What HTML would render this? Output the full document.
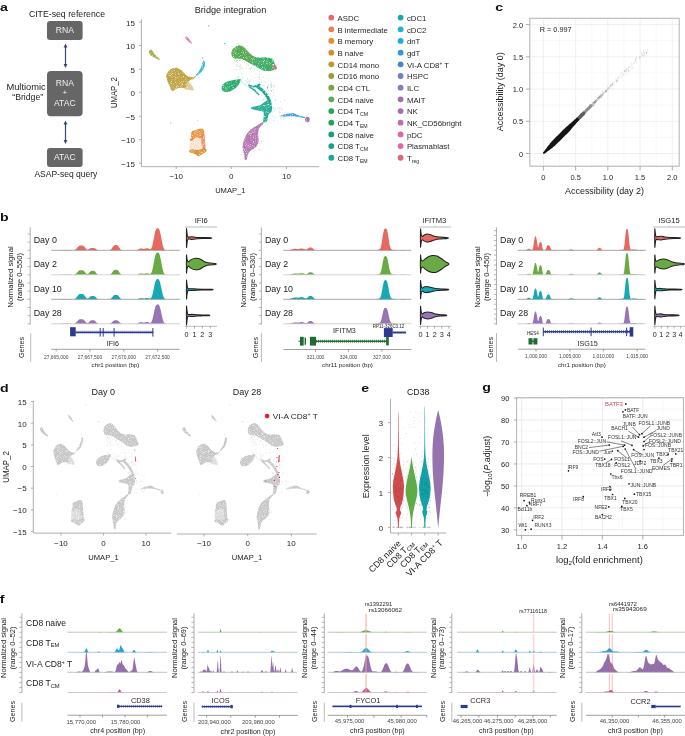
<!DOCTYPE html>
<html><head><meta charset="utf-8"><style>
html,body{margin:0;padding:0;background:#fff;}
body{width:685px;height:736px;overflow:hidden;font-family:"Liberation Sans",sans-serif;}
svg{display:block;will-change:transform;}
</style></head><body>
<svg width="685" height="736" viewBox="0 0 685 736" font-family="Liberation Sans, sans-serif" fill="#222222"><text transform="translate(0 10.6) scale(1.22 1)" font-size="11.6" font-weight="bold" fill="#111">a</text>
<text transform="translate(0 220.9) scale(1.22 1)" font-size="11.6" font-weight="bold" fill="#111">b</text>
<text transform="translate(495.2 10.6) scale(1.22 1)" font-size="11.6" font-weight="bold" fill="#111">c</text>
<text transform="translate(0 392.2) scale(1.22 1)" font-size="11.6" font-weight="bold" fill="#111">d</text>
<text transform="translate(361.2 392.0) scale(1.22 1)" font-size="11.6" font-weight="bold" fill="#111">e</text>
<text transform="translate(482.2 391.2) scale(1.22 1)" font-size="11.6" font-weight="bold" fill="#111">g</text>
<text transform="translate(-0.3 602.6) scale(1.22 1)" font-size="11.6" font-weight="bold" fill="#111">f</text>
<text x="28.9" y="17.3" font-size="8.7" textLength="76.1" lengthAdjust="spacingAndGlyphs">CITE-seq reference</text>
<rect x="47" y="21" width="35.6" height="19" fill="#666666" rx="3" />
<text x="64.8" y="33.1" font-size="8.6" text-anchor="middle" fill="#f0f0f0">RNA</text>
<rect x="47" y="70.9" width="35.6" height="45.3" fill="#666666" rx="4" />
<text x="64.8" y="85.5" font-size="8.6" text-anchor="middle" fill="#f0f0f0">RNA</text>
<text x="64.8" y="95.4" font-size="8" text-anchor="middle" fill="#f0f0f0">+</text>
<text x="64.8" y="106.1" font-size="8.6" text-anchor="middle" fill="#f0f0f0">ATAC</text>
<rect x="47" y="148" width="35.6" height="19" fill="#666666" rx="3" />
<text x="64.8" y="159.8" font-size="8.6" text-anchor="middle" fill="#f0f0f0">ATAC</text>
<text x="34.4" y="176.6" font-size="8.7" textLength="63" lengthAdjust="spacingAndGlyphs">ASAP-seq query</text>
<text x="45.7" y="89.8" font-size="8.7" text-anchor="end" textLength="39.3" lengthAdjust="spacingAndGlyphs">Multiomic</text>
<text x="43.2" y="99.7" font-size="8.7" text-anchor="end">“Bridge”</text>
<line x1="65.5" y1="45.6" x2="65.5" y2="66" stroke="#34496b" stroke-width="1.2" />
<path d="M65.5,43.6 L63.6,47.6 L67.4,47.6 Z" fill="#34496b" />
<path d="M65.5,68 L63.6,64 L67.4,64 Z" fill="#34496b" />
<line x1="65.5" y1="122.4" x2="65.5" y2="141.9" stroke="#34496b" stroke-width="1.2" />
<path d="M65.5,120.4 L63.6,124.4 L67.4,124.4 Z" fill="#34496b" />
<path d="M65.5,143.9 L63.6,139.9 L67.4,139.9 Z" fill="#34496b" />
<text x="230.5" y="12.6" font-size="8.9" text-anchor="middle" textLength="71.5" lengthAdjust="spacingAndGlyphs">Bridge integration</text>
<line x1="141.4" y1="19.3" x2="141.4" y2="166.7" stroke="#9a9a9a" stroke-width="0.8" />
<line x1="141.4" y1="166.7" x2="319.2" y2="166.7" stroke="#9a9a9a" stroke-width="0.8" />
<line x1="139" y1="22.2" x2="141.4" y2="22.2" stroke="#9a9a9a" stroke-width="0.8" />
<text x="134.9" y="25.5" font-size="8" text-anchor="end" fill="#262626">15</text>
<line x1="139" y1="45.5" x2="141.4" y2="45.5" stroke="#9a9a9a" stroke-width="0.8" />
<text x="134.9" y="48.8" font-size="8" text-anchor="end" fill="#262626">10</text>
<line x1="139" y1="69.2" x2="141.4" y2="69.2" stroke="#9a9a9a" stroke-width="0.8" />
<text x="134.9" y="72.5" font-size="8" text-anchor="end" fill="#262626">5</text>
<line x1="139" y1="92.3" x2="141.4" y2="92.3" stroke="#9a9a9a" stroke-width="0.8" />
<text x="134.9" y="95.6" font-size="8" text-anchor="end" fill="#262626">0</text>
<line x1="139" y1="116.3" x2="141.4" y2="116.3" stroke="#9a9a9a" stroke-width="0.8" />
<text x="134.9" y="119.6" font-size="8" text-anchor="end" fill="#262626">−5</text>
<line x1="139" y1="139.6" x2="141.4" y2="139.6" stroke="#9a9a9a" stroke-width="0.8" />
<text x="134.9" y="142.9" font-size="8" text-anchor="end" fill="#262626">−10</text>
<line x1="139" y1="163.2" x2="141.4" y2="163.2" stroke="#9a9a9a" stroke-width="0.8" />
<text x="134.9" y="166.5" font-size="8" text-anchor="end" fill="#262626">−15</text>
<line x1="176.2" y1="166.7" x2="176.2" y2="169.1" stroke="#9a9a9a" stroke-width="0.8" />
<text x="176.2" y="178.6" font-size="8" text-anchor="middle" fill="#262626">−10</text>
<line x1="231.3" y1="166.7" x2="231.3" y2="169.1" stroke="#9a9a9a" stroke-width="0.8" />
<text x="231.3" y="178.6" font-size="8" text-anchor="middle" fill="#262626">0</text>
<line x1="286.4" y1="166.7" x2="286.4" y2="169.1" stroke="#9a9a9a" stroke-width="0.8" />
<text x="286.4" y="178.6" font-size="8" text-anchor="middle" fill="#262626">10</text>
<text x="230.3" y="192.5" font-size="8" text-anchor="middle" textLength="30.3" lengthAdjust="spacingAndGlyphs">UMAP_1</text>
<text x="116.6" y="92.6" font-size="8.4" text-anchor="middle" transform="rotate(-90 116.6 92.6)" textLength="31" lengthAdjust="spacingAndGlyphs">UMAP_2</text>
<defs><filter id="sp" x="0" y="0" width="1" height="1"><feTurbulence type="fractalNoise" baseFrequency="1.1" numOctaves="1" seed="4" result="n"/><feColorMatrix in="n" type="matrix" values="0 0 0 0 0  0 0 0 0 0  0 0 0 0 0  0 0 0 -3.0 2.55" result="m"/><feComposite in="SourceGraphic" in2="m" operator="in"/></filter></defs>
<g filter="url(#sp)"><path d="M246.7 64.3h0M259.9 63.1h0M248.2 64.6h0M239.2 63.7h0M251.6 67.3h0M236.6 60.9h0M236.5 67.5h0M253.4 57.5h0M261.5 69.5h0M252.3 65.0h0M238.4 57.2h0M248.8 57.8h0M239.3 60.1h0M234.8 63.0h0M246.3 68.0h0M248.5 65.3h0M248.0 65.6h0M246.8 60.6h0M261.9 69.9h0M257.5 66.2h0M242.8 60.0h0M242.1 57.9h0M255.5 62.2h0M257.7 62.0h0M260.8 68.0h0M234.0 59.7h0M259.5 63.1h0M261.5 62.2h0M236.0 65.2h0M255.8 60.5h0M236.4 61.3h0M261.0 66.9h0M237.3 60.2h0M236.8 57.8h0M256.3 59.3h0M249.7 62.8h0M239.3 66.5h0M237.7 65.4h0M237.3 62.5h0M240.0 60.5h0M261.2 67.4h0M242.5 68.5h0M239.9 62.1h0M257.9 65.3h0M236.8 69.9h0M240.0 60.4h0M255.6 61.3h0M242.3 58.0h0M236.5 64.6h0M240.8 64.8h0M244.4 62.9h0M260.9 63.3h0M250.1 68.3h0M239.1 59.0h0M259.4 67.6h0M241.0 59.5h0M254.7 69.2h0M239.5 69.4h0M258.7 64.8h0M245.8 58.3h0M235.1 69.5h0M240.7 66.2h0M241.2 67.7h0M250.7 60.8h0M238.9 66.4h0M235.9 60.0h0M249.7 68.1h0M251.2 60.6h0M259.7 59.7h0M234.5 60.5h0" stroke="#6cbf7a" stroke-width="0.90" stroke-linecap="round" fill="none" opacity="0.55"/><path d="M250.3 69.0h0M241.6 73.9h0M254.3 70.1h0M247.6 82.3h0M267.4 78.5h0M258.1 77.4h0M240.5 68.6h0M236.6 82.6h0M258.4 83.4h0M236.7 78.2h0M251.4 79.7h0M246.2 84.0h0M238.4 76.7h0M259.6 82.4h0M259.6 79.3h0M261.4 82.6h0M247.3 79.0h0M264.8 81.9h0M249.3 80.6h0M263.6 77.2h0M256.0 74.1h0M254.6 77.7h0M238.6 78.2h0M267.8 82.1h0M259.3 74.2h0M259.5 77.3h0M250.1 81.4h0M238.7 80.0h0M237.0 77.6h0M251.4 71.7h0" stroke="#6cbf7a" stroke-width="0.90" stroke-linecap="round" fill="none" opacity="0.55"/><path d="M247.0 82.0h0M246.1 85.4h0M242.6 78.1h0M243.0 83.4h0M242.0 79.4h0M249.1 83.3h0M244.4 85.1h0M243.3 83.3h0M242.0 81.4h0M248.1 85.3h0M248.8 81.1h0M245.8 80.5h0M241.4 82.0h0M248.4 84.8h0M247.1 85.6h0" stroke="#5cb8a8" stroke-width="0.90" stroke-linecap="round" fill="none" opacity="0.55"/><path d="M265.9 89.8h0M268.3 93.4h0M265.0 98.1h0M270.8 100.8h0M266.4 112.5h0M275.7 99.4h0M263.0 85.1h0M274.2 85.4h0M271.9 103.4h0M266.3 110.9h0M262.3 88.6h0M268.4 84.8h0M273.6 92.1h0M264.0 85.6h0M270.8 99.2h0M270.8 106.3h0M273.3 116.6h0M271.6 90.8h0M268.7 90.1h0M262.2 100.1h0M272.0 90.1h0M265.8 95.8h0M271.8 101.7h0M270.6 109.7h0M267.5 110.9h0M274.7 87.0h0M275.1 108.6h0M263.8 99.4h0M270.8 114.9h0M267.3 103.3h0M274.3 111.1h0M275.2 99.8h0M271.1 91.0h0M272.1 111.8h0M271.0 108.4h0M265.0 114.6h0M275.7 117.2h0M269.5 110.9h0M266.5 114.9h0M274.0 95.8h0M263.2 99.0h0M269.7 110.1h0M268.8 85.0h0M273.3 86.2h0M273.2 89.9h0M266.7 110.8h0M264.0 89.1h0M269.2 108.6h0M273.8 107.4h0M275.2 100.7h0" stroke="#5cb8a8" stroke-width="0.90" stroke-linecap="round" fill="none" opacity="0.55"/><path d="M261.2 131.9h0M249.5 141.6h0M250.6 146.0h0M256.2 141.5h0M259.5 142.3h0M251.0 138.4h0M259.5 149.8h0M249.3 148.7h0M261.5 141.5h0M255.2 134.4h0M254.6 141.1h0M255.7 130.6h0M261.5 141.4h0M252.4 147.6h0M255.0 140.8h0M257.1 131.4h0M254.6 139.1h0M261.3 150.3h0M250.3 140.4h0M248.0 139.5h0M259.1 149.8h0M253.6 137.0h0M249.1 143.6h0M260.8 132.8h0M258.5 130.5h0M249.1 135.0h0M257.0 137.1h0M251.7 143.6h0M247.7 146.1h0M248.0 141.2h0M250.0 134.4h0M254.5 139.6h0M252.0 139.1h0M254.5 133.5h0M249.3 143.9h0M256.2 141.7h0M259.6 143.5h0M259.7 135.1h0M257.9 147.8h0M260.4 136.9h0" stroke="#c08fc0" stroke-width="0.90" stroke-linecap="round" fill="none" opacity="0.55"/><path d="M184.4 89.1h0M183.1 90.0h0M192.4 79.6h0M183.4 86.7h0M183.6 79.2h0M191.7 83.1h0M191.1 79.5h0M185.6 86.2h0M180.2 80.4h0M189.6 88.9h0M193.6 79.4h0M187.1 87.1h0M187.0 86.2h0M182.6 78.8h0M181.5 78.4h0M187.7 84.2h0M188.0 79.8h0M182.6 80.4h0M191.8 89.9h0M193.0 79.1h0M180.9 89.4h0M186.5 87.2h0M184.6 83.6h0M187.2 83.2h0M188.4 78.2h0M189.8 88.1h0M182.5 83.4h0M190.4 82.9h0M182.7 80.0h0M187.2 78.2h0" stroke="#c8b060" stroke-width="0.90" stroke-linecap="round" fill="none" opacity="0.55"/><path d="M283.4 117.6h0M280.6 118.9h0M279.4 108.9h0M279.0 111.1h0M284.7 117.7h0M273.9 120.0h0M281.2 117.1h0M282.2 108.9h0M283.4 119.4h0M280.4 116.9h0M281.5 108.9h0M280.8 101.6h0M275.1 110.3h0M270.2 107.8h0M279.6 113.7h0M273.5 120.8h0M280.0 107.4h0M279.9 112.5h0M278.0 108.6h0M285.0 114.1h0M280.5 116.8h0M284.7 100.5h0M279.2 116.3h0M273.8 108.8h0M270.8 104.3h0" stroke="#70a8d8" stroke-width="0.90" stroke-linecap="round" fill="none" opacity="0.55"/><path d="M194.1 140.0h0M192.8 148.1h0M196.1 144.1h0M200.6 144.7h0M200.9 145.4h0M198.9 139.8h0M196.6 146.6h0M190.5 148.3h0M191.8 143.7h0M191.9 144.0h0M196.7 139.6h0M200.4 143.2h0M195.8 145.0h0M194.0 141.9h0M197.2 144.6h0M193.1 146.2h0M193.3 139.1h0M192.7 139.4h0M191.7 146.5h0M194.3 148.0h0M198.2 139.5h0M200.9 148.4h0M190.8 148.1h0M194.7 143.8h0M200.7 141.4h0M195.8 148.4h0M198.0 143.7h0M200.8 147.2h0M196.6 140.2h0M196.9 143.6h0M192.2 139.5h0M195.8 140.2h0M194.9 145.7h0M195.0 141.6h0M196.4 143.2h0M198.6 144.3h0M201.0 148.5h0M198.1 141.4h0M191.3 147.9h0M198.6 145.2h0M194.0 141.7h0M197.5 144.6h0M196.5 145.3h0M198.3 140.9h0M192.7 148.8h0" stroke="#e8904a" stroke-width="0.90" stroke-linecap="round" fill="none" opacity="0.55"/><path d="M149.3,50.8 C149.73,50.3 150.95,49.57 151.6,49.8 C152.25,50.03 152.47,51.23 153.2,52.2 C153.93,53.17 154.95,54.43 156,55.6 C157.05,56.77 159.1,58.5 159.5,59.2 C159.9,59.9 159.25,60.07 158.4,59.8 C157.55,59.53 155.7,58.37 154.4,57.6 C153.1,56.83 151.5,56 150.6,55.2 C149.7,54.4 149.22,53.53 149,52.8 C148.78,52.07 148.87,51.3 149.3,50.8 Z" fill="#9c9e37" opacity="0.9"/><path d="M185.3,37.2 C185.53,36.9 186.12,36.2 186.8,36.6 C187.48,37 188.53,38.5 189.4,39.6 C190.27,40.7 191.73,42.53 192,43.2 C192.27,43.87 191.77,44.03 191,43.6 C190.23,43.17 188.33,41.47 187.4,40.6 C186.47,39.73 185.75,38.97 185.4,38.4 C185.05,37.83 185.07,37.5 185.3,37.2 Z" fill="#db68a8" opacity="0.9"/><path d="M203.4,60.4 C203.82,60.23 204.7,61.03 204.9,62 C205.1,62.97 204.98,64.77 204.6,66.2 C204.22,67.63 203.43,69.37 202.6,70.6 C201.77,71.83 200.53,72.77 199.6,73.6 C198.67,74.43 197.6,75.38 197,75.6 C196.4,75.82 195.73,75.53 196,74.9 C196.27,74.27 197.77,73.03 198.6,71.8 C199.43,70.57 200.37,68.97 201,67.5 C201.63,66.03 202,64.18 202.4,63 C202.8,61.82 202.98,60.57 203.4,60.4 Z" fill="#1db3d3" opacity="0.9"/><path d="M186,80.5 C186.88,79.63 189.25,79.48 189.8,79.8 C190.35,80.12 188.87,81.35 189.3,82.4 C189.73,83.45 191.7,84.78 192.4,86.1 C193.1,87.42 194.02,89.68 193.5,90.3 C192.98,90.92 190.72,89.98 189.3,89.8 C187.88,89.62 185.8,90 185,89.2 C184.2,88.4 184.33,86.45 184.5,85 C184.67,83.55 185.12,81.37 186,80.5 Z" fill="#d9c88e" opacity="0.9"/><path d="M166.4,77.7 C166.22,76.47 166.12,75.73 166.6,74.5 C167.08,73.27 168.07,71.38 169.3,70.3 C170.53,69.22 172.6,68.35 174,68 C175.4,67.65 176.47,67.82 177.7,68.2 C178.93,68.58 180.18,69.33 181.4,70.3 C182.62,71.27 183.78,72.98 185,74 C186.22,75.02 187.28,75.88 188.7,76.4 C190.12,76.92 192.2,77.23 193.5,77.1 C194.8,76.97 196.42,75.37 196.5,75.6 C196.58,75.83 195.12,77.73 194,78.5 C192.88,79.27 191.05,79.45 189.8,80.2 C188.55,80.95 187.22,81.78 186.5,83 C185.78,84.22 186.58,86.7 185.5,87.5 C184.42,88.3 181.48,87.58 180,87.8 C178.52,88.02 177.68,88.3 176.6,88.8 C175.52,89.3 174.37,90.55 173.5,90.8 C172.63,91.05 172.02,91 171.4,90.3 C170.78,89.6 170.42,88 169.8,86.6 C169.18,85.2 168.27,83.38 167.7,81.9 C167.13,80.42 166.58,78.93 166.4,77.7 Z" fill="#b99a33" opacity="0.9"/><path d="M231.6,52.5 C231.9,51.18 232.42,49.25 233.8,48.1 C235.18,46.95 238.05,45.58 239.9,45.6 C241.75,45.62 243.47,47.1 244.9,48.2 C246.33,49.3 247.27,50.97 248.5,52.2 C249.73,53.43 250.67,54.7 252.3,55.6 C253.93,56.5 255.98,57.3 258.3,57.6 C260.62,57.9 263.87,57.2 266.2,57.4 C268.53,57.6 270.93,57.87 272.3,58.8 C273.67,59.73 273.82,61.53 274.4,63 C274.98,64.47 276,66.4 275.8,67.6 C275.6,68.8 274.67,69.62 273.2,70.2 C271.73,70.78 268.75,71.1 267,71.1 C265.25,71.1 264.28,70.82 262.7,70.2 C261.12,69.58 259.37,68.45 257.5,67.4 C255.63,66.35 253.33,64.93 251.5,63.9 C249.67,62.87 248.28,62.08 246.5,61.2 C244.72,60.32 242.78,59.08 240.8,58.6 C238.82,58.12 236.07,58.73 234.6,58.3 C233.13,57.87 232.5,56.97 232,56 C231.5,55.03 231.3,53.82 231.6,52.5 Z" fill="#23a655" opacity="0.9"/><path d="M231.6,52.5 C231.9,51.18 232.42,49.25 233.8,48.1 C235.18,46.95 238.05,45.58 239.9,45.6 C241.75,45.62 243.47,47.1 244.9,48.2 C246.33,49.3 247.27,50.97 248.5,52.2 C249.73,53.43 251.47,54.3 252.3,55.6 C253.13,56.9 253.55,58.6 253.5,60 C253.45,61.4 253.17,63.8 252,64 C250.83,64.2 248.37,62.1 246.5,61.2 C244.63,60.3 242.78,59.08 240.8,58.6 C238.82,58.12 236.07,58.73 234.6,58.3 C233.13,57.87 232.5,56.97 232,56 C231.5,55.03 231.3,53.82 231.6,52.5 Z" fill="#5baa52" opacity="0.9"/><path d="M221.6,87.5 C221.77,86.42 222.52,85 223.5,84 C224.48,83 226,82.13 227.5,81.5 C229,80.87 230.92,80.53 232.5,80.2 C234.08,79.87 235.65,79.67 237,79.5 C238.35,79.33 240.07,78.87 240.6,79.2 C241.13,79.53 240.55,80.53 240.2,81.5 C239.85,82.47 239.37,83.78 238.5,85 C237.63,86.22 236.42,87.73 235,88.8 C233.58,89.87 231.58,90.87 230,91.4 C228.42,91.93 226.75,92.15 225.5,92 C224.25,91.85 223.15,91.25 222.5,90.5 C221.85,89.75 221.43,88.58 221.6,87.5 Z" fill="#1ba561" opacity="0.9"/><path d="M262.5,122.2 C263.5,121.9 263.82,122.6 263.4,123.4 C262.98,124.2 260.82,125.9 260,127 C259.18,128.1 258.8,128.67 258.5,130 C258.2,131.33 258.18,133.33 258.2,135 C258.22,136.67 258.7,138.33 258.6,140 C258.5,141.67 258.37,143.57 257.6,145 C256.83,146.43 255.33,147.5 254,148.6 C252.67,149.7 250.67,150.37 249.6,151.6 C248.53,152.83 248.07,154.67 247.6,156 C247.13,157.33 247.27,158.97 246.8,159.6 C246.33,160.23 245.23,160.57 244.8,159.8 C244.37,159.03 244.5,156.63 244.2,155 C243.9,153.37 243.27,151.5 243,150 C242.73,148.5 242.5,147.5 242.6,146 C242.7,144.5 243.1,142.67 243.6,141 C244.1,139.33 244.77,137.57 245.6,136 C246.43,134.43 247.43,132.9 248.6,131.6 C249.77,130.3 251.13,129.27 252.6,128.2 C254.07,127.13 255.75,126.2 257.4,125.2 C259.05,124.2 261.5,122.5 262.5,122.2 Z" fill="#ad6daa" opacity="0.9"/><path d="M262.6,103.6 C263.87,102.83 266.07,100.28 267.6,100.6 C269.13,100.92 271.13,103.68 271.8,105.5 C272.47,107.32 272.1,110.05 271.6,111.5 C271.1,112.95 269.43,113.12 268.8,114.2 C268.17,115.28 268.13,116.8 267.8,118 C267.47,119.2 267.57,120.7 266.8,121.4 C266.03,122.1 263.7,123.1 263.2,122.2 C262.7,121.3 263.83,117.73 263.8,116 C263.77,114.27 263.97,112.73 263,111.8 C262.03,110.87 259.75,110.77 258,110.4 C256.25,110.03 253.67,110.07 252.5,109.6 C251.33,109.13 250.5,108.17 251,107.6 C251.5,107.03 254,106.6 255.5,106.2 C257,105.8 258.82,105.63 260,105.2 C261.18,104.77 261.33,104.37 262.6,103.6 Z" fill="#14a58f" opacity="0.9"/><path d="M281.2,115.4 C282,115.03 284.28,114.52 286,114.1 C287.72,113.68 290.08,113 291.5,112.9 C292.92,112.8 293.42,113.12 294.5,113.5 C295.58,113.88 296.25,114.6 298,115.2 C299.75,115.8 303.83,116.62 305,117.1 C306.17,117.58 306.17,118.13 305,118.1 C303.83,118.07 300.08,117.22 298,116.9 C295.92,116.58 294.5,116.28 292.5,116.2 C290.5,116.12 287.88,116.38 286,116.4 C284.12,116.42 282,116.47 281.2,116.3 C280.4,116.13 280.4,115.77 281.2,115.4 Z" fill="#2f98d6" opacity="0.9"/><path d="M191,137.5 C192.07,136.33 194.17,137.5 196,137.5 C197.83,137.5 200.67,136.58 202,137.5 C203.33,138.42 203.67,140.92 204,143 C204.33,145.08 205.33,148.67 204,150 C202.67,151.33 198.33,150.92 196,151 C193.67,151.08 191.07,151.58 190,150.5 C188.93,149.42 189.43,146.67 189.6,144.5 C189.77,142.33 189.93,138.67 191,137.5 Z" fill="#f8e2cc" opacity="0.9"/><path d="M192,131.2 C192.8,130.62 194.75,130.4 196,130 C197.25,129.6 198.4,129 199.5,128.8 C200.6,128.6 201.82,128.35 202.6,128.8 C203.38,129.25 203.97,130.22 204.2,131.5 C204.43,132.78 204.62,135.38 204,136.5 C203.38,137.62 201.83,138.02 200.5,138.2 C199.17,138.38 197.25,137.37 196,137.6 C194.75,137.83 193.8,139.62 193,139.6 C192.2,139.58 191.5,138.52 191.2,137.5 C190.9,136.48 191.07,134.55 191.2,133.5 C191.33,132.45 191.2,131.78 192,131.2 Z" fill="#e58a2d" opacity="0.9"/><path d="M201.6,135.5 C202.03,134.08 203.63,133.58 204.2,134.5 C204.77,135.42 204.8,138.58 205,141 C205.2,143.42 205.8,147.63 205.4,149 C205,150.37 203.23,150.2 202.6,149.2 C201.97,148.2 201.77,145.28 201.6,143 C201.43,140.72 201.17,136.92 201.6,135.5 Z" fill="#e8804f" opacity="0.9"/><path d="M189.2,150.6 C189.7,150.07 191.53,149.3 193,149.2 C194.47,149.1 196.33,150.07 198,150 C199.67,149.93 201.5,148.9 203,148.8 C204.5,148.7 206.57,148.87 207,149.4 C207.43,149.93 206.47,151.13 205.6,152 C204.73,152.87 202.83,153.9 201.8,154.6 C200.77,155.3 200.28,156.1 199.4,156.2 C198.52,156.3 197.48,155.67 196.5,155.2 C195.52,154.73 194.58,153.87 193.5,153.4 C192.42,152.93 190.72,152.87 190,152.4 C189.28,151.93 188.7,151.13 189.2,150.6 Z" fill="#d48e2f" opacity="0.9"/><path d="M249.2,85.6 C250,85.77 252.27,86.77 254,86.6 C255.73,86.43 258.67,84.93 259.6,84.6" fill="none" stroke="#14a58f" stroke-width="2.0" stroke-linecap="round" stroke-linejoin="round"/><path d="M257.5,86.5 C258.33,87.17 260.82,88.75 262.5,90.5 C264.18,92.25 266.32,94.83 267.6,97 C268.88,99.17 269.77,102.42 270.2,103.5" fill="none" stroke="#14a58f" stroke-width="3.0" stroke-linecap="round" stroke-linejoin="round"/><path d="M249.5,86.8 C250.33,87.37 252.98,88.9 254.5,90.2 C256.02,91.5 257.92,93.87 258.6,94.6" fill="none" stroke="#3aae9a" stroke-width="1.8" stroke-linecap="round" stroke-linejoin="round"/><ellipse cx="275" cy="67.4" rx="1.9" ry="2.3" fill="#de6479"/><ellipse cx="307.4" cy="119.6" rx="2.3" ry="2.8" fill="#9b72ac"/><ellipse cx="208.6" cy="25.8" rx="0.6" ry="0.6" fill="#1db3d3"/><ellipse cx="224.7" cy="43.6" rx="0.7" ry="0.6" fill="#1db3d3"/><ellipse cx="170.6" cy="122.9" rx="0.5" ry="0.5" fill="#4060a0"/><ellipse cx="197.6" cy="120.3" rx="0.5" ry="0.5" fill="#db68a8"/><ellipse cx="202.3" cy="58" rx="0.5" ry="0.9" fill="#e58a9a"/><ellipse cx="191.4" cy="139.6" rx="1.6" ry="1.2" fill="#e8804f"/><ellipse cx="267.6" cy="87.4" rx="0.5" ry="1.2" fill="#8a7ab5"/><path d="M249,57.5 Q260,62 273.5,67.2" fill="none" stroke="#c98a7a" stroke-width="1" opacity="0.55"/><path d="M271.1,82 L271.2,88" stroke="#9cc8e8" stroke-width="0.8"/></g>
<circle cx="331.3" cy="17.6" r="2.9" fill="#e46b6f"/>
<text x="337.5" y="21" font-size="7.8" fill="#262626">ASDC</text>
<circle cx="331.3" cy="29.28" r="2.9" fill="#e8804f"/>
<text x="337.5" y="32.68" font-size="7.8" fill="#262626">B intermediate</text>
<circle cx="331.3" cy="40.96" r="2.9" fill="#e58a2d"/>
<text x="337.5" y="44.36" font-size="7.8" fill="#262626">B memory</text>
<circle cx="331.3" cy="52.64" r="2.9" fill="#d48e2f"/>
<text x="337.5" y="56.04" font-size="7.8" fill="#262626">B naive</text>
<circle cx="331.3" cy="64.32" r="2.9" fill="#b99a33"/>
<text x="337.5" y="67.72" font-size="7.8" fill="#262626">CD14 mono</text>
<circle cx="331.3" cy="76" r="2.9" fill="#9c9e37"/>
<text x="337.5" y="79.4" font-size="7.8" fill="#262626">CD16 mono</text>
<circle cx="331.3" cy="87.68" r="2.9" fill="#72a843"/>
<text x="337.5" y="91.08" font-size="7.8" fill="#262626">CD4 CTL</text>
<circle cx="331.3" cy="99.36" r="2.9" fill="#5baa52"/>
<text x="337.5" y="102.76" font-size="7.8" fill="#262626">CD4 naive</text>
<circle cx="331.3" cy="111.04" r="2.9" fill="#23a655"/>
<text x="337.5" y="114.44" font-size="7.8" fill="#262626">CD4 T<tspan font-size="5.2" dy="1.6">CM</tspan></text>
<circle cx="331.3" cy="122.72" r="2.9" fill="#22a65a"/>
<text x="337.5" y="126.12" font-size="7.8" fill="#262626">CD4 T<tspan font-size="5.2" dy="1.6">EM</tspan></text>
<circle cx="331.3" cy="134.4" r="2.9" fill="#16a46b"/>
<text x="337.5" y="137.8" font-size="7.8" fill="#262626">CD8 naive</text>
<circle cx="331.3" cy="146.08" r="2.9" fill="#16a384"/>
<text x="337.5" y="149.48" font-size="7.8" fill="#262626">CD8 T<tspan font-size="5.2" dy="1.6">CM</tspan></text>
<circle cx="331.3" cy="157.76" r="2.9" fill="#1aa89a"/>
<text x="337.5" y="161.16" font-size="7.8" fill="#262626">CD8 T<tspan font-size="5.2" dy="1.6">EM</tspan></text>
<circle cx="400.6" cy="17.6" r="2.9" fill="#1ba9a6"/>
<text x="406.9" y="21" font-size="7.8" fill="#262626">cDC1</text>
<circle cx="400.6" cy="29.28" r="2.9" fill="#1db3d3"/>
<text x="406.9" y="32.68" font-size="7.8" fill="#262626">cDC2</text>
<circle cx="400.6" cy="40.96" r="2.9" fill="#17ade5"/>
<text x="406.9" y="44.36" font-size="7.8" fill="#262626">dnT</text>
<circle cx="400.6" cy="52.64" r="2.9" fill="#2f98d6"/>
<text x="406.9" y="56.04" font-size="7.8" fill="#262626">gdT</text>
<circle cx="400.6" cy="64.32" r="2.9" fill="#4785c7"/>
<text x="406.9" y="67.72" font-size="7.8" fill="#262626">VI-A CD8<tspan font-size="4.8" dy="-3">+</tspan><tspan dy="3"> T</tspan></text>
<circle cx="400.6" cy="76" r="2.9" fill="#7380be"/>
<text x="406.9" y="79.4" font-size="7.8" fill="#262626">HSPC</text>
<circle cx="400.6" cy="87.68" r="2.9" fill="#8a7ab5"/>
<text x="406.9" y="91.08" font-size="7.8" fill="#262626">ILC</text>
<circle cx="400.6" cy="99.36" r="2.9" fill="#9b72ac"/>
<text x="406.9" y="102.76" font-size="7.8" fill="#262626">MAIT</text>
<circle cx="400.6" cy="111.04" r="2.9" fill="#ad6daa"/>
<text x="406.9" y="114.44" font-size="7.8" fill="#262626">NK</text>
<circle cx="400.6" cy="122.72" r="2.9" fill="#c26bad"/>
<text x="406.9" y="126.12" font-size="7.8" fill="#262626">NK_CD56bright</text>
<circle cx="400.6" cy="134.4" r="2.9" fill="#db68a8"/>
<text x="406.9" y="137.8" font-size="7.8" fill="#262626">pDC</text>
<circle cx="400.6" cy="146.08" r="2.9" fill="#e4669d"/>
<text x="406.9" y="149.48" font-size="7.8" fill="#262626">Plasmablast</text>
<circle cx="400.6" cy="157.76" r="2.9" fill="#de6479"/>
<text x="406.9" y="161.16" font-size="7.8" fill="#262626">T<tspan font-size="5.2" dy="1.6">reg</tspan></text>
<line x1="559.51" y1="18.3" x2="559.51" y2="166.2" stroke="#f4f4f4" stroke-width="0.6" />
<line x1="529.8" y1="137.39" x2="679.2" y2="137.39" stroke="#f4f4f4" stroke-width="0.6" />
<line x1="591.74" y1="18.3" x2="591.74" y2="166.2" stroke="#f4f4f4" stroke-width="0.6" />
<line x1="529.8" y1="105.16" x2="679.2" y2="105.16" stroke="#f4f4f4" stroke-width="0.6" />
<line x1="623.96" y1="18.3" x2="623.96" y2="166.2" stroke="#f4f4f4" stroke-width="0.6" />
<line x1="529.8" y1="72.94" x2="679.2" y2="72.94" stroke="#f4f4f4" stroke-width="0.6" />
<line x1="656.19" y1="18.3" x2="656.19" y2="166.2" stroke="#f4f4f4" stroke-width="0.6" />
<line x1="529.8" y1="40.71" x2="679.2" y2="40.71" stroke="#f4f4f4" stroke-width="0.6" />
<line x1="543.4" y1="18.3" x2="543.4" y2="166.2" stroke="#e9e9e9" stroke-width="0.7" />
<line x1="529.8" y1="153.5" x2="679.2" y2="153.5" stroke="#e9e9e9" stroke-width="0.7" />
<line x1="575.62" y1="18.3" x2="575.62" y2="166.2" stroke="#e9e9e9" stroke-width="0.7" />
<line x1="529.8" y1="121.28" x2="679.2" y2="121.28" stroke="#e9e9e9" stroke-width="0.7" />
<line x1="607.85" y1="18.3" x2="607.85" y2="166.2" stroke="#e9e9e9" stroke-width="0.7" />
<line x1="529.8" y1="89.05" x2="679.2" y2="89.05" stroke="#e9e9e9" stroke-width="0.7" />
<line x1="640.08" y1="18.3" x2="640.08" y2="166.2" stroke="#e9e9e9" stroke-width="0.7" />
<line x1="529.8" y1="56.82" x2="679.2" y2="56.82" stroke="#e9e9e9" stroke-width="0.7" />
<line x1="672.3" y1="18.3" x2="672.3" y2="166.2" stroke="#e9e9e9" stroke-width="0.7" />
<line x1="529.8" y1="24.6" x2="679.2" y2="24.6" stroke="#e9e9e9" stroke-width="0.7" />
<rect x="529.8" y="18.3" width="149.4" height="147.9" fill="none" stroke="#b8b8b8" stroke-width="1.1"/>
<line x1="525.8" y1="153.5" x2="529.8" y2="153.5" stroke="#999" stroke-width="0.8" />
<text x="523.1" y="156.5" font-size="7.5" text-anchor="end" fill="#262626">0</text>
<line x1="543.4" y1="166.2" x2="543.4" y2="170.6" stroke="#999" stroke-width="0.8" />
<text x="543.4" y="179.6" font-size="7.5" text-anchor="middle" fill="#262626">0</text>
<line x1="525.8" y1="121.28" x2="529.8" y2="121.28" stroke="#999" stroke-width="0.8" />
<text x="523.1" y="124.28" font-size="7.5" text-anchor="end" fill="#262626">0.5</text>
<line x1="575.62" y1="166.2" x2="575.62" y2="170.6" stroke="#999" stroke-width="0.8" />
<text x="575.62" y="179.6" font-size="7.5" text-anchor="middle" fill="#262626">0.5</text>
<line x1="525.8" y1="89.05" x2="529.8" y2="89.05" stroke="#999" stroke-width="0.8" />
<text x="523.1" y="92.05" font-size="7.5" text-anchor="end" fill="#262626">1.0</text>
<line x1="607.85" y1="166.2" x2="607.85" y2="170.6" stroke="#999" stroke-width="0.8" />
<text x="607.85" y="179.6" font-size="7.5" text-anchor="middle" fill="#262626">1.0</text>
<line x1="525.8" y1="56.82" x2="529.8" y2="56.82" stroke="#999" stroke-width="0.8" />
<text x="523.1" y="59.82" font-size="7.5" text-anchor="end" fill="#262626">1.5</text>
<line x1="640.08" y1="166.2" x2="640.08" y2="170.6" stroke="#999" stroke-width="0.8" />
<text x="640.08" y="179.6" font-size="7.5" text-anchor="middle" fill="#262626">1.5</text>
<line x1="525.8" y1="24.6" x2="529.8" y2="24.6" stroke="#999" stroke-width="0.8" />
<text x="523.1" y="27.6" font-size="7.5" text-anchor="end" fill="#262626">2.0</text>
<line x1="672.3" y1="166.2" x2="672.3" y2="170.6" stroke="#999" stroke-width="0.8" />
<text x="672.3" y="179.6" font-size="7.5" text-anchor="middle" fill="#262626">2.0</text>
<text x="604.5" y="193.5" font-size="8.8" text-anchor="middle" textLength="79" lengthAdjust="spacingAndGlyphs">Accessibility (day 2)</text>
<text x="502.6" y="91.8" font-size="8.8" text-anchor="middle" transform="rotate(-90 502.6 91.8)" textLength="79" lengthAdjust="spacingAndGlyphs">Accessibility (day 0)</text>
<text x="539.8" y="32.1" font-size="7.3" textLength="31.8" lengthAdjust="spacingAndGlyphs">R = 0.997</text>
<path d="M574.4 119.6h0M594.1 102.3h0M583.8 115.2h0M578.4 118.9h0M580.6 118.2h0M587.4 109.7h0M575.9 120.0h0M575.4 121.4h0M584.7 113.2h0M583.7 111.2h0M576.2 121.0h0M576.0 121.5h0M585.7 109.1h0M576.9 120.6h0M576.2 119.4h0M599.6 96.5h0M579.1 118.3h0M576.7 121.7h0M589.9 106.6h0M576.2 121.1h0M596.1 101.4h0M578.3 119.5h0M594.3 105.3h0M590.1 107.3h0M596.1 100.3h0M582.8 115.3h0M587.4 110.6h0M587.1 109.8h0M595.4 102.3h0M584.4 114.4h0M581.3 115.3h0M585.8 110.3h0M579.2 119.9h0M594.3 102.4h0M591.9 104.7h0M594.3 102.5h0M577.4 119.0h0M580.0 118.1h0M587.6 108.3h0M581.1 115.9h0M589.7 106.6h0M577.4 120.4h0M575.6 121.0h0M599.3 96.1h0M577.1 118.8h0M586.6 110.3h0M576.2 119.4h0M576.9 118.9h0M587.6 108.3h0M584.1 114.1h0M582.7 115.7h0M589.7 104.6h0M595.6 100.5h0M576.8 119.5h0M583.8 114.3h0M575.2 120.9h0M583.4 114.6h0M583.0 113.1h0M577.2 120.1h0M598.6 97.4h0M598.0 97.5h0M580.4 113.7h0M594.0 101.5h0M586.0 111.5h0M575.4 122.0h0M583.8 113.8h0M588.4 108.8h0M577.1 118.7h0M588.9 109.7h0M577.6 118.7h0M581.7 114.4h0M580.2 114.8h0M578.7 118.4h0M576.4 120.4h0M577.0 119.4h0M576.8 121.0h0M577.3 119.0h0M580.5 115.1h0M586.2 110.0h0M592.1 106.1h0M589.4 107.8h0M580.9 118.2h0M595.0 102.0h0M594.9 103.8h0M591.0 105.2h0M578.4 118.8h0M588.9 108.7h0M581.7 114.9h0M583.3 113.3h0M576.3 121.8h0M594.6 103.0h0M575.7 121.1h0M590.2 108.0h0M584.0 111.8h0M580.5 115.8h0M576.6 122.0h0M590.9 107.4h0M577.8 121.0h0M595.9 101.5h0M581.9 116.1h0M576.1 120.4h0M584.4 112.8h0M589.4 107.0h0M585.2 112.6h0M580.9 117.5h0M594.7 101.1h0M583.1 111.3h0M580.9 116.6h0M576.7 121.2h0M584.7 112.4h0M581.9 115.9h0M583.0 113.4h0M590.4 105.1h0M601.6 97.4h0M576.4 120.7h0M576.3 121.0h0M580.3 115.4h0M586.3 112.2h0M599.2 98.2h0M593.6 105.8h0M576.6 118.4h0M592.9 102.5h0M595.5 102.6h0M580.1 116.4h0M600.5 94.4h0M580.9 115.2h0M579.4 118.7h0M584.6 112.0h0M574.9 120.5h0M578.7 117.2h0M575.5 120.6h0M594.4 102.5h0M576.8 120.8h0M584.7 113.3h0M599.7 97.1h0M589.3 107.9h0M589.5 108.6h0M600.4 96.6h0M581.4 114.2h0M577.8 118.2h0M581.3 116.9h0M589.8 105.4h0M576.3 121.4h0M580.3 116.5h0M595.0 102.5h0M578.5 118.9h0" stroke="#555" stroke-width="0.90" stroke-linecap="round" fill="none" opacity="0.45"/>
<path d="M606.3 91.1h0M640.4 57.1h0M609.1 88.5h0M602.7 95.2h0M606.0 91.0h0M632.1 64.8h0M646.1 52.2h0M641.4 52.7h0M644.2 54.2h0M618.7 78.4h0M621.9 73.2h0M642.6 54.7h0M639.8 58.9h0M632.8 68.2h0M636.4 57.5h0M613.0 84.8h0M625.9 69.1h0M617.9 81.4h0M623.4 74.7h0M643.6 50.9h0M615.9 79.6h0M647.7 52.1h0M612.4 83.7h0M603.7 95.0h0M624.8 70.7h0M626.0 68.3h0M630.8 65.1h0M641.1 53.5h0M617.3 80.4h0M602.4 94.1h0M606.7 91.1h0M616.1 81.7h0M612.1 84.6h0M642.9 55.2h0M624.8 71.3h0M643.7 56.0h0M644.0 55.5h0M639.8 57.7h0M607.4 87.9h0M617.9 78.6h0M633.8 62.9h0M620.6 74.1h0M613.8 82.2h0M636.0 59.2h0M630.0 67.1h0M628.8 70.9h0M612.5 83.1h0M622.3 75.6h0M625.8 72.1h0M626.4 71.7h0M647.5 49.3h0M628.8 68.0h0M641.6 55.3h0M604.9 91.1h0M606.7 90.8h0M602.2 95.3h0M602.7 90.6h0M635.3 59.3h0M618.2 77.8h0M631.8 63.4h0M624.9 74.6h0M611.9 85.0h0M643.4 52.3h0M626.4 69.1h0M602.7 92.3h0M639.4 56.9h0M610.3 85.4h0M616.8 80.4h0M616.7 80.2h0M606.6 86.0h0M645.5 49.6h0M644.7 52.8h0M636.4 57.9h0M606.4 90.9h0M602.5 94.3h0M614.2 83.7h0M618.8 76.6h0M624.5 70.7h0M616.2 80.6h0M624.9 71.2h0M611.2 85.4h0M619.9 76.7h0M631.8 67.6h0M626.8 70.1h0M621.4 77.6h0M643.5 52.7h0M625.2 71.1h0M646.3 53.1h0M646.6 53.0h0M605.6 90.4h0M627.2 69.2h0M635.9 61.4h0M606.7 91.1h0M646.4 53.1h0M612.4 83.9h0M623.0 72.0h0M611.0 84.7h0M602.8 94.8h0M616.4 82.7h0M612.3 88.0h0M613.1 85.7h0M605.6 91.3h0M635.1 61.1h0M636.4 63.0h0M634.0 63.0h0M628.3 71.1h0M635.7 60.5h0M605.3 92.6h0M604.9 92.2h0M603.2 92.7h0M617.4 81.1h0M628.5 70.0h0M628.3 66.8h0M606.8 91.7h0" stroke="#666" stroke-width="0.90" stroke-linecap="round" fill="none" opacity="0.3"/>
<path d="M573.05,123.85 L583.36,113.54" stroke="#3a3a3a" stroke-width="3.6" stroke-linecap="round" opacity="0.8"/>
<path d="M579.49,117.41 L591.09,105.81" stroke="#666666" stroke-width="3.0" stroke-linecap="round" opacity="0.6"/>
<path d="M588.51,108.38 L601.4,95.5" stroke="#8c8c8c" stroke-width="2.2" stroke-linecap="round" opacity="0.5"/>
<path d="M598.83,98.07 L611.07,85.83" stroke="#b0b0b0" stroke-width="1.5" stroke-linecap="round" opacity="0.45"/>
<path d="M542.91,153.01 C542.87,152.65 543.44,152.25 543.71,151.87 C543.97,151.49 544.24,151.12 544.51,150.74 C544.78,150.37 545.05,149.99 545.32,149.62 C545.59,149.24 545.86,148.87 546.13,148.5 C546.4,148.12 546.68,147.75 546.95,147.39 C547.23,147.02 547.51,146.65 547.79,146.29 C548.07,145.92 548.35,145.56 548.63,145.2 C548.92,144.84 549.21,144.48 549.49,144.13 C549.78,143.77 550.08,143.42 550.37,143.07 C550.67,142.72 550.96,142.37 551.27,142.03 C551.57,141.69 551.87,141.35 552.18,141.01 C552.49,140.67 552.8,140.34 553.11,140.01 C553.42,139.68 553.74,139.35 554.06,139.02 C554.38,138.7 554.7,138.38 555.03,138.06 C555.35,137.73 555.67,137.41 555.99,137.09 C556.31,136.77 556.64,136.45 556.96,136.12 C557.28,135.8 557.6,135.48 557.93,135.16 C558.25,134.83 558.57,134.51 558.89,134.19 C559.21,133.87 559.54,133.54 559.86,133.22 C560.18,132.9 560.5,132.58 560.83,132.26 C561.15,131.93 561.47,131.61 561.79,131.29 C562.11,130.97 562.44,130.64 562.76,130.32 C563.08,130 563.4,129.68 563.73,129.36 C564.05,129.03 564.37,128.71 564.69,128.39 C565.02,128.07 565.33,127.73 565.66,127.42 C565.99,127.11 566.34,126.81 566.68,126.51 C567.03,126.21 567.39,125.93 567.74,125.63 C568.09,125.34 568.44,125.05 568.79,124.75 C569.14,124.46 569.49,124.16 569.84,123.87 C570.19,123.58 570.54,123.28 570.9,122.99 C571.25,122.7 571.6,122.4 571.95,122.11 C572.3,121.82 572.65,121.52 573,121.23 C573.35,120.94 573.7,120.64 574.05,120.35 C574.41,120.06 574.76,119.76 575.11,119.47 C575.46,119.17 575.81,118.88 576.16,118.59 C576.51,118.29 576.71,117.52 577.21,117.71 C577.72,117.89 579.01,119.18 579.19,119.69 C579.38,120.19 578.61,120.39 578.31,120.74 C578.02,121.09 577.73,121.44 577.43,121.79 C577.14,122.14 576.84,122.49 576.55,122.85 C576.26,123.2 575.96,123.55 575.67,123.9 C575.38,124.25 575.08,124.6 574.79,124.95 C574.5,125.3 574.2,125.65 573.91,126 C573.62,126.36 573.32,126.71 573.03,127.06 C572.74,127.41 572.44,127.76 572.15,128.11 C571.85,128.46 571.56,128.81 571.27,129.16 C570.97,129.51 570.69,129.87 570.39,130.22 C570.09,130.56 569.79,130.91 569.48,131.24 C569.17,131.57 568.83,131.88 568.51,132.21 C568.19,132.53 567.87,132.85 567.54,133.17 C567.22,133.5 566.9,133.82 566.58,134.14 C566.26,134.46 565.93,134.79 565.61,135.11 C565.29,135.43 564.97,135.75 564.64,136.07 C564.32,136.4 564,136.72 563.68,137.04 C563.36,137.36 563.03,137.69 562.71,138.01 C562.39,138.33 562.07,138.65 561.74,138.97 C561.42,139.3 561.1,139.62 560.78,139.94 C560.45,140.26 560.13,140.59 559.81,140.91 C559.49,141.23 559.17,141.55 558.84,141.87 C558.52,142.2 558.2,142.52 557.88,142.84 C557.55,143.16 557.22,143.48 556.89,143.79 C556.56,144.1 556.23,144.41 555.89,144.72 C555.55,145.03 555.21,145.33 554.87,145.63 C554.53,145.94 554.18,146.23 553.83,146.53 C553.48,146.82 553.13,147.12 552.77,147.41 C552.42,147.69 552.06,147.98 551.7,148.27 C551.34,148.55 550.98,148.83 550.61,149.11 C550.25,149.39 549.88,149.67 549.51,149.95 C549.15,150.22 548.78,150.5 548.4,150.77 C548.03,151.04 547.66,151.31 547.28,151.58 C546.91,151.85 546.53,152.12 546.16,152.39 C545.78,152.66 545.41,152.93 545.03,153.19 C544.65,153.46 544.25,154.03 543.89,153.99 C543.54,153.96 542.94,153.36 542.91,153.01 Z" fill="#151515"/>
<line x1="30.2" y1="227.3" x2="30.2" y2="324.6" stroke="#9a9a9a" stroke-width="0.8" />
<line x1="27.6" y1="250.3" x2="30.2" y2="250.3" stroke="#9a9a9a" stroke-width="0.7" />
<line x1="27.6" y1="242.13" x2="30.2" y2="242.13" stroke="#9a9a9a" stroke-width="0.7" />
<line x1="27.6" y1="233.97" x2="30.2" y2="233.97" stroke="#9a9a9a" stroke-width="0.7" />
<line x1="27.6" y1="274.8" x2="30.2" y2="274.8" stroke="#9a9a9a" stroke-width="0.7" />
<line x1="27.6" y1="266.63" x2="30.2" y2="266.63" stroke="#9a9a9a" stroke-width="0.7" />
<line x1="27.6" y1="258.47" x2="30.2" y2="258.47" stroke="#9a9a9a" stroke-width="0.7" />
<line x1="27.6" y1="299.3" x2="30.2" y2="299.3" stroke="#9a9a9a" stroke-width="0.7" />
<line x1="27.6" y1="291.13" x2="30.2" y2="291.13" stroke="#9a9a9a" stroke-width="0.7" />
<line x1="27.6" y1="282.97" x2="30.2" y2="282.97" stroke="#9a9a9a" stroke-width="0.7" />
<line x1="27.6" y1="323.8" x2="30.2" y2="323.8" stroke="#9a9a9a" stroke-width="0.7" />
<line x1="27.6" y1="315.63" x2="30.2" y2="315.63" stroke="#9a9a9a" stroke-width="0.7" />
<line x1="27.6" y1="307.47" x2="30.2" y2="307.47" stroke="#9a9a9a" stroke-width="0.7" />
<path d="M51.2,250.3L56.4,250.3L56.8,250.3L57.2,250.2L57.6,250.2L58.0,250.2L58.4,250.2L58.8,250.2L59.2,250.2L59.6,250.2L60.0,250.2L60.4,250.2L60.8,250.2L61.2,250.1L61.6,250.1L62.0,250.1L62.4,250.1L62.8,250.1L63.2,250.1L63.6,250.1L64.0,250.1L64.4,250.1L64.8,250.1L65.2,250.1L65.6,250.1L66.0,250.1L66.4,250.1L66.8,250.1L67.2,250.1L67.6,250.1L68.0,250.1L68.4,250.1L68.8,250.1L69.2,250.1L69.6,250.1L70.0,250.1L70.4,250.1L70.8,250.1L71.2,250.2L71.6,250.2L72.0,250.2L72.4,250.2L72.8,250.2L73.2,250.2L73.6,250.2L74.0,250.2L74.4,250.1L74.8,250.0L75.2,249.8L75.6,249.5L76.0,249.2L76.4,248.7L76.8,248.3L77.2,247.7L77.6,247.2L78.0,246.8L78.4,246.4L78.8,246.1L79.2,245.8L79.6,245.7L80.0,245.6L80.4,245.5L80.8,245.5L81.2,245.5L81.6,245.5L82.0,245.5L82.4,245.6L82.8,245.7L83.2,245.8L83.6,246.1L84.0,246.4L84.4,246.8L84.8,247.3L85.2,247.8L85.6,248.3L86.0,248.8L86.4,249.2L86.8,249.5L87.2,249.7L87.6,249.8L88.0,249.7L88.4,249.6L88.8,249.3L89.2,249.0L89.6,248.7L90.0,248.5L90.4,248.3L90.8,248.1L91.2,248.0L91.6,247.9L92.0,247.9L92.4,247.9L92.8,247.9L93.2,247.9L93.6,247.9L94.0,248.0L94.4,248.1L94.8,248.3L95.2,248.5L95.6,248.7L96.0,249.0L96.4,249.3L96.8,249.6L97.2,249.9L97.6,250.0L98.0,250.2L98.4,250.2L98.8,250.3L108.8,250.3L109.2,250.2L109.6,250.2L110.0,250.1L110.4,249.9L110.8,249.6L111.2,249.2L111.6,248.7L112.0,248.1L112.4,247.5L112.8,246.9L113.2,246.3L113.6,245.9L114.0,245.6L114.4,245.3L114.8,245.2L115.2,245.1L115.6,245.1L116.0,245.1L116.4,245.1L116.8,245.2L117.2,245.3L117.6,245.6L118.0,245.9L118.4,246.3L118.8,246.9L119.2,247.5L119.6,248.1L120.0,248.7L120.4,249.2L120.8,249.6L121.2,249.9L121.6,250.1L122.0,250.2L122.4,250.2L122.8,250.3L135.6,250.3L136.0,250.3L136.4,250.2L136.8,250.1L137.2,250.0L137.6,249.8L138.0,249.6L138.4,249.4L138.8,249.2L139.2,248.9L139.6,248.7L140.0,248.6L140.4,248.5L140.8,248.5L141.2,248.5L141.6,248.5L142.0,248.6L142.4,248.6L142.8,248.7L143.2,248.8L143.6,248.9L144.0,248.9L144.4,248.8L144.8,248.7L145.2,248.6L145.6,248.5L146.0,248.4L146.4,248.3L146.8,248.3L147.2,248.3L147.6,248.3L148.0,248.4L148.4,248.6L148.8,248.8L149.2,249.0L149.6,249.2L150.0,249.3L150.4,249.3L150.8,249.1L151.2,248.6L151.6,247.8L152.0,246.8L152.4,245.4L152.8,243.6L153.2,241.7L153.6,239.6L154.0,237.4L154.4,235.3L154.8,233.4L155.2,231.8L155.6,230.5L156.0,229.5L156.4,228.8L156.8,228.5L157.2,228.3L157.6,228.3L158.0,228.3L158.4,228.5L158.8,228.8L159.2,229.5L159.6,230.5L160.0,231.8L160.4,233.4L160.8,235.3L161.2,237.4L161.6,239.6L162.0,241.7L162.4,243.7L162.8,245.4L163.2,246.8L163.6,248.0L164.0,248.8L164.4,249.4L164.8,249.8L165.2,250.0L165.6,250.2L166.0,250.2L166.4,250.3L180.1,250.3Z" fill="#e8685f"/>
<line x1="51.2" y1="250.3" x2="180.1" y2="250.3" stroke="#8a8a8a" stroke-width="0.75" />
<text x="33.7" y="242.8" font-size="8.9">Day 0</text>
<path d="M51.2,274.8L56.4,274.8L56.8,274.8L57.2,274.7L57.6,274.7L58.0,274.7L58.4,274.7L58.8,274.7L59.2,274.7L59.6,274.7L60.0,274.7L60.4,274.7L60.8,274.7L61.2,274.6L61.6,274.6L62.0,274.6L62.4,274.6L62.8,274.6L63.2,274.6L63.6,274.6L64.0,274.6L64.4,274.6L64.8,274.6L65.2,274.6L65.6,274.6L66.0,274.6L66.4,274.6L66.8,274.6L67.2,274.6L67.6,274.6L68.0,274.6L68.4,274.6L68.8,274.6L69.2,274.6L69.6,274.6L70.0,274.6L70.4,274.6L70.8,274.6L71.2,274.7L71.6,274.7L72.0,274.7L72.4,274.7L72.8,274.7L73.2,274.7L73.6,274.7L74.0,274.7L74.4,274.6L74.8,274.5L75.2,274.3L75.6,274.1L76.0,273.7L76.4,273.3L76.8,272.8L77.2,272.4L77.6,271.9L78.0,271.4L78.4,271.0L78.8,270.7L79.2,270.5L79.6,270.3L80.0,270.3L80.4,270.2L80.8,270.2L81.2,270.2L81.6,270.2L82.0,270.2L82.4,270.3L82.8,270.4L83.2,270.5L83.6,270.7L84.0,271.0L84.4,271.4L84.8,271.9L85.2,272.4L85.6,272.9L86.0,273.3L86.4,273.7L86.8,274.0L87.2,274.1L87.6,274.1L88.0,273.9L88.4,273.6L88.8,273.2L89.2,272.7L89.6,272.2L90.0,271.8L90.4,271.4L90.8,271.1L91.2,270.9L91.6,270.9L92.0,270.8L92.4,270.8L92.8,270.8L93.2,270.8L93.6,270.9L94.0,270.9L94.4,271.1L94.8,271.4L95.2,271.8L95.6,272.2L96.0,272.7L96.4,273.2L96.8,273.7L97.2,274.1L97.6,274.4L98.0,274.6L98.4,274.7L98.8,274.8L99.2,274.8L108.8,274.8L109.2,274.7L109.6,274.7L110.0,274.6L110.4,274.4L110.8,274.1L111.2,273.7L111.6,273.2L112.0,272.7L112.4,272.1L112.8,271.5L113.2,271.0L113.6,270.6L114.0,270.2L114.4,270.0L114.8,269.9L115.2,269.8L115.6,269.8L116.0,269.8L116.4,269.8L116.8,269.9L117.2,270.0L117.6,270.2L118.0,270.6L118.4,271.0L118.8,271.5L119.2,272.1L119.6,272.7L120.0,273.2L120.4,273.7L120.8,274.1L121.2,274.4L121.6,274.6L122.0,274.7L122.4,274.7L122.8,274.8L136.0,274.8L136.4,274.7L136.8,274.7L137.2,274.6L137.6,274.5L138.0,274.3L138.4,274.1L138.8,273.9L139.2,273.8L139.6,273.6L140.0,273.5L140.4,273.5L140.8,273.4L141.2,273.4L141.6,273.5L142.0,273.5L142.4,273.6L142.8,273.6L143.2,273.7L143.6,273.7L144.0,273.8L144.4,273.7L144.8,273.6L145.2,273.5L145.6,273.4L146.0,273.4L146.4,273.3L146.8,273.3L147.2,273.3L147.6,273.3L148.0,273.4L148.4,273.5L148.8,273.6L149.2,273.8L149.6,273.9L150.0,274.0L150.4,273.9L150.8,273.6L151.2,273.1L151.6,272.3L152.0,271.2L152.4,269.8L152.8,268.1L153.2,266.1L153.6,263.9L154.0,261.7L154.4,259.6L154.8,257.7L155.2,256.0L155.6,254.7L156.0,253.7L156.4,253.0L156.8,252.7L157.2,252.5L157.6,252.5L158.0,252.5L158.4,252.7L158.8,253.0L159.2,253.7L159.6,254.7L160.0,256.0L160.4,257.7L160.8,259.6L161.2,261.7L161.6,263.9L162.0,266.1L162.4,268.1L162.8,269.8L163.2,271.3L163.6,272.4L164.0,273.3L164.4,273.9L164.8,274.3L165.2,274.5L165.6,274.7L166.0,274.7L166.4,274.8L180.1,274.8Z" fill="#6aaa44"/>
<line x1="51.2" y1="274.8" x2="180.1" y2="274.8" stroke="#c6c6c6" stroke-width="0.75" />
<text x="33.7" y="267.3" font-size="8.9">Day 2</text>
<path d="M51.2,299.3L56.4,299.3L56.8,299.3L57.2,299.2L57.6,299.2L58.0,299.2L58.4,299.2L58.8,299.2L59.2,299.2L59.6,299.2L60.0,299.2L60.4,299.2L60.8,299.2L61.2,299.1L61.6,299.1L62.0,299.1L62.4,299.1L62.8,299.1L63.2,299.1L63.6,299.1L64.0,299.1L64.4,299.1L64.8,299.1L65.2,299.1L65.6,299.1L66.0,299.1L66.4,299.1L66.8,299.1L67.2,299.1L67.6,299.1L68.0,299.1L68.4,299.1L68.8,299.1L69.2,299.1L69.6,299.1L70.0,299.1L70.4,299.1L70.8,299.1L71.2,299.2L71.6,299.2L72.0,299.2L72.4,299.2L72.8,299.2L73.2,299.2L73.6,299.2L74.0,299.1L74.4,299.1L74.8,298.9L75.2,298.7L75.6,298.4L76.0,298.0L76.4,297.6L76.8,297.0L77.2,296.4L77.6,295.9L78.0,295.3L78.4,294.9L78.8,294.5L79.2,294.3L79.6,294.1L80.0,294.0L80.4,293.9L80.8,293.9L81.2,293.9L81.6,293.9L82.0,293.9L82.4,294.0L82.8,294.1L83.2,294.3L83.6,294.5L84.0,294.9L84.4,295.4L84.8,295.9L85.2,296.4L85.6,297.0L86.0,297.6L86.4,298.0L86.8,298.4L87.2,298.6L87.6,298.6L88.0,298.5L88.4,298.3L88.8,297.9L89.2,297.5L89.6,297.1L90.0,296.7L90.4,296.4L90.8,296.2L91.2,296.0L91.6,295.9L92.0,295.9L92.4,295.9L92.8,295.9L93.2,295.9L93.6,295.9L94.0,296.0L94.4,296.2L94.8,296.4L95.2,296.7L95.6,297.1L96.0,297.5L96.4,297.9L96.8,298.3L97.2,298.7L97.6,298.9L98.0,299.1L98.4,299.2L98.8,299.3L99.2,299.3L108.8,299.3L109.2,299.3L109.6,299.2L110.0,299.1L110.4,298.9L110.8,298.7L111.2,298.3L111.6,297.9L112.0,297.4L112.4,296.9L112.8,296.4L113.2,296.0L113.6,295.6L114.0,295.3L114.4,295.1L114.8,295.0L115.2,294.9L115.6,294.9L116.0,294.9L116.4,294.9L116.8,295.0L117.2,295.1L117.6,295.3L118.0,295.6L118.4,296.0L118.8,296.4L119.2,296.9L119.6,297.4L120.0,297.9L120.4,298.3L120.8,298.7L121.2,298.9L121.6,299.1L122.0,299.2L122.4,299.3L122.8,299.3L136.0,299.3L136.4,299.2L136.8,299.2L137.2,299.1L137.6,299.0L138.0,298.9L138.4,298.8L138.8,298.6L139.2,298.5L139.6,298.4L140.0,298.3L140.4,298.2L140.8,298.2L141.2,298.2L141.6,298.2L142.0,298.3L142.4,298.3L142.8,298.4L143.2,298.4L143.6,298.5L144.0,298.5L144.4,298.4L144.8,298.4L145.2,298.3L145.6,298.2L146.0,298.1L146.4,298.1L146.8,298.1L147.2,298.1L147.6,298.1L148.0,298.2L148.4,298.3L148.8,298.4L149.2,298.5L149.6,298.6L150.0,298.6L150.4,298.5L150.8,298.3L151.2,297.8L151.6,297.1L152.0,296.1L152.4,294.8L152.8,293.2L153.2,291.4L153.6,289.5L154.0,287.5L154.4,285.6L154.8,283.8L155.2,282.3L155.6,281.1L156.0,280.2L156.4,279.6L156.8,279.3L157.2,279.1L157.6,279.1L158.0,279.1L158.4,279.3L158.8,279.6L159.2,280.2L159.6,281.1L160.0,282.3L160.4,283.8L160.8,285.6L161.2,287.5L161.6,289.5L162.0,291.4L162.4,293.2L162.8,294.8L163.2,296.1L163.6,297.1L164.0,297.9L164.4,298.5L164.8,298.8L165.2,299.0L165.6,299.2L166.0,299.2L166.4,299.3L180.1,299.3Z" fill="#14aab5"/>
<line x1="51.2" y1="299.3" x2="180.1" y2="299.3" stroke="#8a8a8a" stroke-width="0.75" />
<text x="33.7" y="291.8" font-size="8.9">Day 10</text>
<path d="M51.2,323.8L56.4,323.8L56.8,323.8L57.2,323.7L57.6,323.7L58.0,323.7L58.4,323.7L58.8,323.7L59.2,323.7L59.6,323.7L60.0,323.7L60.4,323.7L60.8,323.7L61.2,323.6L61.6,323.6L62.0,323.6L62.4,323.6L62.8,323.6L63.2,323.6L63.6,323.6L64.0,323.6L64.4,323.6L64.8,323.6L65.2,323.6L65.6,323.6L66.0,323.6L66.4,323.6L66.8,323.6L67.2,323.6L67.6,323.6L68.0,323.6L68.4,323.6L68.8,323.6L69.2,323.6L69.6,323.6L70.0,323.6L70.4,323.6L70.8,323.6L71.2,323.7L71.6,323.7L72.0,323.7L72.4,323.7L72.8,323.7L73.2,323.7L73.6,323.7L74.0,323.7L74.4,323.6L74.8,323.5L75.2,323.3L75.6,323.1L76.0,322.7L76.4,322.3L76.8,321.8L77.2,321.4L77.6,320.9L78.0,320.4L78.4,320.0L78.8,319.7L79.2,319.5L79.6,319.3L80.0,319.3L80.4,319.2L80.8,319.2L81.2,319.2L81.6,319.2L82.0,319.2L82.4,319.3L82.8,319.4L83.2,319.5L83.6,319.7L84.0,320.0L84.4,320.4L84.8,320.9L85.2,321.4L85.6,321.9L86.0,322.3L86.4,322.7L86.8,323.0L87.2,323.1L87.6,323.1L88.0,323.0L88.4,322.7L88.8,322.3L89.2,321.9L89.6,321.5L90.0,321.1L90.4,320.7L90.8,320.5L91.2,320.3L91.6,320.2L92.0,320.2L92.4,320.2L92.8,320.2L93.2,320.2L93.6,320.2L94.0,320.3L94.4,320.5L94.8,320.7L95.2,321.1L95.6,321.5L96.0,321.9L96.4,322.4L96.8,322.8L97.2,323.1L97.6,323.4L98.0,323.6L98.4,323.7L98.8,323.8L99.2,323.8L108.8,323.8L109.2,323.8L109.6,323.7L110.0,323.6L110.4,323.5L110.8,323.3L111.2,323.0L111.6,322.7L112.0,322.3L112.4,321.9L112.8,321.4L113.2,321.1L113.6,320.8L114.0,320.5L114.4,320.4L114.8,320.3L115.2,320.2L115.6,320.2L116.0,320.2L116.4,320.2L116.8,320.3L117.2,320.4L117.6,320.5L118.0,320.8L118.4,321.1L118.8,321.4L119.2,321.9L119.6,322.3L120.0,322.7L120.4,323.0L120.8,323.3L121.2,323.5L121.6,323.6L122.0,323.7L122.4,323.8L122.8,323.8L135.6,323.8L136.0,323.8L136.4,323.7L136.8,323.6L137.2,323.5L137.6,323.4L138.0,323.2L138.4,323.0L138.8,322.8L139.2,322.6L139.6,322.4L140.0,322.3L140.4,322.2L140.8,322.2L141.2,322.2L141.6,322.2L142.0,322.2L142.4,322.3L142.8,322.4L143.2,322.5L143.6,322.5L144.0,322.5L144.4,322.5L144.8,322.4L145.2,322.3L145.6,322.2L146.0,322.1L146.4,322.0L146.8,322.0L147.2,322.0L147.6,322.0L148.0,322.1L148.4,322.2L148.8,322.4L149.2,322.6L149.6,322.8L150.0,322.9L150.4,322.9L150.8,322.7L151.2,322.3L151.6,321.6L152.0,320.7L152.4,319.4L152.8,317.9L153.2,316.2L153.6,314.3L154.0,312.4L154.4,310.6L154.8,308.9L155.2,307.5L155.6,306.3L156.0,305.4L156.4,304.9L156.8,304.6L157.2,304.4L157.6,304.4L158.0,304.4L158.4,304.6L158.8,304.9L159.2,305.4L159.6,306.3L160.0,307.5L160.4,308.9L160.8,310.6L161.2,312.4L161.6,314.3L162.0,316.2L162.4,317.9L162.8,319.5L163.2,320.7L163.6,321.7L164.0,322.5L164.4,323.0L164.8,323.3L165.2,323.5L165.6,323.7L166.0,323.7L166.4,323.8L180.1,323.8Z" fill="#9775b5"/>
<line x1="51.2" y1="323.8" x2="180.1" y2="323.8" stroke="#c0c0c0" stroke-width="0.75" />
<text x="33.7" y="316.3" font-size="8.9">Day 28</text>
<text x="13.2" y="277" font-size="7.7" text-anchor="middle" transform="rotate(-90 13.2 277)" textLength="61.3" lengthAdjust="spacingAndGlyphs">Normalized signal</text>
<text x="22.1" y="277" font-size="7.7" text-anchor="middle" transform="rotate(-90 22.1 277)" textLength="48" lengthAdjust="spacingAndGlyphs">(range 0–550)</text>
<line x1="185" y1="227" x2="217" y2="227" stroke="#aaa" stroke-width="0.8" />
<line x1="201" y1="227" x2="201" y2="225.6" stroke="#aaa" stroke-width="0.6" />
<text x="201.3" y="222.8" font-size="7.6" text-anchor="middle" fill="#262626">IFI6</text>
<line x1="185" y1="326.3" x2="217" y2="326.3" stroke="#aaa" stroke-width="0.8" />
<line x1="186.5" y1="326.3" x2="186.5" y2="328.6" stroke="#888" stroke-width="0.7" />
<text x="186.5" y="336.9" font-size="7.2" text-anchor="middle" fill="#262626">0</text>
<line x1="194.43" y1="326.3" x2="194.43" y2="328.6" stroke="#888" stroke-width="0.7" />
<text x="194.43" y="336.9" font-size="7.2" text-anchor="middle" fill="#262626">1</text>
<line x1="202.36" y1="326.3" x2="202.36" y2="328.6" stroke="#888" stroke-width="0.7" />
<text x="202.36" y="336.9" font-size="7.2" text-anchor="middle" fill="#262626">2</text>
<line x1="210.29" y1="326.3" x2="210.29" y2="328.6" stroke="#888" stroke-width="0.7" />
<text x="210.29" y="336.9" font-size="7.2" text-anchor="middle" fill="#262626">3</text>
<path d="M186.5,229.4 C186.57,226.95 186.75,231.07 186.9,232.1 C187.05,233.13 187.2,234.78 187.4,235.6 C187.6,236.42 187.75,236.75 188.1,237 C188.45,237.25 188.93,237.13 189.5,237.1 C190.07,237.07 190.75,236.82 191.5,236.8 C192.25,236.78 193,236.9 194,237 C195,237.1 196.08,237.3 197.5,237.4 C198.92,237.5 200.3,237.54 202.5,237.6 C204.7,237.66 209.33,237.61 210.7,237.75 C212.07,237.89 212.07,238.31 210.7,238.45 C209.33,238.59 204.7,238.54 202.5,238.6 C200.3,238.66 198.92,238.7 197.5,238.8 C196.08,238.9 195,239.1 194,239.2 C193,239.3 192.25,239.42 191.5,239.4 C190.75,239.38 190.07,239.13 189.5,239.1 C188.93,239.07 188.45,238.95 188.1,239.2 C187.75,239.45 187.6,239.78 187.4,240.6 C187.2,241.42 187.05,243.07 186.9,244.1 C186.75,245.13 186.57,249.25 186.5,246.8 C186.43,244.35 186.43,231.85 186.5,229.4 Z" fill="#e8685f" stroke="#222" stroke-width="1.05" stroke-linejoin="round"/>
<path d="M186.5,255.5 C186.58,253.25 186.78,257.98 187,259 C187.22,260.02 187.47,261.2 187.8,261.6 C188.13,262 188.38,261.77 189,261.4 C189.62,261.03 190.42,259.93 191.5,259.4 C192.58,258.87 194.17,258.32 195.5,258.2 C196.83,258.08 198.25,258.27 199.5,258.7 C200.75,259.13 201.92,260.2 203,260.8 C204.08,261.4 204.83,261.93 206,262.3 C207.17,262.67 208.4,262.79 210,263 C211.6,263.21 214.67,263.31 215.6,263.55 C216.53,263.79 216.53,264.21 215.6,264.45 C214.67,264.69 211.6,264.79 210,265 C208.4,265.21 207.17,265.33 206,265.7 C204.83,266.07 204.08,266.6 203,267.2 C201.92,267.8 200.75,268.87 199.5,269.3 C198.25,269.73 196.83,269.92 195.5,269.8 C194.17,269.68 192.58,269.13 191.5,268.6 C190.42,268.07 189.62,266.97 189,266.6 C188.38,266.23 188.13,266 187.8,266.4 C187.47,266.8 187.22,267.98 187,269 C186.78,270.02 186.58,274.75 186.5,272.5 C186.42,270.25 186.42,257.75 186.5,255.5 Z" fill="#6aaa44" stroke="#222" stroke-width="1.05" stroke-linejoin="round"/>
<path d="M186.5,280.9 C186.57,278.45 186.75,282.57 186.9,283.6 C187.05,284.63 187.2,286.25 187.4,287.1 C187.6,287.95 187.75,288.42 188.1,288.7 C188.45,288.98 188.77,288.8 189.5,288.8 C190.23,288.8 191.33,288.67 192.5,288.7 C193.67,288.73 194.83,288.93 196.5,289 C198.17,289.07 199.92,289.11 202.5,289.15 C205.08,289.19 210.42,289.12 212,289.25 C213.58,289.38 213.58,289.82 212,289.95 C210.42,290.08 205.08,290.01 202.5,290.05 C199.92,290.09 198.17,290.13 196.5,290.2 C194.83,290.28 193.67,290.47 192.5,290.5 C191.33,290.53 190.23,290.4 189.5,290.4 C188.77,290.4 188.45,290.22 188.1,290.5 C187.75,290.78 187.6,291.25 187.4,292.1 C187.2,292.95 187.05,294.57 186.9,295.6 C186.75,296.63 186.57,300.75 186.5,298.3 C186.43,295.85 186.43,283.35 186.5,280.9 Z" fill="#14aab5" stroke="#222" stroke-width="1.05" stroke-linejoin="round"/>
<path d="M186.5,306.7 C186.57,304.25 186.75,308.37 186.9,309.4 C187.05,310.43 187.2,312.05 187.4,312.9 C187.6,313.75 187.58,314.25 188.1,314.5 C188.62,314.75 189.6,314.42 190.5,314.4 C191.4,314.38 192.33,314.33 193.5,314.4 C194.67,314.47 196,314.71 197.5,314.8 C199,314.89 200.58,314.91 202.5,314.95 C204.42,314.99 207.92,314.92 209,315.05 C210.08,315.18 210.08,315.62 209,315.75 C207.92,315.88 204.42,315.81 202.5,315.85 C200.58,315.89 199,315.91 197.5,316 C196,316.09 194.67,316.33 193.5,316.4 C192.33,316.47 191.4,316.42 190.5,316.4 C189.6,316.38 188.62,316.05 188.1,316.3 C187.58,316.55 187.6,317.05 187.4,317.9 C187.2,318.75 187.05,320.37 186.9,321.4 C186.75,322.43 186.57,326.55 186.5,324.1 C186.43,321.65 186.43,309.15 186.5,306.7 Z" fill="#9775b5" stroke="#222" stroke-width="1.05" stroke-linejoin="round"/>
<rect x="70.1" y="327.2" width="5.6" height="9.1" fill="#2b3990" />
<line x1="75.7" y1="332.3" x2="153.3" y2="332.3" stroke="#2b3990" stroke-width="1.35" />
<line x1="75.7" y1="332.3" x2="153.3" y2="332.3" stroke="#2b3990" stroke-width="3" stroke-dasharray="0.7 1.3"/>
<line x1="100.2" y1="328" x2="100.2" y2="336.6" stroke="#2b3990" stroke-width="1" />
<line x1="103.2" y1="328" x2="103.2" y2="336.6" stroke="#2b3990" stroke-width="1" />
<line x1="114.1" y1="328" x2="114.1" y2="336.6" stroke="#2b3990" stroke-width="1" />
<line x1="152.9" y1="328" x2="152.9" y2="336.6" stroke="#2b3990" stroke-width="1" />
<text x="112.9" y="346.2" font-size="7.1" text-anchor="middle" fill="#262626">IFI6</text>
<line x1="30.7" y1="333.4" x2="30.7" y2="362" stroke="#aaa" stroke-width="0.8" />
<text x="23.6" y="347.5" font-size="7.2" text-anchor="middle" fill="#262626" transform="rotate(-90 23.6 347.5)">Genes</text>
<line x1="51.2" y1="349.3" x2="179.5" y2="349.3" stroke="#777" stroke-width="0.7" />
<line x1="56.2" y1="349.3" x2="56.2" y2="351.5" stroke="#777" stroke-width="0.7" />
<line x1="90" y1="349.3" x2="90" y2="351.5" stroke="#777" stroke-width="0.7" />
<line x1="123.8" y1="349.3" x2="123.8" y2="351.5" stroke="#777" stroke-width="0.7" />
<line x1="157.6" y1="349.3" x2="157.6" y2="351.5" stroke="#777" stroke-width="0.7" />
<text x="56.2" y="358.6" font-size="4.9" text-anchor="middle" fill="#444">27,665,000</text>
<text x="90" y="358.6" font-size="4.9" text-anchor="middle" fill="#444">27,667,500</text>
<text x="123.8" y="358.6" font-size="4.9" text-anchor="middle" fill="#444">27,670,000</text>
<text x="157.6" y="358.6" font-size="4.9" text-anchor="middle" fill="#444">27,672,500</text>
<text x="115.5" y="367.3" font-size="6.2" text-anchor="middle" fill="#262626">chr1 position (bp)</text>
<line x1="261.4" y1="227.3" x2="261.4" y2="324.6" stroke="#9a9a9a" stroke-width="0.8" />
<line x1="258.8" y1="250.3" x2="261.4" y2="250.3" stroke="#9a9a9a" stroke-width="0.7" />
<line x1="258.8" y1="242.13" x2="261.4" y2="242.13" stroke="#9a9a9a" stroke-width="0.7" />
<line x1="258.8" y1="233.97" x2="261.4" y2="233.97" stroke="#9a9a9a" stroke-width="0.7" />
<line x1="258.8" y1="274.8" x2="261.4" y2="274.8" stroke="#9a9a9a" stroke-width="0.7" />
<line x1="258.8" y1="266.63" x2="261.4" y2="266.63" stroke="#9a9a9a" stroke-width="0.7" />
<line x1="258.8" y1="258.47" x2="261.4" y2="258.47" stroke="#9a9a9a" stroke-width="0.7" />
<line x1="258.8" y1="299.3" x2="261.4" y2="299.3" stroke="#9a9a9a" stroke-width="0.7" />
<line x1="258.8" y1="291.13" x2="261.4" y2="291.13" stroke="#9a9a9a" stroke-width="0.7" />
<line x1="258.8" y1="282.97" x2="261.4" y2="282.97" stroke="#9a9a9a" stroke-width="0.7" />
<line x1="258.8" y1="323.8" x2="261.4" y2="323.8" stroke="#9a9a9a" stroke-width="0.7" />
<line x1="258.8" y1="315.63" x2="261.4" y2="315.63" stroke="#9a9a9a" stroke-width="0.7" />
<line x1="258.8" y1="307.47" x2="261.4" y2="307.47" stroke="#9a9a9a" stroke-width="0.7" />
<path d="M283.2,250.3L286.8,250.3L287.2,250.3L287.6,250.2L288.0,250.2L288.4,250.2L288.8,250.1L289.2,250.1L289.6,250.0L290.0,249.9L290.4,249.9L290.8,249.8L291.2,249.6L291.6,249.5L292.0,249.4L292.4,249.3L292.8,249.2L293.2,249.1L293.6,249.0L294.0,248.9L294.4,248.9L294.8,248.8L295.2,248.8L295.6,248.8L296.0,248.8L296.4,248.9L296.8,248.9L297.2,248.9L297.6,248.9L298.0,248.9L298.4,248.9L298.8,248.9L299.2,248.8L299.6,248.8L300.0,248.7L300.4,248.6L300.8,248.5L301.2,248.5L301.6,248.5L302.0,248.5L302.4,248.5L302.8,248.6L303.2,248.7L303.6,248.9L304.0,249.0L304.4,249.2L304.8,249.3L305.2,249.5L305.6,249.5L306.0,249.6L306.4,249.5L306.8,249.3L307.2,249.1L307.6,248.8L308.0,248.5L308.4,248.2L308.8,247.9L309.2,247.6L309.6,247.5L310.0,247.4L310.4,247.4L310.8,247.4L311.2,247.5L311.6,247.6L312.0,247.8L312.4,248.1L312.8,248.4L313.2,248.8L313.6,249.1L314.0,249.5L314.4,249.8L314.8,250.0L315.2,250.1L315.6,250.2L316.0,250.3L316.4,250.3L372.8,250.3L373.2,250.3L373.6,250.2L374.0,250.2L374.4,250.2L374.8,250.2L375.2,250.2L375.6,250.1L376.0,250.1L376.4,250.0L376.8,250.0L377.2,249.9L377.6,249.9L378.0,249.8L378.4,249.7L378.8,249.6L379.2,249.5L379.6,249.2L380.0,248.8L380.4,248.1L380.8,247.0L381.2,245.4L381.6,243.4L382.0,240.9L382.4,238.3L382.8,235.6L383.2,233.3L383.6,231.4L384.0,230.0L384.4,229.1L384.8,228.7L385.2,228.5L385.6,228.5L386.0,228.6L386.4,228.8L386.8,229.5L387.2,230.6L387.6,232.3L388.0,234.4L388.4,236.9L388.8,239.6L389.2,242.2L389.6,244.5L390.0,246.3L390.4,247.6L390.8,248.5L391.2,249.0L391.6,249.3L392.0,249.5L392.4,249.7L392.8,249.8L393.2,249.8L393.6,249.9L394.0,250.0L394.4,250.0L394.8,250.1L395.2,250.1L395.6,250.1L396.0,250.2L396.4,250.2L396.8,250.2L397.2,250.2L397.6,250.2L398.0,250.3L398.4,250.3L399.6,250.3L400.0,250.2L400.4,250.2L400.8,250.2L401.2,250.1L401.6,250.1L402.0,250.1L402.4,250.0L402.8,250.0L403.2,250.0L403.6,250.0L404.0,250.1L404.4,250.1L404.8,250.2L405.2,250.2L405.6,250.2L406.0,250.3L406.4,250.3L411.3,250.3Z" fill="#e8685f"/>
<line x1="283.2" y1="250.3" x2="411.3" y2="250.3" stroke="#8a8a8a" stroke-width="0.75" />
<text x="264.9" y="242.8" font-size="8.9">Day 0</text>
<path d="M283.2,274.8L286.8,274.8L287.2,274.8L287.6,274.7L288.0,274.7L288.4,274.7L288.8,274.6L289.2,274.6L289.6,274.5L290.0,274.5L290.4,274.4L290.8,274.3L291.2,274.2L291.6,274.1L292.0,274.0L292.4,273.9L292.8,273.8L293.2,273.7L293.6,273.6L294.0,273.6L294.4,273.5L294.8,273.5L295.2,273.5L295.6,273.5L296.0,273.5L296.4,273.5L296.8,273.5L297.2,273.6L297.6,273.6L298.0,273.6L298.4,273.6L298.8,273.5L299.2,273.5L299.6,273.4L300.0,273.3L300.4,273.3L300.8,273.2L301.2,273.2L301.6,273.1L302.0,273.2L302.4,273.2L302.8,273.3L303.2,273.4L303.6,273.5L304.0,273.6L304.4,273.8L304.8,273.9L305.2,274.0L305.6,274.1L306.0,274.1L306.4,274.1L306.8,273.9L307.2,273.7L307.6,273.5L308.0,273.2L308.4,272.9L308.8,272.6L309.2,272.4L309.6,272.3L310.0,272.2L310.4,272.2L310.8,272.2L311.2,272.2L311.6,272.4L312.0,272.5L312.4,272.8L312.8,273.1L313.2,273.4L313.6,273.8L314.0,274.1L314.4,274.3L314.8,274.5L315.2,274.6L315.6,274.7L316.0,274.8L316.4,274.8L372.8,274.8L373.2,274.8L373.6,274.7L374.0,274.7L374.4,274.7L374.8,274.7L375.2,274.7L375.6,274.6L376.0,274.6L376.4,274.5L376.8,274.5L377.2,274.4L377.6,274.4L378.0,274.3L378.4,274.2L378.8,274.1L379.2,274.0L379.6,273.7L380.0,273.4L380.4,272.8L380.8,271.8L381.2,270.5L381.6,268.7L382.0,266.7L382.4,264.4L382.8,262.2L383.2,260.2L383.6,258.6L384.0,257.4L384.4,256.6L384.8,256.2L385.2,256.1L385.6,256.1L386.0,256.2L386.4,256.4L386.8,256.9L387.2,257.9L387.6,259.3L388.0,261.1L388.4,263.3L388.8,265.5L389.2,267.7L389.6,269.7L390.0,271.2L390.4,272.4L390.8,273.1L391.2,273.6L391.6,273.9L392.0,274.0L392.4,274.2L392.8,274.3L393.2,274.3L393.6,274.4L394.0,274.5L394.4,274.5L394.8,274.6L395.2,274.6L395.6,274.6L396.0,274.7L396.4,274.7L396.8,274.7L397.2,274.7L397.6,274.7L398.0,274.8L398.4,274.8L399.6,274.8L400.0,274.7L400.4,274.7L400.8,274.7L401.2,274.6L401.6,274.6L402.0,274.6L402.4,274.5L402.8,274.5L403.2,274.5L403.6,274.5L404.0,274.6L404.4,274.6L404.8,274.7L405.2,274.7L405.6,274.7L406.0,274.8L406.4,274.8L411.3,274.8Z" fill="#6aaa44"/>
<line x1="283.2" y1="274.8" x2="411.3" y2="274.8" stroke="#c6c6c6" stroke-width="0.75" />
<text x="264.9" y="267.3" font-size="8.9">Day 2</text>
<path d="M283.2,299.3L286.4,299.3L286.8,299.3L287.2,299.2L287.6,299.2L288.0,299.2L288.4,299.1L288.8,299.1L289.2,299.0L289.6,299.0L290.0,298.9L290.4,298.8L290.8,298.6L291.2,298.5L291.6,298.4L292.0,298.2L292.4,298.1L292.8,298.0L293.2,297.8L293.6,297.7L294.0,297.6L294.4,297.6L294.8,297.5L295.2,297.5L295.6,297.5L296.0,297.5L296.4,297.6L296.8,297.6L297.2,297.6L297.6,297.7L298.0,297.7L298.4,297.6L298.8,297.6L299.2,297.5L299.6,297.4L300.0,297.3L300.4,297.2L300.8,297.2L301.2,297.1L301.6,297.1L302.0,297.1L302.4,297.1L302.8,297.2L303.2,297.4L303.6,297.6L304.0,297.7L304.4,297.9L304.8,298.1L305.2,298.3L305.6,298.4L306.0,298.4L306.4,298.3L306.8,298.2L307.2,297.9L307.6,297.5L308.0,297.1L308.4,296.7L308.8,296.4L309.2,296.1L309.6,295.9L310.0,295.8L310.4,295.8L310.8,295.8L311.2,295.9L311.6,296.0L312.0,296.3L312.4,296.6L312.8,297.0L313.2,297.5L313.6,297.9L314.0,298.3L314.4,298.6L314.8,298.9L315.2,299.1L315.6,299.2L316.0,299.2L316.4,299.3L372.8,299.3L373.2,299.3L373.6,299.2L374.0,299.2L374.4,299.2L374.8,299.2L375.2,299.2L375.6,299.1L376.0,299.1L376.4,299.0L376.8,299.0L377.2,298.9L377.6,298.9L378.0,298.8L378.4,298.7L378.8,298.6L379.2,298.5L379.6,298.2L380.0,297.9L380.4,297.2L380.8,296.3L381.2,294.9L381.6,293.1L382.0,291.0L382.4,288.6L382.8,286.3L383.2,284.3L383.6,282.6L384.0,281.4L384.4,280.6L384.8,280.3L385.2,280.1L385.6,280.1L386.0,280.2L386.4,280.4L386.8,281.0L387.2,282.0L387.6,283.4L388.0,285.3L388.4,287.5L388.8,289.8L389.2,292.1L389.6,294.1L390.0,295.6L390.4,296.8L390.8,297.6L391.2,298.1L391.6,298.4L392.0,298.5L392.4,298.7L392.8,298.8L393.2,298.8L393.6,298.9L394.0,299.0L394.4,299.0L394.8,299.1L395.2,299.1L395.6,299.1L396.0,299.2L396.4,299.2L396.8,299.2L397.2,299.2L397.6,299.2L398.0,299.3L398.4,299.3L399.6,299.3L400.0,299.2L400.4,299.2L400.8,299.2L401.2,299.1L401.6,299.1L402.0,299.1L402.4,299.0L402.8,299.0L403.2,299.0L403.6,299.0L404.0,299.1L404.4,299.1L404.8,299.2L405.2,299.2L405.6,299.2L406.0,299.3L406.4,299.3L411.3,299.3Z" fill="#14aab5"/>
<line x1="283.2" y1="299.3" x2="411.3" y2="299.3" stroke="#8a8a8a" stroke-width="0.75" />
<text x="264.9" y="291.8" font-size="8.9">Day 10</text>
<path d="M283.2,323.8L286.8,323.8L287.2,323.8L287.6,323.7L288.0,323.7L288.4,323.7L288.8,323.6L289.2,323.6L289.6,323.5L290.0,323.5L290.4,323.4L290.8,323.3L291.2,323.2L291.6,323.1L292.0,323.0L292.4,322.9L292.8,322.8L293.2,322.7L293.6,322.6L294.0,322.5L294.4,322.5L294.8,322.4L295.2,322.4L295.6,322.4L296.0,322.4L296.4,322.5L296.8,322.5L297.2,322.5L297.6,322.5L298.0,322.5L298.4,322.5L298.8,322.5L299.2,322.4L299.6,322.4L300.0,322.3L300.4,322.2L300.8,322.1L301.2,322.1L301.6,322.1L302.0,322.1L302.4,322.1L302.8,322.2L303.2,322.3L303.6,322.5L304.0,322.6L304.4,322.8L304.8,322.9L305.2,323.0L305.6,323.1L306.0,323.1L306.4,323.1L306.8,322.9L307.2,322.7L307.6,322.4L308.0,322.1L308.4,321.8L308.8,321.5L309.2,321.3L309.6,321.2L310.0,321.1L310.4,321.1L310.8,321.1L311.2,321.1L311.6,321.3L312.0,321.5L312.4,321.7L312.8,322.0L313.2,322.4L313.6,322.7L314.0,323.0L314.4,323.3L314.8,323.5L315.2,323.6L315.6,323.7L316.0,323.8L316.4,323.8L372.8,323.8L373.2,323.8L373.6,323.7L374.0,323.7L374.4,323.7L374.8,323.7L375.2,323.7L375.6,323.6L376.0,323.6L376.4,323.5L376.8,323.5L377.2,323.4L377.6,323.4L378.0,323.3L378.4,323.2L378.8,323.1L379.2,323.0L379.6,322.8L380.0,322.5L380.4,321.9L380.8,321.1L381.2,320.0L381.6,318.5L382.0,316.8L382.4,314.9L382.8,313.0L383.2,311.3L383.6,310.0L384.0,309.0L384.4,308.3L384.8,308.0L385.2,307.9L385.6,307.9L386.0,307.9L386.4,308.2L386.8,308.6L387.2,309.4L387.6,310.6L388.0,312.1L388.4,313.9L388.8,315.8L389.2,317.7L389.6,319.3L390.0,320.6L390.4,321.6L390.8,322.2L391.2,322.6L391.6,322.9L392.0,323.1L392.4,323.2L392.8,323.3L393.2,323.3L393.6,323.4L394.0,323.5L394.4,323.5L394.8,323.6L395.2,323.6L395.6,323.6L396.0,323.7L396.4,323.7L396.8,323.7L397.2,323.7L397.6,323.7L398.0,323.8L398.4,323.8L399.6,323.8L400.0,323.7L400.4,323.7L400.8,323.7L401.2,323.6L401.6,323.6L402.0,323.6L402.4,323.5L402.8,323.5L403.2,323.5L403.6,323.5L404.0,323.6L404.4,323.6L404.8,323.7L405.2,323.7L405.6,323.7L406.0,323.8L406.4,323.8L411.3,323.8Z" fill="#9775b5"/>
<line x1="283.2" y1="323.8" x2="411.3" y2="323.8" stroke="#c0c0c0" stroke-width="0.75" />
<text x="264.9" y="316.3" font-size="8.9">Day 28</text>
<text x="246.1" y="277" font-size="7.7" text-anchor="middle" transform="rotate(-90 246.1 277)" textLength="61.3" lengthAdjust="spacingAndGlyphs">Normalized signal</text>
<text x="255" y="277" font-size="7.7" text-anchor="middle" transform="rotate(-90 255 277)" textLength="48" lengthAdjust="spacingAndGlyphs">(range 0–530)</text>
<line x1="419" y1="227" x2="451" y2="227" stroke="#aaa" stroke-width="0.8" />
<line x1="435" y1="227" x2="435" y2="225.6" stroke="#aaa" stroke-width="0.6" />
<text x="434.3" y="222.8" font-size="7.6" text-anchor="middle" fill="#262626">IFITM3</text>
<line x1="419" y1="326.3" x2="451" y2="326.3" stroke="#aaa" stroke-width="0.8" />
<line x1="420.5" y1="326.3" x2="420.5" y2="328.6" stroke="#888" stroke-width="0.7" />
<text x="420.5" y="336.9" font-size="7.2" text-anchor="middle" fill="#262626">0</text>
<line x1="427.57" y1="326.3" x2="427.57" y2="328.6" stroke="#888" stroke-width="0.7" />
<text x="427.57" y="336.9" font-size="7.2" text-anchor="middle" fill="#262626">1</text>
<line x1="434.64" y1="326.3" x2="434.64" y2="328.6" stroke="#888" stroke-width="0.7" />
<text x="434.64" y="336.9" font-size="7.2" text-anchor="middle" fill="#262626">2</text>
<line x1="441.71" y1="326.3" x2="441.71" y2="328.6" stroke="#888" stroke-width="0.7" />
<text x="441.71" y="336.9" font-size="7.2" text-anchor="middle" fill="#262626">3</text>
<line x1="448.78" y1="326.3" x2="448.78" y2="328.6" stroke="#888" stroke-width="0.7" />
<text x="448.78" y="336.9" font-size="7.2" text-anchor="middle" fill="#262626">4</text>
<path d="M420.5,229.7 C420.57,227.3 420.73,231.17 420.9,232.1 C421.07,233.03 421.27,234.57 421.5,235.3 C421.73,236.03 421.88,236.5 422.3,236.5 C422.72,236.5 423.22,235.7 424,235.3 C424.78,234.9 425.92,234.18 427,234.1 C428.08,234.02 429.25,234.45 430.5,234.8 C431.75,235.15 433,235.82 434.5,236.2 C436,236.58 437.33,236.86 439.5,237.1 C441.67,237.34 446.17,237.41 447.5,237.65 C448.83,237.89 448.83,238.31 447.5,238.55 C446.17,238.79 441.67,238.86 439.5,239.1 C437.33,239.34 436,239.62 434.5,240 C433,240.38 431.75,241.05 430.5,241.4 C429.25,241.75 428.08,242.18 427,242.1 C425.92,242.02 424.78,241.3 424,240.9 C423.22,240.5 422.72,239.7 422.3,239.7 C421.88,239.7 421.73,240.17 421.5,240.9 C421.27,241.63 421.07,243.17 420.9,244.1 C420.73,245.03 420.57,248.9 420.5,246.5 C420.43,244.1 420.43,232.1 420.5,229.7 Z" fill="#e8685f" stroke="#222" stroke-width="1.05" stroke-linejoin="round"/>
<path d="M420.5,255.6 C420.58,253.33 420.78,257.93 421,258.8 C421.22,259.67 421.38,260.53 421.8,260.8 C422.22,261.07 422.55,261 423.5,260.4 C424.45,259.8 426,258.02 427.5,257.2 C429,256.38 430.92,255.7 432.5,255.5 C434.08,255.3 435.5,255.45 437,256 C438.5,256.55 440.08,257.85 441.5,258.8 C442.92,259.75 444.37,260.98 445.5,261.7 C446.63,262.42 447.75,262.77 448.3,263.1 C448.85,263.43 448.72,263.5 448.8,263.7 C448.88,263.9 448.88,264.1 448.8,264.3 C448.72,264.5 448.85,264.57 448.3,264.9 C447.75,265.23 446.63,265.58 445.5,266.3 C444.37,267.02 442.92,268.25 441.5,269.2 C440.08,270.15 438.5,271.45 437,272 C435.5,272.55 434.08,272.7 432.5,272.5 C430.92,272.3 429,271.62 427.5,270.8 C426,269.98 424.45,268.2 423.5,267.6 C422.55,267 422.22,266.93 421.8,267.2 C421.38,267.47 421.22,268.33 421,269.2 C420.78,270.07 420.58,274.67 420.5,272.4 C420.42,270.13 420.42,257.87 420.5,255.6 Z" fill="#6aaa44" stroke="#222" stroke-width="1.05" stroke-linejoin="round"/>
<path d="M420.5,281.2 C420.57,278.8 420.73,282.63 420.9,283.6 C421.07,284.57 421.27,286.25 421.5,287 C421.73,287.75 421.88,288.08 422.3,288.1 C422.72,288.12 423.3,287.35 424,287.1 C424.7,286.85 425.42,286.57 426.5,286.6 C427.58,286.63 429,287 430.5,287.3 C432,287.6 433.67,288.12 435.5,288.4 C437.33,288.68 439.42,288.87 441.5,289 C443.58,289.13 446.92,289.03 448,289.2 C449.08,289.37 449.08,289.83 448,290 C446.92,290.17 443.58,290.07 441.5,290.2 C439.42,290.33 437.33,290.52 435.5,290.8 C433.67,291.08 432,291.6 430.5,291.9 C429,292.2 427.58,292.57 426.5,292.6 C425.42,292.63 424.7,292.35 424,292.1 C423.3,291.85 422.72,291.08 422.3,291.1 C421.88,291.12 421.73,291.45 421.5,292.2 C421.27,292.95 421.07,294.63 420.9,295.6 C420.73,296.57 420.57,300.4 420.5,298 C420.43,295.6 420.43,283.6 420.5,281.2 Z" fill="#14aab5" stroke="#222" stroke-width="1.05" stroke-linejoin="round"/>
<path d="M420.5,307 C420.57,304.6 420.73,308.43 420.9,309.4 C421.07,310.37 421.27,312.05 421.5,312.8 C421.73,313.55 421.8,313.93 422.3,313.9 C422.8,313.87 423.63,312.93 424.5,312.6 C425.37,312.27 426.33,311.9 427.5,311.9 C428.67,311.9 430.17,312.23 431.5,312.6 C432.83,312.97 434,313.73 435.5,314.1 C437,314.47 438.75,314.65 440.5,314.8 C442.25,314.95 445.08,314.83 446,315 C446.92,315.17 446.92,315.63 446,315.8 C445.08,315.97 442.25,315.85 440.5,316 C438.75,316.15 437,316.33 435.5,316.7 C434,317.07 432.83,317.83 431.5,318.2 C430.17,318.57 428.67,318.9 427.5,318.9 C426.33,318.9 425.37,318.53 424.5,318.2 C423.63,317.87 422.8,316.93 422.3,316.9 C421.8,316.87 421.73,317.25 421.5,318 C421.27,318.75 421.07,320.43 420.9,321.4 C420.73,322.37 420.57,326.2 420.5,323.8 C420.43,321.4 420.43,309.4 420.5,307 Z" fill="#9775b5" stroke="#222" stroke-width="1.05" stroke-linejoin="round"/>
<rect x="300" y="336.8" width="3.7" height="8.8" fill="#1e6b34" />
<rect x="304.6" y="337.6" width="1.4" height="7.2" fill="#1e6b34" />
<rect x="309.9" y="336.8" width="6.1" height="8.8" fill="#1e6b34" />
<line x1="298.5" y1="341.2" x2="300" y2="341.2" stroke="#1e6b34" stroke-width="1.1" />
<line x1="316" y1="341.2" x2="387.5" y2="341.2" stroke="#1e6b34" stroke-width="1.35" />
<line x1="316" y1="341.2" x2="387.5" y2="341.2" stroke="#1e6b34" stroke-width="3" stroke-dasharray="0.7 1.3"/>
<rect x="386.2" y="333.8" width="2.6" height="11.6" fill="#1e6b34" />
<rect x="383.9" y="328.1" width="8.8" height="8.9" fill="#2b3990" />
<line x1="392.7" y1="332.5" x2="406" y2="332.5" stroke="#2b3990" stroke-width="1.35" />
<line x1="392.7" y1="332.5" x2="406" y2="332.5" stroke="#2b3990" stroke-width="3" stroke-dasharray="0.7 1.3"/>
<text x="344.5" y="333.1" font-size="7.2" text-anchor="middle" fill="#262626">IFITM3</text>
<text x="388.5" y="328.4" font-size="4.6" text-anchor="middle" fill="#262626" textLength="31.5" lengthAdjust="spacingAndGlyphs">RP11-326C3.12</text>
<line x1="261.4" y1="333.1" x2="261.4" y2="362" stroke="#aaa" stroke-width="0.8" />
<text x="258.2" y="347.6" font-size="7.2" text-anchor="middle" fill="#262626" transform="rotate(-90 258.2 347.6)">Genes</text>
<line x1="283.4" y1="349.5" x2="411.3" y2="349.5" stroke="#777" stroke-width="0.7" />
<line x1="315.5" y1="349.5" x2="315.5" y2="351.7" stroke="#777" stroke-width="0.7" />
<line x1="348.5" y1="349.5" x2="348.5" y2="351.7" stroke="#777" stroke-width="0.7" />
<line x1="381.9" y1="349.5" x2="381.9" y2="351.7" stroke="#777" stroke-width="0.7" />
<text x="315.5" y="358.7" font-size="4.9" text-anchor="middle" fill="#444">321,000</text>
<text x="348.5" y="358.7" font-size="4.9" text-anchor="middle" fill="#444">324,000</text>
<text x="381.9" y="358.7" font-size="4.9" text-anchor="middle" fill="#444">327,000</text>
<text x="347.5" y="367.3" font-size="6.2" text-anchor="middle" fill="#262626">chr11 position (bp)</text>
<line x1="496.5" y1="227.3" x2="496.5" y2="324.6" stroke="#9a9a9a" stroke-width="0.8" />
<line x1="493.9" y1="250.3" x2="496.5" y2="250.3" stroke="#9a9a9a" stroke-width="0.7" />
<line x1="493.9" y1="245.4" x2="496.5" y2="245.4" stroke="#9a9a9a" stroke-width="0.7" />
<line x1="493.9" y1="240.5" x2="496.5" y2="240.5" stroke="#9a9a9a" stroke-width="0.7" />
<line x1="493.9" y1="235.6" x2="496.5" y2="235.6" stroke="#9a9a9a" stroke-width="0.7" />
<line x1="493.9" y1="230.7" x2="496.5" y2="230.7" stroke="#9a9a9a" stroke-width="0.7" />
<line x1="493.9" y1="274.8" x2="496.5" y2="274.8" stroke="#9a9a9a" stroke-width="0.7" />
<line x1="493.9" y1="269.9" x2="496.5" y2="269.9" stroke="#9a9a9a" stroke-width="0.7" />
<line x1="493.9" y1="265" x2="496.5" y2="265" stroke="#9a9a9a" stroke-width="0.7" />
<line x1="493.9" y1="260.1" x2="496.5" y2="260.1" stroke="#9a9a9a" stroke-width="0.7" />
<line x1="493.9" y1="255.2" x2="496.5" y2="255.2" stroke="#9a9a9a" stroke-width="0.7" />
<line x1="493.9" y1="299.3" x2="496.5" y2="299.3" stroke="#9a9a9a" stroke-width="0.7" />
<line x1="493.9" y1="294.4" x2="496.5" y2="294.4" stroke="#9a9a9a" stroke-width="0.7" />
<line x1="493.9" y1="289.5" x2="496.5" y2="289.5" stroke="#9a9a9a" stroke-width="0.7" />
<line x1="493.9" y1="284.6" x2="496.5" y2="284.6" stroke="#9a9a9a" stroke-width="0.7" />
<line x1="493.9" y1="279.7" x2="496.5" y2="279.7" stroke="#9a9a9a" stroke-width="0.7" />
<line x1="493.9" y1="323.8" x2="496.5" y2="323.8" stroke="#9a9a9a" stroke-width="0.7" />
<line x1="493.9" y1="318.9" x2="496.5" y2="318.9" stroke="#9a9a9a" stroke-width="0.7" />
<line x1="493.9" y1="314" x2="496.5" y2="314" stroke="#9a9a9a" stroke-width="0.7" />
<line x1="493.9" y1="309.1" x2="496.5" y2="309.1" stroke="#9a9a9a" stroke-width="0.7" />
<line x1="493.9" y1="304.2" x2="496.5" y2="304.2" stroke="#9a9a9a" stroke-width="0.7" />
<path d="M517.7,250.3L525.3,250.3L525.7,250.2L526.1,250.1L526.5,249.9L526.9,249.7L527.3,249.4L527.7,249.1L528.1,248.9L528.5,248.8L528.9,248.8L529.3,248.8L529.7,249.0L530.1,249.2L530.5,249.5L530.9,249.8L531.3,250.0L531.7,250.1L532.1,250.0L532.5,249.5L532.9,248.4L533.3,246.4L533.7,243.8L534.1,240.9L534.5,238.4L534.9,236.9L535.3,236.3L535.7,236.3L536.1,236.9L536.5,238.4L536.9,240.9L537.3,243.7L537.7,246.2L538.1,247.5L538.5,247.0L538.9,245.3L539.3,243.5L539.7,242.5L540.1,242.1L540.5,242.1L540.9,242.1L541.3,242.5L541.7,243.6L542.1,245.6L542.5,247.8L542.9,249.4L543.3,250.1L543.7,250.3L544.9,250.3L545.3,250.1L545.7,249.6L546.1,248.7L546.5,247.5L546.9,246.4L547.3,245.6L547.7,245.3L548.1,245.2L548.5,245.2L548.9,245.2L549.3,245.4L549.7,245.9L550.1,246.9L550.5,248.1L550.9,249.1L551.3,249.8L551.7,250.0L552.1,250.0L552.5,250.0L552.9,249.9L553.3,249.9L553.7,249.9L554.1,249.9L554.5,250.0L554.9,250.0L555.3,250.1L555.7,250.2L556.1,250.2L556.5,250.2L556.9,250.3L566.5,250.3L566.9,250.3L567.3,250.2L567.7,250.2L568.1,250.1L568.5,250.0L568.9,249.9L569.3,249.8L569.7,249.7L570.1,249.6L570.5,249.6L570.9,249.5L571.3,249.5L571.7,249.5L572.1,249.6L572.5,249.7L572.9,249.8L573.3,249.9L573.7,250.0L574.1,250.1L574.5,250.2L574.9,250.2L575.3,250.2L575.7,250.3L595.7,250.3L596.1,250.2L596.5,250.1L596.9,249.9L597.3,249.6L597.7,249.1L598.1,248.6L598.5,248.2L598.9,247.9L599.3,247.8L599.7,247.8L600.1,247.9L600.5,248.2L600.9,248.6L601.3,249.1L601.7,249.6L602.1,249.9L602.5,250.1L602.9,250.2L603.3,250.3L616.9,250.3L617.3,250.2L617.7,250.2L618.1,250.2L618.5,250.1L618.9,250.1L619.3,250.0L619.7,250.0L620.1,249.9L620.5,249.9L620.9,249.8L621.3,249.8L621.7,249.8L622.1,249.8L622.5,249.8L622.9,249.8L623.3,249.6L623.7,248.9L624.1,247.2L624.5,244.2L624.9,240.2L625.3,236.0L625.7,232.4L626.1,230.2L626.5,229.2L626.9,228.9L627.3,229.0L627.7,229.5L628.1,231.1L628.5,234.0L628.9,238.0L629.3,242.2L629.7,245.8L630.1,248.1L630.5,249.3L630.9,249.7L631.3,249.7L631.7,249.7L632.1,249.6L632.5,249.6L632.9,249.6L633.3,249.5L633.7,249.5L634.1,249.5L634.5,249.5L634.9,249.5L635.3,249.6L635.7,249.6L636.1,249.7L636.5,249.7L636.9,249.8L637.3,249.8L637.7,249.9L638.1,249.9L638.5,250.0L638.9,250.0L639.3,250.0L639.7,250.0L640.1,249.9L640.5,249.9L640.9,249.9L641.3,250.0L641.7,250.0L642.1,250.0L642.5,250.1L642.9,250.2L643.3,250.2L643.7,250.2L644.1,250.3L645.8,250.3Z" fill="#e8685f"/>
<line x1="517.7" y1="250.3" x2="645.8" y2="250.3" stroke="#8a8a8a" stroke-width="0.75" />
<text x="500" y="242.8" font-size="8.9">Day 0</text>
<path d="M517.7,274.8L525.3,274.8L525.7,274.7L526.1,274.7L526.5,274.6L526.9,274.4L527.3,274.2L527.7,274.0L528.1,273.9L528.5,273.8L528.9,273.8L529.3,273.8L529.7,273.9L530.1,274.1L530.5,274.3L530.9,274.5L531.3,274.6L531.7,274.7L532.1,274.5L532.5,274.1L532.9,273.2L533.3,271.5L533.7,269.3L534.1,266.9L534.5,264.8L534.9,263.5L535.3,263.0L535.7,263.0L536.1,263.5L536.5,264.8L536.9,266.9L537.3,269.3L537.7,271.3L538.1,272.2L538.5,271.3L538.9,269.1L539.3,267.0L539.7,265.7L540.1,265.3L540.5,265.3L540.9,265.3L541.3,265.7L541.7,267.0L542.1,269.3L542.5,271.9L542.9,273.8L543.3,274.6L543.7,274.8L544.9,274.8L545.3,274.6L545.7,274.2L546.1,273.3L546.5,272.2L546.9,271.1L547.3,270.4L547.7,270.1L548.1,270.0L548.5,270.0L548.9,270.0L549.3,270.2L549.7,270.7L550.1,271.6L550.5,272.7L550.9,273.7L551.3,274.3L551.7,274.5L552.1,274.5L552.5,274.5L552.9,274.4L553.3,274.4L553.7,274.4L554.1,274.4L554.5,274.5L554.9,274.5L555.3,274.6L555.7,274.7L556.1,274.7L556.5,274.7L556.9,274.8L566.5,274.8L566.9,274.7L567.3,274.7L567.7,274.6L568.1,274.6L568.5,274.5L568.9,274.4L569.3,274.2L569.7,274.1L570.1,274.0L570.5,273.9L570.9,273.8L571.3,273.8L571.7,273.8L572.1,273.9L572.5,274.0L572.9,274.2L573.3,274.3L573.7,274.4L574.1,274.5L574.5,274.6L574.9,274.7L575.3,274.7L575.7,274.8L576.1,274.8L595.7,274.8L596.1,274.7L596.5,274.6L596.9,274.4L597.3,274.1L597.7,273.6L598.1,273.1L598.5,272.7L598.9,272.4L599.3,272.3L599.7,272.3L600.1,272.4L600.5,272.7L600.9,273.1L601.3,273.6L601.7,274.1L602.1,274.4L602.5,274.6L602.9,274.7L603.3,274.8L616.9,274.8L617.3,274.7L617.7,274.7L618.1,274.7L618.5,274.6L618.9,274.6L619.3,274.5L619.7,274.5L620.1,274.4L620.5,274.4L620.9,274.3L621.3,274.3L621.7,274.3L622.1,274.3L622.5,274.3L622.9,274.3L623.3,274.1L623.7,273.4L624.1,271.7L624.5,268.6L624.9,264.5L625.3,260.2L625.7,256.6L626.1,254.3L626.5,253.3L626.9,253.0L627.3,253.1L627.7,253.6L628.1,255.2L628.5,258.2L628.9,262.3L629.3,266.6L629.7,270.2L630.1,272.6L630.5,273.8L630.9,274.2L631.3,274.2L631.7,274.2L632.1,274.1L632.5,274.1L632.9,274.1L633.3,274.0L633.7,274.0L634.1,274.0L634.5,274.0L634.9,274.0L635.3,274.1L635.7,274.1L636.1,274.2L636.5,274.2L636.9,274.3L637.3,274.3L637.7,274.4L638.1,274.4L638.5,274.5L638.9,274.5L639.3,274.5L639.7,274.5L640.1,274.4L640.5,274.4L640.9,274.4L641.3,274.5L641.7,274.5L642.1,274.5L642.5,274.6L642.9,274.7L643.3,274.7L643.7,274.7L644.1,274.8L645.8,274.8Z" fill="#6aaa44"/>
<line x1="517.7" y1="274.8" x2="645.8" y2="274.8" stroke="#c6c6c6" stroke-width="0.75" />
<text x="500" y="267.3" font-size="8.9">Day 2</text>
<path d="M517.7,299.3L525.3,299.3L525.7,299.2L526.1,299.1L526.5,298.9L526.9,298.7L527.3,298.4L527.7,298.1L528.1,297.9L528.5,297.8L528.9,297.8L529.3,297.8L529.7,298.0L530.1,298.2L530.5,298.5L530.9,298.8L531.3,299.0L531.7,299.1L532.1,299.0L532.5,298.7L532.9,297.8L533.3,296.3L533.7,294.2L534.1,292.0L534.5,290.1L534.9,288.9L535.3,288.4L535.7,288.4L536.1,288.9L536.5,290.1L536.9,292.0L537.3,294.2L537.7,296.1L538.1,296.9L538.5,296.2L538.9,294.4L539.3,292.5L539.7,291.5L540.1,291.1L540.5,291.1L540.9,291.1L541.3,291.5L541.7,292.6L542.1,294.6L542.5,296.8L542.9,298.4L543.3,299.1L543.7,299.3L544.9,299.3L545.3,299.1L545.7,298.7L546.1,297.8L546.5,296.7L546.9,295.7L547.3,295.0L547.7,294.7L548.1,294.6L548.5,294.6L548.9,294.6L549.3,294.8L549.7,295.3L550.1,296.1L550.5,297.2L550.9,298.2L551.3,298.8L551.7,299.0L552.1,299.0L552.5,299.0L552.9,298.9L553.3,298.9L553.7,298.9L554.1,298.9L554.5,299.0L554.9,299.0L555.3,299.1L555.7,299.2L556.1,299.2L556.5,299.2L556.9,299.3L566.5,299.3L566.9,299.2L567.3,299.2L567.7,299.1L568.1,299.1L568.5,299.0L568.9,298.9L569.3,298.7L569.7,298.6L570.1,298.5L570.5,298.4L570.9,298.3L571.3,298.3L571.7,298.3L572.1,298.4L572.5,298.5L572.9,298.7L573.3,298.8L573.7,298.9L574.1,299.0L574.5,299.1L574.9,299.2L575.3,299.2L575.7,299.3L576.1,299.3L595.7,299.3L596.1,299.3L596.5,299.2L596.9,299.0L597.3,298.7L597.7,298.4L598.1,298.0L598.5,297.6L598.9,297.4L599.3,297.3L599.7,297.3L600.1,297.4L600.5,297.6L600.9,298.0L601.3,298.4L601.7,298.7L602.1,299.0L602.5,299.2L602.9,299.3L603.3,299.3L616.9,299.3L617.3,299.2L617.7,299.2L618.1,299.2L618.5,299.1L618.9,299.1L619.3,299.0L619.7,299.0L620.1,298.9L620.5,298.9L620.9,298.8L621.3,298.8L621.7,298.8L622.1,298.8L622.5,298.8L622.9,298.8L623.3,298.6L623.7,297.9L624.1,296.2L624.5,293.2L624.9,289.1L625.3,284.8L625.7,281.3L626.1,279.0L626.5,278.0L626.9,277.7L627.3,277.8L627.7,278.3L628.1,279.9L628.5,282.9L628.9,286.9L629.3,291.2L629.7,294.7L630.1,297.1L630.5,298.3L630.9,298.7L631.3,298.7L631.7,298.7L632.1,298.6L632.5,298.6L632.9,298.6L633.3,298.5L633.7,298.5L634.1,298.5L634.5,298.5L634.9,298.5L635.3,298.6L635.7,298.6L636.1,298.7L636.5,298.7L636.9,298.8L637.3,298.8L637.7,298.9L638.1,298.9L638.5,299.0L638.9,299.0L639.3,299.0L639.7,299.0L640.1,298.9L640.5,298.9L640.9,298.9L641.3,299.0L641.7,299.0L642.1,299.0L642.5,299.1L642.9,299.2L643.3,299.2L643.7,299.2L644.1,299.3L645.8,299.3Z" fill="#14aab5"/>
<line x1="517.7" y1="299.3" x2="645.8" y2="299.3" stroke="#8a8a8a" stroke-width="0.75" />
<text x="500" y="291.8" font-size="8.9">Day 10</text>
<path d="M517.7,323.8L525.3,323.8L525.7,323.8L526.1,323.7L526.5,323.6L526.9,323.5L527.3,323.3L527.7,323.2L528.1,323.1L528.5,323.0L528.9,323.0L529.3,323.0L529.7,323.1L530.1,323.2L530.5,323.4L530.9,323.5L531.3,323.6L531.7,323.7L532.1,323.5L532.5,323.1L532.9,322.1L533.3,320.4L533.7,318.0L534.1,315.5L534.5,313.4L534.9,312.0L535.3,311.5L535.7,311.5L536.1,312.0L536.5,313.4L536.9,315.5L537.3,318.0L537.7,320.2L538.1,321.3L538.5,320.8L538.9,319.1L539.3,317.4L539.7,316.5L540.1,316.1L540.5,316.1L540.9,316.1L541.3,316.5L541.7,317.5L542.1,319.3L542.5,321.5L542.9,323.0L543.3,323.6L543.7,323.8L544.9,323.8L545.3,323.6L545.7,323.2L546.1,322.3L546.5,321.2L546.9,320.2L547.3,319.5L547.7,319.2L548.1,319.1L548.5,319.1L548.9,319.1L549.3,319.3L549.7,319.8L550.1,320.6L550.5,321.7L550.9,322.7L551.3,323.3L551.7,323.5L552.1,323.5L552.5,323.5L552.9,323.4L553.3,323.4L553.7,323.4L554.1,323.4L554.5,323.5L554.9,323.5L555.3,323.6L555.7,323.7L556.1,323.7L556.5,323.7L556.9,323.8L566.9,323.8L567.3,323.7L567.7,323.7L568.1,323.7L568.5,323.6L568.9,323.5L569.3,323.5L569.7,323.4L570.1,323.3L570.5,323.2L570.9,323.2L571.3,323.2L571.7,323.2L572.1,323.3L572.5,323.3L572.9,323.4L573.3,323.5L573.7,323.6L574.1,323.6L574.5,323.7L574.9,323.7L575.3,323.8L575.7,323.8L596.1,323.8L596.5,323.7L596.9,323.6L597.3,323.5L597.7,323.2L598.1,323.0L598.5,322.8L598.9,322.7L599.3,322.6L599.7,322.6L600.1,322.7L600.5,322.8L600.9,323.0L601.3,323.2L601.7,323.5L602.1,323.6L602.5,323.7L602.9,323.8L616.9,323.8L617.3,323.7L617.7,323.7L618.1,323.7L618.5,323.6L618.9,323.6L619.3,323.5L619.7,323.5L620.1,323.4L620.5,323.4L620.9,323.3L621.3,323.3L621.7,323.3L622.1,323.3L622.5,323.3L622.9,323.3L623.3,323.2L623.7,322.6L624.1,321.3L624.5,318.8L624.9,315.6L625.3,312.2L625.7,309.3L626.1,307.4L626.5,306.6L626.9,306.4L627.3,306.5L627.7,306.9L628.1,308.2L628.5,310.5L628.9,313.8L629.3,317.2L629.7,320.1L630.1,322.0L630.5,322.9L630.9,323.2L631.3,323.2L631.7,323.2L632.1,323.1L632.5,323.1L632.9,323.1L633.3,323.0L633.7,323.0L634.1,323.0L634.5,323.0L634.9,323.0L635.3,323.1L635.7,323.1L636.1,323.2L636.5,323.2L636.9,323.3L637.3,323.3L637.7,323.4L638.1,323.4L638.5,323.5L638.9,323.5L639.3,323.5L639.7,323.5L640.1,323.4L640.5,323.4L640.9,323.4L641.3,323.5L641.7,323.5L642.1,323.5L642.5,323.6L642.9,323.7L643.3,323.7L643.7,323.7L644.1,323.8L645.8,323.8Z" fill="#9775b5"/>
<line x1="517.7" y1="323.8" x2="645.8" y2="323.8" stroke="#c0c0c0" stroke-width="0.75" />
<text x="500" y="316.3" font-size="8.9">Day 28</text>
<text x="479.6" y="277" font-size="7.7" text-anchor="middle" transform="rotate(-90 479.6 277)" textLength="61.3" lengthAdjust="spacingAndGlyphs">Normalized signal</text>
<text x="488.5" y="277" font-size="7.7" text-anchor="middle" transform="rotate(-90 488.5 277)" textLength="48" lengthAdjust="spacingAndGlyphs">(range 0–450)</text>
<line x1="653.3" y1="227" x2="685.3" y2="227" stroke="#aaa" stroke-width="0.8" />
<line x1="669.3" y1="227" x2="669.3" y2="225.6" stroke="#aaa" stroke-width="0.6" />
<text x="668.9" y="222.8" font-size="7.6" text-anchor="middle" fill="#262626">ISG15</text>
<line x1="653.3" y1="326.3" x2="685.3" y2="326.3" stroke="#aaa" stroke-width="0.8" />
<line x1="654.8" y1="326.3" x2="654.8" y2="328.6" stroke="#888" stroke-width="0.7" />
<text x="654.8" y="336.9" font-size="7.2" text-anchor="middle" fill="#262626">0</text>
<line x1="661.25" y1="326.3" x2="661.25" y2="328.6" stroke="#888" stroke-width="0.7" />
<text x="661.25" y="336.9" font-size="7.2" text-anchor="middle" fill="#262626">1</text>
<line x1="667.7" y1="326.3" x2="667.7" y2="328.6" stroke="#888" stroke-width="0.7" />
<text x="667.7" y="336.9" font-size="7.2" text-anchor="middle" fill="#262626">2</text>
<line x1="674.15" y1="326.3" x2="674.15" y2="328.6" stroke="#888" stroke-width="0.7" />
<text x="674.15" y="336.9" font-size="7.2" text-anchor="middle" fill="#262626">3</text>
<line x1="680.6" y1="326.3" x2="680.6" y2="328.6" stroke="#888" stroke-width="0.7" />
<text x="680.6" y="336.9" font-size="7.2" text-anchor="middle" fill="#262626">4</text>
<path d="M654.8,229.6 C654.87,227.18 655.05,231.12 655.2,232.1 C655.35,233.08 655.5,234.72 655.7,235.5 C655.9,236.28 655.97,236.63 656.4,236.8 C656.83,236.97 657.48,236.58 658.3,236.5 C659.12,236.42 660.22,236.22 661.3,236.3 C662.38,236.38 663.38,236.8 664.8,237 C666.22,237.2 667.35,237.38 669.8,237.5 C672.25,237.62 677.88,237.59 679.5,237.75 C681.12,237.91 681.12,238.29 679.5,238.45 C677.88,238.61 672.25,238.57 669.8,238.7 C667.35,238.82 666.22,239 664.8,239.2 C663.38,239.4 662.38,239.82 661.3,239.9 C660.22,239.98 659.12,239.78 658.3,239.7 C657.48,239.62 656.83,239.23 656.4,239.4 C655.97,239.57 655.9,239.92 655.7,240.7 C655.5,241.48 655.35,243.12 655.2,244.1 C655.05,245.08 654.87,249.02 654.8,246.6 C654.73,244.18 654.73,232.02 654.8,229.6 Z" fill="#e8685f" stroke="#222" stroke-width="1.05" stroke-linejoin="round"/>
<path d="M654.8,255.5 C654.88,253.22 655.1,257.85 655.3,258.8 C655.5,259.75 655.67,260.87 656,261.2 C656.33,261.53 656.58,261.1 657.3,260.8 C658.02,260.5 659.18,259.7 660.3,259.4 C661.42,259.1 662.75,258.9 664,259 C665.25,259.1 666.5,259.55 667.8,260 C669.1,260.45 670.47,261.23 671.8,261.7 C673.13,262.17 674.47,262.55 675.8,262.8 C677.13,263.05 678.47,263.07 679.8,263.2 C681.13,263.32 683.13,263.34 683.8,263.55 C684.47,263.76 684.47,264.24 683.8,264.45 C683.13,264.66 681.13,264.68 679.8,264.8 C678.47,264.93 677.13,264.95 675.8,265.2 C674.47,265.45 673.13,265.83 671.8,266.3 C670.47,266.77 669.1,267.55 667.8,268 C666.5,268.45 665.25,268.9 664,269 C662.75,269.1 661.42,268.9 660.3,268.6 C659.18,268.3 658.02,267.5 657.3,267.2 C656.58,266.9 656.33,266.47 656,266.8 C655.67,267.13 655.5,268.25 655.3,269.2 C655.1,270.15 654.88,274.78 654.8,272.5 C654.72,270.22 654.72,257.78 654.8,255.5 Z" fill="#6aaa44" stroke="#222" stroke-width="1.05" stroke-linejoin="round"/>
<path d="M654.8,281.1 C654.87,278.68 655.05,282.62 655.2,283.6 C655.35,284.58 655.5,286.17 655.7,287 C655.9,287.83 655.97,288.35 656.4,288.6 C656.83,288.85 657.65,288.53 658.3,288.5 C658.95,288.47 659.38,288.35 660.3,288.4 C661.22,288.45 662.22,288.68 663.8,288.8 C665.38,288.92 666.97,289.03 669.8,289.1 C672.63,289.18 678.97,289.11 680.8,289.25 C682.63,289.39 682.63,289.81 680.8,289.95 C678.97,290.09 672.63,290.03 669.8,290.1 C666.97,290.18 665.38,290.28 663.8,290.4 C662.22,290.52 661.22,290.75 660.3,290.8 C659.38,290.85 658.95,290.73 658.3,290.7 C657.65,290.67 656.83,290.35 656.4,290.6 C655.97,290.85 655.9,291.37 655.7,292.2 C655.5,293.03 655.35,294.62 655.2,295.6 C655.05,296.58 654.87,300.52 654.8,298.1 C654.73,295.68 654.73,283.52 654.8,281.1 Z" fill="#14aab5" stroke="#222" stroke-width="1.05" stroke-linejoin="round"/>
<path d="M654.8,306.9 C654.87,304.48 655.05,308.42 655.2,309.4 C655.35,310.38 655.5,311.98 655.7,312.8 C655.9,313.62 655.97,314.08 656.4,314.3 C656.83,314.52 657.53,314.17 658.3,314.1 C659.07,314.03 660.08,313.85 661,313.9 C661.92,313.95 662.5,314.25 663.8,314.4 C665.1,314.55 666.43,314.69 668.8,314.8 C671.17,314.91 676.47,314.89 678,315.05 C679.53,315.21 679.53,315.59 678,315.75 C676.47,315.91 671.17,315.89 668.8,316 C666.43,316.11 665.1,316.25 663.8,316.4 C662.5,316.55 661.92,316.85 661,316.9 C660.08,316.95 659.07,316.77 658.3,316.7 C657.53,316.63 656.83,316.28 656.4,316.5 C655.97,316.72 655.9,317.18 655.7,318 C655.5,318.82 655.35,320.42 655.2,321.4 C655.05,322.38 654.87,326.32 654.8,323.9 C654.73,321.48 654.73,309.32 654.8,306.9 Z" fill="#9775b5" stroke="#222" stroke-width="1.05" stroke-linejoin="round"/>
<rect x="528.5" y="338.2" width="4" height="6.3" fill="#1e6b34" />
<rect x="533.4" y="338.2" width="4" height="6.3" fill="#1e6b34" />
<line x1="532" y1="341.3" x2="534" y2="341.3" stroke="#1e6b34" stroke-width="1.2" />
<text x="532.9" y="334.5" font-size="4.6" text-anchor="middle" fill="#262626">HES4</text>
<line x1="543.3" y1="331.7" x2="633" y2="331.7" stroke="#2b3990" stroke-width="1.35" />
<line x1="543.3" y1="331.7" x2="633" y2="331.7" stroke="#2b3990" stroke-width="3" stroke-dasharray="0.7 1.3"/>
<line x1="543.3" y1="327.6" x2="543.3" y2="336.2" stroke="#2b3990" stroke-width="1" />
<line x1="591.1" y1="327.6" x2="591.1" y2="336.2" stroke="#2b3990" stroke-width="1" />
<line x1="626.6" y1="327.6" x2="626.6" y2="336.2" stroke="#2b3990" stroke-width="1" />
<rect x="629.7" y="327.2" width="3.6" height="9.4" fill="#2b3990" />
<text x="587.6" y="345.7" font-size="7.2" text-anchor="middle" fill="#262626">ISG15</text>
<line x1="496.5" y1="333.1" x2="496.5" y2="362" stroke="#aaa" stroke-width="0.8" />
<text x="493" y="347.5" font-size="7.2" text-anchor="middle" fill="#262626" transform="rotate(-90 493 347.5)">Genes</text>
<line x1="518" y1="349.2" x2="645.3" y2="349.2" stroke="#777" stroke-width="0.7" />
<line x1="536" y1="349.2" x2="536" y2="351.4" stroke="#777" stroke-width="0.7" />
<line x1="569.9" y1="349.2" x2="569.9" y2="351.4" stroke="#777" stroke-width="0.7" />
<line x1="603.3" y1="349.2" x2="603.3" y2="351.4" stroke="#777" stroke-width="0.7" />
<line x1="637.2" y1="349.2" x2="637.2" y2="351.4" stroke="#777" stroke-width="0.7" />
<text x="536" y="358.2" font-size="4.9" text-anchor="middle" fill="#444">1,000,000</text>
<text x="569.9" y="358.2" font-size="4.9" text-anchor="middle" fill="#444">1,005,000</text>
<text x="603.3" y="358.2" font-size="4.9" text-anchor="middle" fill="#444">1,010,000</text>
<text x="637.2" y="358.2" font-size="4.9" text-anchor="middle" fill="#444">1,015,000</text>
<text x="581.8" y="366.9" font-size="6.2" text-anchor="middle" fill="#262626">chr1 position (bp)</text>
<line x1="33.3" y1="400.8" x2="33.3" y2="533.1" stroke="#9a9a9a" stroke-width="0.8" />
<line x1="33.3" y1="533.1" x2="171.2" y2="533.1" stroke="#9a9a9a" stroke-width="0.8" />
<line x1="30.9" y1="401.55" x2="33.3" y2="401.55" stroke="#9a9a9a" stroke-width="0.8" />
<text x="26.7" y="404.85" font-size="8" text-anchor="end" fill="#262626">15</text>
<line x1="30.9" y1="423.2" x2="33.3" y2="423.2" stroke="#9a9a9a" stroke-width="0.8" />
<text x="26.7" y="426.5" font-size="8" text-anchor="end" fill="#262626">10</text>
<line x1="30.9" y1="444.85" x2="33.3" y2="444.85" stroke="#9a9a9a" stroke-width="0.8" />
<text x="26.7" y="448.15" font-size="8" text-anchor="end" fill="#262626">5</text>
<line x1="30.9" y1="466.5" x2="33.3" y2="466.5" stroke="#9a9a9a" stroke-width="0.8" />
<text x="26.7" y="469.8" font-size="8" text-anchor="end" fill="#262626">0</text>
<line x1="30.9" y1="488.15" x2="33.3" y2="488.15" stroke="#9a9a9a" stroke-width="0.8" />
<text x="26.7" y="491.45" font-size="8" text-anchor="end" fill="#262626">−5</text>
<line x1="30.9" y1="509.8" x2="33.3" y2="509.8" stroke="#9a9a9a" stroke-width="0.8" />
<text x="26.7" y="513.1" font-size="8" text-anchor="end" fill="#262626">−10</text>
<line x1="30.9" y1="531.45" x2="33.3" y2="531.45" stroke="#9a9a9a" stroke-width="0.8" />
<text x="26.7" y="534.75" font-size="8" text-anchor="end" fill="#262626">−15</text>
<line x1="61" y1="533.1" x2="61" y2="535.5" stroke="#9a9a9a" stroke-width="0.8" />
<text x="61" y="545.9" font-size="8" text-anchor="middle" fill="#262626">−10</text>
<line x1="103.5" y1="533.1" x2="103.5" y2="535.5" stroke="#9a9a9a" stroke-width="0.8" />
<text x="103.5" y="545.9" font-size="8" text-anchor="middle" fill="#262626">0</text>
<line x1="146" y1="533.1" x2="146" y2="535.5" stroke="#9a9a9a" stroke-width="0.8" />
<text x="146" y="545.9" font-size="8" text-anchor="middle" fill="#262626">10</text>
<text x="103.5" y="559.9" font-size="8" text-anchor="middle" textLength="30.3" lengthAdjust="spacingAndGlyphs">UMAP_1</text>
<text x="8.6" y="467" font-size="8.4" text-anchor="middle" transform="rotate(-90 8.6 467)" textLength="31.5" lengthAdjust="spacingAndGlyphs">UMAP_2</text>
<text x="103.2" y="394.9" font-size="9" text-anchor="middle">Day 0</text>
<line x1="176.8" y1="534" x2="316.6" y2="534" stroke="#9a9a9a" stroke-width="0.8" />
<line x1="204.1" y1="534" x2="204.1" y2="536.4" stroke="#9a9a9a" stroke-width="0.8" />
<text x="204.1" y="546.4" font-size="8" text-anchor="middle" fill="#262626">−10</text>
<line x1="247.7" y1="534" x2="247.7" y2="536.4" stroke="#9a9a9a" stroke-width="0.8" />
<text x="247.7" y="546.4" font-size="8" text-anchor="middle" fill="#262626">0</text>
<line x1="291.3" y1="534" x2="291.3" y2="536.4" stroke="#9a9a9a" stroke-width="0.8" />
<text x="291.3" y="546.4" font-size="8" text-anchor="middle" fill="#262626">10</text>
<text x="247" y="559.9" font-size="8" text-anchor="middle" textLength="30.3" lengthAdjust="spacingAndGlyphs">UMAP_1</text>
<text x="247" y="394.7" font-size="9" text-anchor="middle">Day 28</text>
<circle cx="267.1" cy="416.1" r="2.4" fill="#e0232b"/>
<text x="272.8" y="418.7" font-size="7.9" fill="#262626" textLength="45" lengthAdjust="spacingAndGlyphs">VI-A CD8<tspan font-size="5" dy="-2.9">+</tspan><tspan dy="2.9"> T</tspan></text>
<g transform="matrix(0.7713 0 0 0.9252 -74.907 381.103)"><g filter="url(#sp)"><path d="M246.7 64.3h0M259.9 63.1h0M248.2 64.6h0M239.2 63.7h0M251.6 67.3h0M236.6 60.9h0M236.5 67.5h0M253.4 57.5h0M261.5 69.5h0M252.3 65.0h0M238.4 57.2h0M248.8 57.8h0M239.3 60.1h0M234.8 63.0h0M246.3 68.0h0M248.5 65.3h0M248.0 65.6h0M246.8 60.6h0M261.9 69.9h0M257.5 66.2h0M242.8 60.0h0M242.1 57.9h0M255.5 62.2h0M257.7 62.0h0M260.8 68.0h0M234.0 59.7h0M259.5 63.1h0M261.5 62.2h0M236.0 65.2h0M255.8 60.5h0M236.4 61.3h0M261.0 66.9h0M237.3 60.2h0M236.8 57.8h0M256.3 59.3h0M249.7 62.8h0M239.3 66.5h0M237.7 65.4h0M237.3 62.5h0M240.0 60.5h0M261.2 67.4h0M242.5 68.5h0M239.9 62.1h0M257.9 65.3h0M236.8 69.9h0M240.0 60.4h0M255.6 61.3h0M242.3 58.0h0M236.5 64.6h0M240.8 64.8h0M244.4 62.9h0M260.9 63.3h0M250.1 68.3h0M239.1 59.0h0M259.4 67.6h0M241.0 59.5h0M254.7 69.2h0M239.5 69.4h0M258.7 64.8h0M245.8 58.3h0M235.1 69.5h0M240.7 66.2h0M241.2 67.7h0M250.7 60.8h0M238.9 66.4h0M235.9 60.0h0M249.7 68.1h0M251.2 60.6h0M259.7 59.7h0M234.5 60.5h0" stroke="#c8c8c8" stroke-width="0.90" stroke-linecap="round" fill="none" opacity="0.55"/><path d="M250.3 69.0h0M241.6 73.9h0M254.3 70.1h0M247.6 82.3h0M267.4 78.5h0M258.1 77.4h0M240.5 68.6h0M236.6 82.6h0M258.4 83.4h0M236.7 78.2h0M251.4 79.7h0M246.2 84.0h0M238.4 76.7h0M259.6 82.4h0M259.6 79.3h0M261.4 82.6h0M247.3 79.0h0M264.8 81.9h0M249.3 80.6h0M263.6 77.2h0M256.0 74.1h0M254.6 77.7h0M238.6 78.2h0M267.8 82.1h0M259.3 74.2h0M259.5 77.3h0M250.1 81.4h0M238.7 80.0h0M237.0 77.6h0M251.4 71.7h0" stroke="#c8c8c8" stroke-width="0.90" stroke-linecap="round" fill="none" opacity="0.55"/><path d="M247.0 82.0h0M246.1 85.4h0M242.6 78.1h0M243.0 83.4h0M242.0 79.4h0M249.1 83.3h0M244.4 85.1h0M243.3 83.3h0M242.0 81.4h0M248.1 85.3h0M248.8 81.1h0M245.8 80.5h0M241.4 82.0h0M248.4 84.8h0M247.1 85.6h0" stroke="#c8c8c8" stroke-width="0.90" stroke-linecap="round" fill="none" opacity="0.55"/><path d="M265.9 89.8h0M268.3 93.4h0M265.0 98.1h0M270.8 100.8h0M266.4 112.5h0M275.7 99.4h0M263.0 85.1h0M274.2 85.4h0M271.9 103.4h0M266.3 110.9h0M262.3 88.6h0M268.4 84.8h0M273.6 92.1h0M264.0 85.6h0M270.8 99.2h0M270.8 106.3h0M273.3 116.6h0M271.6 90.8h0M268.7 90.1h0M262.2 100.1h0M272.0 90.1h0M265.8 95.8h0M271.8 101.7h0M270.6 109.7h0M267.5 110.9h0M274.7 87.0h0M275.1 108.6h0M263.8 99.4h0M270.8 114.9h0M267.3 103.3h0M274.3 111.1h0M275.2 99.8h0M271.1 91.0h0M272.1 111.8h0M271.0 108.4h0M265.0 114.6h0M275.7 117.2h0M269.5 110.9h0M266.5 114.9h0M274.0 95.8h0M263.2 99.0h0M269.7 110.1h0M268.8 85.0h0M273.3 86.2h0M273.2 89.9h0M266.7 110.8h0M264.0 89.1h0M269.2 108.6h0M273.8 107.4h0M275.2 100.7h0" stroke="#c8c8c8" stroke-width="0.90" stroke-linecap="round" fill="none" opacity="0.55"/><path d="M261.2 131.9h0M249.5 141.6h0M250.6 146.0h0M256.2 141.5h0M259.5 142.3h0M251.0 138.4h0M259.5 149.8h0M249.3 148.7h0M261.5 141.5h0M255.2 134.4h0M254.6 141.1h0M255.7 130.6h0M261.5 141.4h0M252.4 147.6h0M255.0 140.8h0M257.1 131.4h0M254.6 139.1h0M261.3 150.3h0M250.3 140.4h0M248.0 139.5h0M259.1 149.8h0M253.6 137.0h0M249.1 143.6h0M260.8 132.8h0M258.5 130.5h0M249.1 135.0h0M257.0 137.1h0M251.7 143.6h0M247.7 146.1h0M248.0 141.2h0M250.0 134.4h0M254.5 139.6h0M252.0 139.1h0M254.5 133.5h0M249.3 143.9h0M256.2 141.7h0M259.6 143.5h0M259.7 135.1h0M257.9 147.8h0M260.4 136.9h0" stroke="#c8c8c8" stroke-width="0.90" stroke-linecap="round" fill="none" opacity="0.55"/><path d="M184.4 89.1h0M183.1 90.0h0M192.4 79.6h0M183.4 86.7h0M183.6 79.2h0M191.7 83.1h0M191.1 79.5h0M185.6 86.2h0M180.2 80.4h0M189.6 88.9h0M193.6 79.4h0M187.1 87.1h0M187.0 86.2h0M182.6 78.8h0M181.5 78.4h0M187.7 84.2h0M188.0 79.8h0M182.6 80.4h0M191.8 89.9h0M193.0 79.1h0M180.9 89.4h0M186.5 87.2h0M184.6 83.6h0M187.2 83.2h0M188.4 78.2h0M189.8 88.1h0M182.5 83.4h0M190.4 82.9h0M182.7 80.0h0M187.2 78.2h0" stroke="#c8c8c8" stroke-width="0.90" stroke-linecap="round" fill="none" opacity="0.55"/><path d="M283.4 117.6h0M280.6 118.9h0M279.4 108.9h0M279.0 111.1h0M284.7 117.7h0M273.9 120.0h0M281.2 117.1h0M282.2 108.9h0M283.4 119.4h0M280.4 116.9h0M281.5 108.9h0M280.8 101.6h0M275.1 110.3h0M270.2 107.8h0M279.6 113.7h0M273.5 120.8h0M280.0 107.4h0M279.9 112.5h0M278.0 108.6h0M285.0 114.1h0M280.5 116.8h0M284.7 100.5h0M279.2 116.3h0M273.8 108.8h0M270.8 104.3h0" stroke="#c8c8c8" stroke-width="0.90" stroke-linecap="round" fill="none" opacity="0.55"/><path d="M194.1 140.0h0M192.8 148.1h0M196.1 144.1h0M200.6 144.7h0M200.9 145.4h0M198.9 139.8h0M196.6 146.6h0M190.5 148.3h0M191.8 143.7h0M191.9 144.0h0M196.7 139.6h0M200.4 143.2h0M195.8 145.0h0M194.0 141.9h0M197.2 144.6h0M193.1 146.2h0M193.3 139.1h0M192.7 139.4h0M191.7 146.5h0M194.3 148.0h0M198.2 139.5h0M200.9 148.4h0M190.8 148.1h0M194.7 143.8h0M200.7 141.4h0M195.8 148.4h0M198.0 143.7h0M200.8 147.2h0M196.6 140.2h0M196.9 143.6h0M192.2 139.5h0M195.8 140.2h0M194.9 145.7h0M195.0 141.6h0M196.4 143.2h0M198.6 144.3h0M201.0 148.5h0M198.1 141.4h0M191.3 147.9h0M198.6 145.2h0M194.0 141.7h0M197.5 144.6h0M196.5 145.3h0M198.3 140.9h0M192.7 148.8h0" stroke="#c8c8c8" stroke-width="0.90" stroke-linecap="round" fill="none" opacity="0.55"/><path d="M149.3,50.8 C149.73,50.3 150.95,49.57 151.6,49.8 C152.25,50.03 152.47,51.23 153.2,52.2 C153.93,53.17 154.95,54.43 156,55.6 C157.05,56.77 159.1,58.5 159.5,59.2 C159.9,59.9 159.25,60.07 158.4,59.8 C157.55,59.53 155.7,58.37 154.4,57.6 C153.1,56.83 151.5,56 150.6,55.2 C149.7,54.4 149.22,53.53 149,52.8 C148.78,52.07 148.87,51.3 149.3,50.8 Z" fill="#c8c8c8"/><path d="M185.3,37.2 C185.53,36.9 186.12,36.2 186.8,36.6 C187.48,37 188.53,38.5 189.4,39.6 C190.27,40.7 191.73,42.53 192,43.2 C192.27,43.87 191.77,44.03 191,43.6 C190.23,43.17 188.33,41.47 187.4,40.6 C186.47,39.73 185.75,38.97 185.4,38.4 C185.05,37.83 185.07,37.5 185.3,37.2 Z" fill="#c8c8c8"/><path d="M203.4,60.4 C203.82,60.23 204.7,61.03 204.9,62 C205.1,62.97 204.98,64.77 204.6,66.2 C204.22,67.63 203.43,69.37 202.6,70.6 C201.77,71.83 200.53,72.77 199.6,73.6 C198.67,74.43 197.6,75.38 197,75.6 C196.4,75.82 195.73,75.53 196,74.9 C196.27,74.27 197.77,73.03 198.6,71.8 C199.43,70.57 200.37,68.97 201,67.5 C201.63,66.03 202,64.18 202.4,63 C202.8,61.82 202.98,60.57 203.4,60.4 Z" fill="#c8c8c8"/><path d="M186,80.5 C186.88,79.63 189.25,79.48 189.8,79.8 C190.35,80.12 188.87,81.35 189.3,82.4 C189.73,83.45 191.7,84.78 192.4,86.1 C193.1,87.42 194.02,89.68 193.5,90.3 C192.98,90.92 190.72,89.98 189.3,89.8 C187.88,89.62 185.8,90 185,89.2 C184.2,88.4 184.33,86.45 184.5,85 C184.67,83.55 185.12,81.37 186,80.5 Z" fill="#dcdcdc"/><path d="M166.4,77.7 C166.22,76.47 166.12,75.73 166.6,74.5 C167.08,73.27 168.07,71.38 169.3,70.3 C170.53,69.22 172.6,68.35 174,68 C175.4,67.65 176.47,67.82 177.7,68.2 C178.93,68.58 180.18,69.33 181.4,70.3 C182.62,71.27 183.78,72.98 185,74 C186.22,75.02 187.28,75.88 188.7,76.4 C190.12,76.92 192.2,77.23 193.5,77.1 C194.8,76.97 196.42,75.37 196.5,75.6 C196.58,75.83 195.12,77.73 194,78.5 C192.88,79.27 191.05,79.45 189.8,80.2 C188.55,80.95 187.22,81.78 186.5,83 C185.78,84.22 186.58,86.7 185.5,87.5 C184.42,88.3 181.48,87.58 180,87.8 C178.52,88.02 177.68,88.3 176.6,88.8 C175.52,89.3 174.37,90.55 173.5,90.8 C172.63,91.05 172.02,91 171.4,90.3 C170.78,89.6 170.42,88 169.8,86.6 C169.18,85.2 168.27,83.38 167.7,81.9 C167.13,80.42 166.58,78.93 166.4,77.7 Z" fill="#c8c8c8"/><path d="M231.6,52.5 C231.9,51.18 232.42,49.25 233.8,48.1 C235.18,46.95 238.05,45.58 239.9,45.6 C241.75,45.62 243.47,47.1 244.9,48.2 C246.33,49.3 247.27,50.97 248.5,52.2 C249.73,53.43 250.67,54.7 252.3,55.6 C253.93,56.5 255.98,57.3 258.3,57.6 C260.62,57.9 263.87,57.2 266.2,57.4 C268.53,57.6 270.93,57.87 272.3,58.8 C273.67,59.73 273.82,61.53 274.4,63 C274.98,64.47 276,66.4 275.8,67.6 C275.6,68.8 274.67,69.62 273.2,70.2 C271.73,70.78 268.75,71.1 267,71.1 C265.25,71.1 264.28,70.82 262.7,70.2 C261.12,69.58 259.37,68.45 257.5,67.4 C255.63,66.35 253.33,64.93 251.5,63.9 C249.67,62.87 248.28,62.08 246.5,61.2 C244.72,60.32 242.78,59.08 240.8,58.6 C238.82,58.12 236.07,58.73 234.6,58.3 C233.13,57.87 232.5,56.97 232,56 C231.5,55.03 231.3,53.82 231.6,52.5 Z" fill="#c8c8c8"/><path d="M231.6,52.5 C231.9,51.18 232.42,49.25 233.8,48.1 C235.18,46.95 238.05,45.58 239.9,45.6 C241.75,45.62 243.47,47.1 244.9,48.2 C246.33,49.3 247.27,50.97 248.5,52.2 C249.73,53.43 251.47,54.3 252.3,55.6 C253.13,56.9 253.55,58.6 253.5,60 C253.45,61.4 253.17,63.8 252,64 C250.83,64.2 248.37,62.1 246.5,61.2 C244.63,60.3 242.78,59.08 240.8,58.6 C238.82,58.12 236.07,58.73 234.6,58.3 C233.13,57.87 232.5,56.97 232,56 C231.5,55.03 231.3,53.82 231.6,52.5 Z" fill="#c8c8c8"/><path d="M221.6,87.5 C221.77,86.42 222.52,85 223.5,84 C224.48,83 226,82.13 227.5,81.5 C229,80.87 230.92,80.53 232.5,80.2 C234.08,79.87 235.65,79.67 237,79.5 C238.35,79.33 240.07,78.87 240.6,79.2 C241.13,79.53 240.55,80.53 240.2,81.5 C239.85,82.47 239.37,83.78 238.5,85 C237.63,86.22 236.42,87.73 235,88.8 C233.58,89.87 231.58,90.87 230,91.4 C228.42,91.93 226.75,92.15 225.5,92 C224.25,91.85 223.15,91.25 222.5,90.5 C221.85,89.75 221.43,88.58 221.6,87.5 Z" fill="#c8c8c8"/><path d="M262.5,122.2 C263.5,121.9 263.82,122.6 263.4,123.4 C262.98,124.2 260.82,125.9 260,127 C259.18,128.1 258.8,128.67 258.5,130 C258.2,131.33 258.18,133.33 258.2,135 C258.22,136.67 258.7,138.33 258.6,140 C258.5,141.67 258.37,143.57 257.6,145 C256.83,146.43 255.33,147.5 254,148.6 C252.67,149.7 250.67,150.37 249.6,151.6 C248.53,152.83 248.07,154.67 247.6,156 C247.13,157.33 247.27,158.97 246.8,159.6 C246.33,160.23 245.23,160.57 244.8,159.8 C244.37,159.03 244.5,156.63 244.2,155 C243.9,153.37 243.27,151.5 243,150 C242.73,148.5 242.5,147.5 242.6,146 C242.7,144.5 243.1,142.67 243.6,141 C244.1,139.33 244.77,137.57 245.6,136 C246.43,134.43 247.43,132.9 248.6,131.6 C249.77,130.3 251.13,129.27 252.6,128.2 C254.07,127.13 255.75,126.2 257.4,125.2 C259.05,124.2 261.5,122.5 262.5,122.2 Z" fill="#c8c8c8"/><path d="M262.6,103.6 C263.87,102.83 266.07,100.28 267.6,100.6 C269.13,100.92 271.13,103.68 271.8,105.5 C272.47,107.32 272.1,110.05 271.6,111.5 C271.1,112.95 269.43,113.12 268.8,114.2 C268.17,115.28 268.13,116.8 267.8,118 C267.47,119.2 267.57,120.7 266.8,121.4 C266.03,122.1 263.7,123.1 263.2,122.2 C262.7,121.3 263.83,117.73 263.8,116 C263.77,114.27 263.97,112.73 263,111.8 C262.03,110.87 259.75,110.77 258,110.4 C256.25,110.03 253.67,110.07 252.5,109.6 C251.33,109.13 250.5,108.17 251,107.6 C251.5,107.03 254,106.6 255.5,106.2 C257,105.8 258.82,105.63 260,105.2 C261.18,104.77 261.33,104.37 262.6,103.6 Z" fill="#c8c8c8"/><path d="M281.2,115.4 C282,115.03 284.28,114.52 286,114.1 C287.72,113.68 290.08,113 291.5,112.9 C292.92,112.8 293.42,113.12 294.5,113.5 C295.58,113.88 296.25,114.6 298,115.2 C299.75,115.8 303.83,116.62 305,117.1 C306.17,117.58 306.17,118.13 305,118.1 C303.83,118.07 300.08,117.22 298,116.9 C295.92,116.58 294.5,116.28 292.5,116.2 C290.5,116.12 287.88,116.38 286,116.4 C284.12,116.42 282,116.47 281.2,116.3 C280.4,116.13 280.4,115.77 281.2,115.4 Z" fill="#c8c8c8"/><path d="M191,137.5 C192.07,136.33 194.17,137.5 196,137.5 C197.83,137.5 200.67,136.58 202,137.5 C203.33,138.42 203.67,140.92 204,143 C204.33,145.08 205.33,148.67 204,150 C202.67,151.33 198.33,150.92 196,151 C193.67,151.08 191.07,151.58 190,150.5 C188.93,149.42 189.43,146.67 189.6,144.5 C189.77,142.33 189.93,138.67 191,137.5 Z" fill="#dcdcdc"/><path d="M192,131.2 C192.8,130.62 194.75,130.4 196,130 C197.25,129.6 198.4,129 199.5,128.8 C200.6,128.6 201.82,128.35 202.6,128.8 C203.38,129.25 203.97,130.22 204.2,131.5 C204.43,132.78 204.62,135.38 204,136.5 C203.38,137.62 201.83,138.02 200.5,138.2 C199.17,138.38 197.25,137.37 196,137.6 C194.75,137.83 193.8,139.62 193,139.6 C192.2,139.58 191.5,138.52 191.2,137.5 C190.9,136.48 191.07,134.55 191.2,133.5 C191.33,132.45 191.2,131.78 192,131.2 Z" fill="#c8c8c8"/><path d="M201.6,135.5 C202.03,134.08 203.63,133.58 204.2,134.5 C204.77,135.42 204.8,138.58 205,141 C205.2,143.42 205.8,147.63 205.4,149 C205,150.37 203.23,150.2 202.6,149.2 C201.97,148.2 201.77,145.28 201.6,143 C201.43,140.72 201.17,136.92 201.6,135.5 Z" fill="#c8c8c8"/><path d="M189.2,150.6 C189.7,150.07 191.53,149.3 193,149.2 C194.47,149.1 196.33,150.07 198,150 C199.67,149.93 201.5,148.9 203,148.8 C204.5,148.7 206.57,148.87 207,149.4 C207.43,149.93 206.47,151.13 205.6,152 C204.73,152.87 202.83,153.9 201.8,154.6 C200.77,155.3 200.28,156.1 199.4,156.2 C198.52,156.3 197.48,155.67 196.5,155.2 C195.52,154.73 194.58,153.87 193.5,153.4 C192.42,152.93 190.72,152.87 190,152.4 C189.28,151.93 188.7,151.13 189.2,150.6 Z" fill="#c8c8c8"/><path d="M249.2,85.6 C250,85.77 252.27,86.77 254,86.6 C255.73,86.43 258.67,84.93 259.6,84.6" fill="none" stroke="#c8c8c8" stroke-width="2.0" stroke-linecap="round" stroke-linejoin="round"/><path d="M257.5,86.5 C258.33,87.17 260.82,88.75 262.5,90.5 C264.18,92.25 266.32,94.83 267.6,97 C268.88,99.17 269.77,102.42 270.2,103.5" fill="none" stroke="#c8c8c8" stroke-width="3.0" stroke-linecap="round" stroke-linejoin="round"/><path d="M249.5,86.8 C250.33,87.37 252.98,88.9 254.5,90.2 C256.02,91.5 257.92,93.87 258.6,94.6" fill="none" stroke="#c8c8c8" stroke-width="1.8" stroke-linecap="round" stroke-linejoin="round"/><ellipse cx="275" cy="67.4" rx="1.9" ry="2.3" fill="#c8c8c8"/><ellipse cx="307.4" cy="119.6" rx="2.3" ry="2.8" fill="#c8c8c8"/><ellipse cx="208.6" cy="25.8" rx="0.6" ry="0.6" fill="#c8c8c8"/><ellipse cx="224.7" cy="43.6" rx="0.7" ry="0.6" fill="#c8c8c8"/><ellipse cx="170.6" cy="122.9" rx="0.5" ry="0.5" fill="#c8c8c8"/><ellipse cx="197.6" cy="120.3" rx="0.5" ry="0.5" fill="#c8c8c8"/><ellipse cx="202.3" cy="58" rx="0.5" ry="0.9" fill="#c8c8c8"/><ellipse cx="191.4" cy="139.6" rx="1.6" ry="1.2" fill="#c8c8c8"/><ellipse cx="267.6" cy="87.4" rx="0.5" ry="1.2" fill="#c8c8c8"/></g></g>
<g transform="matrix(0.7913 0 0 0.9252 64.675 381.103)"><g filter="url(#sp)"><path d="M246.7 64.3h0M259.9 63.1h0M248.2 64.6h0M239.2 63.7h0M251.6 67.3h0M236.6 60.9h0M236.5 67.5h0M253.4 57.5h0M261.5 69.5h0M252.3 65.0h0M238.4 57.2h0M248.8 57.8h0M239.3 60.1h0M234.8 63.0h0M246.3 68.0h0M248.5 65.3h0M248.0 65.6h0M246.8 60.6h0M261.9 69.9h0M257.5 66.2h0M242.8 60.0h0M242.1 57.9h0M255.5 62.2h0M257.7 62.0h0M260.8 68.0h0M234.0 59.7h0M259.5 63.1h0M261.5 62.2h0M236.0 65.2h0M255.8 60.5h0M236.4 61.3h0M261.0 66.9h0M237.3 60.2h0M236.8 57.8h0M256.3 59.3h0M249.7 62.8h0M239.3 66.5h0M237.7 65.4h0M237.3 62.5h0M240.0 60.5h0M261.2 67.4h0M242.5 68.5h0M239.9 62.1h0M257.9 65.3h0M236.8 69.9h0M240.0 60.4h0M255.6 61.3h0M242.3 58.0h0M236.5 64.6h0M240.8 64.8h0M244.4 62.9h0M260.9 63.3h0M250.1 68.3h0M239.1 59.0h0M259.4 67.6h0M241.0 59.5h0M254.7 69.2h0M239.5 69.4h0M258.7 64.8h0M245.8 58.3h0M235.1 69.5h0M240.7 66.2h0M241.2 67.7h0M250.7 60.8h0M238.9 66.4h0M235.9 60.0h0M249.7 68.1h0M251.2 60.6h0M259.7 59.7h0M234.5 60.5h0" stroke="#c8c8c8" stroke-width="0.90" stroke-linecap="round" fill="none" opacity="0.55"/><path d="M250.3 69.0h0M241.6 73.9h0M254.3 70.1h0M247.6 82.3h0M267.4 78.5h0M258.1 77.4h0M240.5 68.6h0M236.6 82.6h0M258.4 83.4h0M236.7 78.2h0M251.4 79.7h0M246.2 84.0h0M238.4 76.7h0M259.6 82.4h0M259.6 79.3h0M261.4 82.6h0M247.3 79.0h0M264.8 81.9h0M249.3 80.6h0M263.6 77.2h0M256.0 74.1h0M254.6 77.7h0M238.6 78.2h0M267.8 82.1h0M259.3 74.2h0M259.5 77.3h0M250.1 81.4h0M238.7 80.0h0M237.0 77.6h0M251.4 71.7h0" stroke="#c8c8c8" stroke-width="0.90" stroke-linecap="round" fill="none" opacity="0.55"/><path d="M247.0 82.0h0M246.1 85.4h0M242.6 78.1h0M243.0 83.4h0M242.0 79.4h0M249.1 83.3h0M244.4 85.1h0M243.3 83.3h0M242.0 81.4h0M248.1 85.3h0M248.8 81.1h0M245.8 80.5h0M241.4 82.0h0M248.4 84.8h0M247.1 85.6h0" stroke="#c8c8c8" stroke-width="0.90" stroke-linecap="round" fill="none" opacity="0.55"/><path d="M265.9 89.8h0M268.3 93.4h0M265.0 98.1h0M270.8 100.8h0M266.4 112.5h0M275.7 99.4h0M263.0 85.1h0M274.2 85.4h0M271.9 103.4h0M266.3 110.9h0M262.3 88.6h0M268.4 84.8h0M273.6 92.1h0M264.0 85.6h0M270.8 99.2h0M270.8 106.3h0M273.3 116.6h0M271.6 90.8h0M268.7 90.1h0M262.2 100.1h0M272.0 90.1h0M265.8 95.8h0M271.8 101.7h0M270.6 109.7h0M267.5 110.9h0M274.7 87.0h0M275.1 108.6h0M263.8 99.4h0M270.8 114.9h0M267.3 103.3h0M274.3 111.1h0M275.2 99.8h0M271.1 91.0h0M272.1 111.8h0M271.0 108.4h0M265.0 114.6h0M275.7 117.2h0M269.5 110.9h0M266.5 114.9h0M274.0 95.8h0M263.2 99.0h0M269.7 110.1h0M268.8 85.0h0M273.3 86.2h0M273.2 89.9h0M266.7 110.8h0M264.0 89.1h0M269.2 108.6h0M273.8 107.4h0M275.2 100.7h0" stroke="#c8c8c8" stroke-width="0.90" stroke-linecap="round" fill="none" opacity="0.55"/><path d="M261.2 131.9h0M249.5 141.6h0M250.6 146.0h0M256.2 141.5h0M259.5 142.3h0M251.0 138.4h0M259.5 149.8h0M249.3 148.7h0M261.5 141.5h0M255.2 134.4h0M254.6 141.1h0M255.7 130.6h0M261.5 141.4h0M252.4 147.6h0M255.0 140.8h0M257.1 131.4h0M254.6 139.1h0M261.3 150.3h0M250.3 140.4h0M248.0 139.5h0M259.1 149.8h0M253.6 137.0h0M249.1 143.6h0M260.8 132.8h0M258.5 130.5h0M249.1 135.0h0M257.0 137.1h0M251.7 143.6h0M247.7 146.1h0M248.0 141.2h0M250.0 134.4h0M254.5 139.6h0M252.0 139.1h0M254.5 133.5h0M249.3 143.9h0M256.2 141.7h0M259.6 143.5h0M259.7 135.1h0M257.9 147.8h0M260.4 136.9h0" stroke="#c8c8c8" stroke-width="0.90" stroke-linecap="round" fill="none" opacity="0.55"/><path d="M184.4 89.1h0M183.1 90.0h0M192.4 79.6h0M183.4 86.7h0M183.6 79.2h0M191.7 83.1h0M191.1 79.5h0M185.6 86.2h0M180.2 80.4h0M189.6 88.9h0M193.6 79.4h0M187.1 87.1h0M187.0 86.2h0M182.6 78.8h0M181.5 78.4h0M187.7 84.2h0M188.0 79.8h0M182.6 80.4h0M191.8 89.9h0M193.0 79.1h0M180.9 89.4h0M186.5 87.2h0M184.6 83.6h0M187.2 83.2h0M188.4 78.2h0M189.8 88.1h0M182.5 83.4h0M190.4 82.9h0M182.7 80.0h0M187.2 78.2h0" stroke="#c8c8c8" stroke-width="0.90" stroke-linecap="round" fill="none" opacity="0.55"/><path d="M283.4 117.6h0M280.6 118.9h0M279.4 108.9h0M279.0 111.1h0M284.7 117.7h0M273.9 120.0h0M281.2 117.1h0M282.2 108.9h0M283.4 119.4h0M280.4 116.9h0M281.5 108.9h0M280.8 101.6h0M275.1 110.3h0M270.2 107.8h0M279.6 113.7h0M273.5 120.8h0M280.0 107.4h0M279.9 112.5h0M278.0 108.6h0M285.0 114.1h0M280.5 116.8h0M284.7 100.5h0M279.2 116.3h0M273.8 108.8h0M270.8 104.3h0" stroke="#c8c8c8" stroke-width="0.90" stroke-linecap="round" fill="none" opacity="0.55"/><path d="M194.1 140.0h0M192.8 148.1h0M196.1 144.1h0M200.6 144.7h0M200.9 145.4h0M198.9 139.8h0M196.6 146.6h0M190.5 148.3h0M191.8 143.7h0M191.9 144.0h0M196.7 139.6h0M200.4 143.2h0M195.8 145.0h0M194.0 141.9h0M197.2 144.6h0M193.1 146.2h0M193.3 139.1h0M192.7 139.4h0M191.7 146.5h0M194.3 148.0h0M198.2 139.5h0M200.9 148.4h0M190.8 148.1h0M194.7 143.8h0M200.7 141.4h0M195.8 148.4h0M198.0 143.7h0M200.8 147.2h0M196.6 140.2h0M196.9 143.6h0M192.2 139.5h0M195.8 140.2h0M194.9 145.7h0M195.0 141.6h0M196.4 143.2h0M198.6 144.3h0M201.0 148.5h0M198.1 141.4h0M191.3 147.9h0M198.6 145.2h0M194.0 141.7h0M197.5 144.6h0M196.5 145.3h0M198.3 140.9h0M192.7 148.8h0" stroke="#c8c8c8" stroke-width="0.90" stroke-linecap="round" fill="none" opacity="0.55"/><path d="M149.3,50.8 C149.73,50.3 150.95,49.57 151.6,49.8 C152.25,50.03 152.47,51.23 153.2,52.2 C153.93,53.17 154.95,54.43 156,55.6 C157.05,56.77 159.1,58.5 159.5,59.2 C159.9,59.9 159.25,60.07 158.4,59.8 C157.55,59.53 155.7,58.37 154.4,57.6 C153.1,56.83 151.5,56 150.6,55.2 C149.7,54.4 149.22,53.53 149,52.8 C148.78,52.07 148.87,51.3 149.3,50.8 Z" fill="#c8c8c8"/><path d="M185.3,37.2 C185.53,36.9 186.12,36.2 186.8,36.6 C187.48,37 188.53,38.5 189.4,39.6 C190.27,40.7 191.73,42.53 192,43.2 C192.27,43.87 191.77,44.03 191,43.6 C190.23,43.17 188.33,41.47 187.4,40.6 C186.47,39.73 185.75,38.97 185.4,38.4 C185.05,37.83 185.07,37.5 185.3,37.2 Z" fill="#c8c8c8"/><path d="M203.4,60.4 C203.82,60.23 204.7,61.03 204.9,62 C205.1,62.97 204.98,64.77 204.6,66.2 C204.22,67.63 203.43,69.37 202.6,70.6 C201.77,71.83 200.53,72.77 199.6,73.6 C198.67,74.43 197.6,75.38 197,75.6 C196.4,75.82 195.73,75.53 196,74.9 C196.27,74.27 197.77,73.03 198.6,71.8 C199.43,70.57 200.37,68.97 201,67.5 C201.63,66.03 202,64.18 202.4,63 C202.8,61.82 202.98,60.57 203.4,60.4 Z" fill="#c8c8c8"/><path d="M186,80.5 C186.88,79.63 189.25,79.48 189.8,79.8 C190.35,80.12 188.87,81.35 189.3,82.4 C189.73,83.45 191.7,84.78 192.4,86.1 C193.1,87.42 194.02,89.68 193.5,90.3 C192.98,90.92 190.72,89.98 189.3,89.8 C187.88,89.62 185.8,90 185,89.2 C184.2,88.4 184.33,86.45 184.5,85 C184.67,83.55 185.12,81.37 186,80.5 Z" fill="#dcdcdc"/><path d="M166.4,77.7 C166.22,76.47 166.12,75.73 166.6,74.5 C167.08,73.27 168.07,71.38 169.3,70.3 C170.53,69.22 172.6,68.35 174,68 C175.4,67.65 176.47,67.82 177.7,68.2 C178.93,68.58 180.18,69.33 181.4,70.3 C182.62,71.27 183.78,72.98 185,74 C186.22,75.02 187.28,75.88 188.7,76.4 C190.12,76.92 192.2,77.23 193.5,77.1 C194.8,76.97 196.42,75.37 196.5,75.6 C196.58,75.83 195.12,77.73 194,78.5 C192.88,79.27 191.05,79.45 189.8,80.2 C188.55,80.95 187.22,81.78 186.5,83 C185.78,84.22 186.58,86.7 185.5,87.5 C184.42,88.3 181.48,87.58 180,87.8 C178.52,88.02 177.68,88.3 176.6,88.8 C175.52,89.3 174.37,90.55 173.5,90.8 C172.63,91.05 172.02,91 171.4,90.3 C170.78,89.6 170.42,88 169.8,86.6 C169.18,85.2 168.27,83.38 167.7,81.9 C167.13,80.42 166.58,78.93 166.4,77.7 Z" fill="#c8c8c8"/><path d="M231.6,52.5 C231.9,51.18 232.42,49.25 233.8,48.1 C235.18,46.95 238.05,45.58 239.9,45.6 C241.75,45.62 243.47,47.1 244.9,48.2 C246.33,49.3 247.27,50.97 248.5,52.2 C249.73,53.43 250.67,54.7 252.3,55.6 C253.93,56.5 255.98,57.3 258.3,57.6 C260.62,57.9 263.87,57.2 266.2,57.4 C268.53,57.6 270.93,57.87 272.3,58.8 C273.67,59.73 273.82,61.53 274.4,63 C274.98,64.47 276,66.4 275.8,67.6 C275.6,68.8 274.67,69.62 273.2,70.2 C271.73,70.78 268.75,71.1 267,71.1 C265.25,71.1 264.28,70.82 262.7,70.2 C261.12,69.58 259.37,68.45 257.5,67.4 C255.63,66.35 253.33,64.93 251.5,63.9 C249.67,62.87 248.28,62.08 246.5,61.2 C244.72,60.32 242.78,59.08 240.8,58.6 C238.82,58.12 236.07,58.73 234.6,58.3 C233.13,57.87 232.5,56.97 232,56 C231.5,55.03 231.3,53.82 231.6,52.5 Z" fill="#c8c8c8"/><path d="M231.6,52.5 C231.9,51.18 232.42,49.25 233.8,48.1 C235.18,46.95 238.05,45.58 239.9,45.6 C241.75,45.62 243.47,47.1 244.9,48.2 C246.33,49.3 247.27,50.97 248.5,52.2 C249.73,53.43 251.47,54.3 252.3,55.6 C253.13,56.9 253.55,58.6 253.5,60 C253.45,61.4 253.17,63.8 252,64 C250.83,64.2 248.37,62.1 246.5,61.2 C244.63,60.3 242.78,59.08 240.8,58.6 C238.82,58.12 236.07,58.73 234.6,58.3 C233.13,57.87 232.5,56.97 232,56 C231.5,55.03 231.3,53.82 231.6,52.5 Z" fill="#c8c8c8"/><path d="M221.6,87.5 C221.77,86.42 222.52,85 223.5,84 C224.48,83 226,82.13 227.5,81.5 C229,80.87 230.92,80.53 232.5,80.2 C234.08,79.87 235.65,79.67 237,79.5 C238.35,79.33 240.07,78.87 240.6,79.2 C241.13,79.53 240.55,80.53 240.2,81.5 C239.85,82.47 239.37,83.78 238.5,85 C237.63,86.22 236.42,87.73 235,88.8 C233.58,89.87 231.58,90.87 230,91.4 C228.42,91.93 226.75,92.15 225.5,92 C224.25,91.85 223.15,91.25 222.5,90.5 C221.85,89.75 221.43,88.58 221.6,87.5 Z" fill="#c8c8c8"/><path d="M262.5,122.2 C263.5,121.9 263.82,122.6 263.4,123.4 C262.98,124.2 260.82,125.9 260,127 C259.18,128.1 258.8,128.67 258.5,130 C258.2,131.33 258.18,133.33 258.2,135 C258.22,136.67 258.7,138.33 258.6,140 C258.5,141.67 258.37,143.57 257.6,145 C256.83,146.43 255.33,147.5 254,148.6 C252.67,149.7 250.67,150.37 249.6,151.6 C248.53,152.83 248.07,154.67 247.6,156 C247.13,157.33 247.27,158.97 246.8,159.6 C246.33,160.23 245.23,160.57 244.8,159.8 C244.37,159.03 244.5,156.63 244.2,155 C243.9,153.37 243.27,151.5 243,150 C242.73,148.5 242.5,147.5 242.6,146 C242.7,144.5 243.1,142.67 243.6,141 C244.1,139.33 244.77,137.57 245.6,136 C246.43,134.43 247.43,132.9 248.6,131.6 C249.77,130.3 251.13,129.27 252.6,128.2 C254.07,127.13 255.75,126.2 257.4,125.2 C259.05,124.2 261.5,122.5 262.5,122.2 Z" fill="#c8c8c8"/><path d="M262.6,103.6 C263.87,102.83 266.07,100.28 267.6,100.6 C269.13,100.92 271.13,103.68 271.8,105.5 C272.47,107.32 272.1,110.05 271.6,111.5 C271.1,112.95 269.43,113.12 268.8,114.2 C268.17,115.28 268.13,116.8 267.8,118 C267.47,119.2 267.57,120.7 266.8,121.4 C266.03,122.1 263.7,123.1 263.2,122.2 C262.7,121.3 263.83,117.73 263.8,116 C263.77,114.27 263.97,112.73 263,111.8 C262.03,110.87 259.75,110.77 258,110.4 C256.25,110.03 253.67,110.07 252.5,109.6 C251.33,109.13 250.5,108.17 251,107.6 C251.5,107.03 254,106.6 255.5,106.2 C257,105.8 258.82,105.63 260,105.2 C261.18,104.77 261.33,104.37 262.6,103.6 Z" fill="#c8c8c8"/><path d="M281.2,115.4 C282,115.03 284.28,114.52 286,114.1 C287.72,113.68 290.08,113 291.5,112.9 C292.92,112.8 293.42,113.12 294.5,113.5 C295.58,113.88 296.25,114.6 298,115.2 C299.75,115.8 303.83,116.62 305,117.1 C306.17,117.58 306.17,118.13 305,118.1 C303.83,118.07 300.08,117.22 298,116.9 C295.92,116.58 294.5,116.28 292.5,116.2 C290.5,116.12 287.88,116.38 286,116.4 C284.12,116.42 282,116.47 281.2,116.3 C280.4,116.13 280.4,115.77 281.2,115.4 Z" fill="#c8c8c8"/><path d="M191,137.5 C192.07,136.33 194.17,137.5 196,137.5 C197.83,137.5 200.67,136.58 202,137.5 C203.33,138.42 203.67,140.92 204,143 C204.33,145.08 205.33,148.67 204,150 C202.67,151.33 198.33,150.92 196,151 C193.67,151.08 191.07,151.58 190,150.5 C188.93,149.42 189.43,146.67 189.6,144.5 C189.77,142.33 189.93,138.67 191,137.5 Z" fill="#dcdcdc"/><path d="M192,131.2 C192.8,130.62 194.75,130.4 196,130 C197.25,129.6 198.4,129 199.5,128.8 C200.6,128.6 201.82,128.35 202.6,128.8 C203.38,129.25 203.97,130.22 204.2,131.5 C204.43,132.78 204.62,135.38 204,136.5 C203.38,137.62 201.83,138.02 200.5,138.2 C199.17,138.38 197.25,137.37 196,137.6 C194.75,137.83 193.8,139.62 193,139.6 C192.2,139.58 191.5,138.52 191.2,137.5 C190.9,136.48 191.07,134.55 191.2,133.5 C191.33,132.45 191.2,131.78 192,131.2 Z" fill="#c8c8c8"/><path d="M201.6,135.5 C202.03,134.08 203.63,133.58 204.2,134.5 C204.77,135.42 204.8,138.58 205,141 C205.2,143.42 205.8,147.63 205.4,149 C205,150.37 203.23,150.2 202.6,149.2 C201.97,148.2 201.77,145.28 201.6,143 C201.43,140.72 201.17,136.92 201.6,135.5 Z" fill="#c8c8c8"/><path d="M189.2,150.6 C189.7,150.07 191.53,149.3 193,149.2 C194.47,149.1 196.33,150.07 198,150 C199.67,149.93 201.5,148.9 203,148.8 C204.5,148.7 206.57,148.87 207,149.4 C207.43,149.93 206.47,151.13 205.6,152 C204.73,152.87 202.83,153.9 201.8,154.6 C200.77,155.3 200.28,156.1 199.4,156.2 C198.52,156.3 197.48,155.67 196.5,155.2 C195.52,154.73 194.58,153.87 193.5,153.4 C192.42,152.93 190.72,152.87 190,152.4 C189.28,151.93 188.7,151.13 189.2,150.6 Z" fill="#c8c8c8"/><path d="M249.2,85.6 C250,85.77 252.27,86.77 254,86.6 C255.73,86.43 258.67,84.93 259.6,84.6" fill="none" stroke="#c8c8c8" stroke-width="2.0" stroke-linecap="round" stroke-linejoin="round"/><path d="M257.5,86.5 C258.33,87.17 260.82,88.75 262.5,90.5 C264.18,92.25 266.32,94.83 267.6,97 C268.88,99.17 269.77,102.42 270.2,103.5" fill="none" stroke="#c8c8c8" stroke-width="3.0" stroke-linecap="round" stroke-linejoin="round"/><path d="M249.5,86.8 C250.33,87.37 252.98,88.9 254.5,90.2 C256.02,91.5 257.92,93.87 258.6,94.6" fill="none" stroke="#c8c8c8" stroke-width="1.8" stroke-linecap="round" stroke-linejoin="round"/><ellipse cx="275" cy="67.4" rx="1.9" ry="2.3" fill="#c8c8c8"/><ellipse cx="307.4" cy="119.6" rx="2.3" ry="2.8" fill="#c8c8c8"/><ellipse cx="208.6" cy="25.8" rx="0.6" ry="0.6" fill="#c8c8c8"/><ellipse cx="224.7" cy="43.6" rx="0.7" ry="0.6" fill="#c8c8c8"/><ellipse cx="170.6" cy="122.9" rx="0.5" ry="0.5" fill="#c8c8c8"/><ellipse cx="197.6" cy="120.3" rx="0.5" ry="0.5" fill="#c8c8c8"/><ellipse cx="202.3" cy="58" rx="0.5" ry="0.9" fill="#c8c8c8"/><ellipse cx="191.4" cy="139.6" rx="1.6" ry="1.2" fill="#c8c8c8"/><ellipse cx="267.6" cy="87.4" rx="0.5" ry="1.2" fill="#c8c8c8"/></g></g>
<path d="M135.4,456.4 L136.0,456.6 L135.8,461.4 L135.0,461.5 Z" fill="#e0232b"/>
<path d="M278.8,455.0 L279.7,455.3 L279.4,462.0 L278.2,462.2 Z" fill="#e0232b"/>
<circle cx="276.9" cy="466.3" r="0.6" fill="#e0232b"/>
<circle cx="277.9" cy="474.5" r="0.6" fill="#e0232b"/>
<circle cx="265.7" cy="481.0" r="0.6" fill="#e0232b"/>
<circle cx="275.0" cy="486.5" r="0.6" fill="#e0232b"/>
<circle cx="277.5" cy="448.5" r="0.6" fill="#e0232b"/>
<circle cx="278.9" cy="472.3" r="0.6" fill="#e0232b"/>
<circle cx="279.5" cy="477.4" r="0.6" fill="#e0232b"/>
<circle cx="274.4" cy="480.4" r="0.6" fill="#e0232b"/>
<circle cx="277.0" cy="457.5" r="0.6" fill="#e0232b"/>
<circle cx="135.6" cy="478.6" r="0.5" fill="#e0232b"/>
<circle cx="134.8" cy="450.0" r="0.5" fill="#e0232b"/>
<line x1="390.5" y1="399" x2="390.5" y2="533" stroke="#9a9a9a" stroke-width="0.8" />
<line x1="390.5" y1="533" x2="446.2" y2="533" stroke="#9a9a9a" stroke-width="0.8" />
<line x1="388" y1="527.4" x2="390.5" y2="527.4" stroke="#9a9a9a" stroke-width="0.8" />
<text x="383.2" y="531" font-size="7.8" text-anchor="end" fill="#262626">0</text>
<line x1="388" y1="492.5" x2="390.5" y2="492.5" stroke="#9a9a9a" stroke-width="0.8" />
<text x="383.2" y="496.1" font-size="7.8" text-anchor="end" fill="#262626">1</text>
<line x1="388" y1="457.6" x2="390.5" y2="457.6" stroke="#9a9a9a" stroke-width="0.8" />
<text x="383.2" y="461.2" font-size="7.8" text-anchor="end" fill="#262626">2</text>
<line x1="388" y1="422.7" x2="390.5" y2="422.7" stroke="#9a9a9a" stroke-width="0.8" />
<text x="383.2" y="426.3" font-size="7.8" text-anchor="end" fill="#262626">3</text>
<line x1="398.4" y1="533" x2="398.4" y2="535.4" stroke="#9a9a9a" stroke-width="0.8" />
<line x1="411.5" y1="533" x2="411.5" y2="535.4" stroke="#9a9a9a" stroke-width="0.8" />
<line x1="424.8" y1="533" x2="424.8" y2="535.4" stroke="#9a9a9a" stroke-width="0.8" />
<line x1="438.2" y1="533" x2="438.2" y2="535.4" stroke="#9a9a9a" stroke-width="0.8" />
<text x="418.2" y="394.6" font-size="8.8" text-anchor="middle">CD38</text>
<text x="369.3" y="466.3" font-size="8.8" text-anchor="middle" transform="rotate(-90 369.3 466.3)" textLength="64" lengthAdjust="spacingAndGlyphs">Expression level</text>
<path d="M398.8 475.6h0M392.8 527.3h0M397.5 527.7h0M399.9 471.0h0M395.9 419.3h0M402.2 527.1h0M396.9 463.1h0M400.6 453.7h0M401.9 504.0h0M398.7 498.2h0M397.4 499.7h0M392.9 446.4h0M400.7 517.8h0M402.5 503.7h0M400.2 492.4h0M397.0 493.9h0M394.4 527.0h0M394.0 527.1h0M399.0 484.9h0M395.7 493.6h0M394.5 459.2h0M399.5 515.0h0M396.8 527.5h0M400.5 495.5h0M402.9 506.9h0M393.1 494.5h0M396.5 484.2h0M393.6 527.3h0M399.8 527.0h0M402.6 498.1h0M393.4 476.4h0M392.7 492.2h0M398.9 459.2h0M395.5 457.8h0M398.8 493.5h0M402.6 484.5h0M395.1 460.7h0M395.5 485.5h0M403.6 488.8h0M394.8 496.0h0M402.5 480.7h0M403.3 487.3h0M394.5 495.6h0M397.2 476.3h0M393.9 527.1h0M404.2 486.1h0M394.0 496.8h0M397.6 500.7h0M395.4 504.3h0M394.0 499.8h0M399.4 495.7h0M398.7 472.4h0M392.4 498.5h0M396.3 513.9h0M393.7 484.9h0M399.1 493.8h0M399.8 462.4h0M398.1 495.5h0M403.7 504.9h0M393.9 460.8h0M393.3 527.6h0M394.3 499.7h0M395.0 469.2h0M404.3 463.9h0M394.7 506.0h0M397.7 435.1h0M404.2 502.7h0M395.6 501.8h0M403.3 490.4h0M403.4 480.9h0M397.5 484.0h0M402.0 485.7h0M396.5 460.5h0M394.0 476.3h0M396.1 453.8h0M398.4 482.8h0M399.0 425.9h0M393.7 488.0h0M398.5 519.0h0M402.4 488.3h0M393.2 458.0h0M393.4 481.2h0M395.9 495.1h0M395.6 500.7h0M396.1 500.1h0M398.1 527.4h0M392.5 492.2h0M392.9 526.9h0M401.4 486.9h0M397.1 468.1h0M392.9 474.5h0M401.2 469.0h0M402.1 507.7h0M400.6 492.0h0M393.7 481.1h0M399.9 487.6h0M398.4 461.0h0M401.2 488.2h0M401.2 527.1h0M398.1 471.1h0M400.1 491.4h0M399.2 489.2h0M400.5 527.6h0M398.6 463.1h0M404.1 465.0h0M402.2 527.9h0M394.9 466.9h0M403.8 496.2h0M403.0 493.5h0M398.3 464.3h0M396.5 499.7h0M393.8 463.3h0M395.9 488.6h0M397.5 467.8h0M402.4 527.2h0M395.6 489.2h0M402.1 516.6h0M399.0 461.2h0M397.8 527.7h0M393.9 490.1h0M401.3 484.6h0M397.1 496.1h0M403.3 500.0h0M394.1 444.8h0M393.5 527.1h0M403.0 518.6h0M396.5 505.0h0M393.9 479.2h0M395.4 481.8h0M402.6 497.7h0M403.1 427.4h0M402.3 473.7h0M393.7 488.6h0M400.2 504.8h0M392.9 523.4h0M393.9 468.9h0M393.7 499.5h0M399.6 502.0h0M403.9 496.9h0M403.9 500.6h0M400.5 438.4h0M392.8 506.6h0M394.8 520.4h0M396.1 500.0h0M401.5 489.1h0M397.4 499.3h0M397.1 488.5h0M397.1 486.2h0M404.4 485.5h0M392.8 474.7h0M396.4 454.8h0M396.6 527.9h0M402.3 478.9h0M396.9 440.2h0M402.1 443.3h0M403.4 461.1h0M396.5 463.6h0M396.2 497.9h0M403.4 527.5h0M398.1 452.8h0M398.3 498.5h0M401.3 481.5h0M396.7 500.2h0M401.4 527.1h0M396.3 436.1h0M395.6 497.3h0M400.9 527.3h0M401.4 508.3h0M402.5 477.9h0M395.4 506.7h0M399.3 470.4h0M402.1 470.5h0M398.1 490.2h0M393.8 484.8h0M403.6 491.2h0M403.7 500.2h0M395.0 485.0h0M400.2 485.3h0M400.5 527.1h0M401.9 477.5h0M397.1 527.5h0M397.3 480.9h0M396.1 484.0h0M396.8 515.9h0M392.5 473.7h0M397.9 481.8h0M400.1 527.8h0M396.9 527.4h0M398.7 503.9h0M402.1 527.9h0M398.2 462.3h0M403.3 462.3h0M397.3 474.6h0M395.0 465.6h0M401.1 495.4h0M401.5 526.9h0M399.6 483.7h0M397.5 494.8h0M392.7 473.7h0M397.9 486.2h0M393.9 462.4h0M398.5 526.9h0M398.5 466.4h0M403.8 476.0h0M394.7 464.0h0M403.4 489.3h0M401.5 483.4h0M402.2 491.1h0M398.5 479.4h0M394.3 527.8h0M394.4 494.5h0M400.0 527.3h0M393.7 509.0h0M402.0 495.8h0M397.7 501.8h0M395.4 421.8h0M392.4 508.4h0M397.6 500.9h0M392.7 480.9h0M396.7 480.4h0M398.1 497.6h0M394.2 494.2h0M395.6 469.6h0M396.6 509.0h0M403.2 465.0h0M395.3 498.4h0M394.1 468.9h0M400.1 487.8h0M401.8 418.2h0M401.3 527.4h0M395.1 476.3h0M400.7 475.6h0M399.0 485.5h0M404.0 500.9h0M395.2 451.2h0M396.3 489.1h0M400.7 503.1h0M402.7 518.4h0M396.1 483.0h0M392.7 458.1h0M394.1 472.3h0M400.0 527.6h0M402.2 470.1h0M402.8 481.0h0M392.8 481.0h0M402.3 482.5h0M394.9 483.1h0M395.8 451.4h0M402.6 506.6h0M397.6 527.7h0M398.9 452.2h0M392.4 464.3h0M392.5 473.3h0M396.6 486.4h0M395.8 498.3h0M393.4 496.9h0M399.9 488.8h0M403.1 514.6h0M403.2 468.7h0M398.8 480.7h0M409.7 496.5h0M407.5 476.2h0M407.0 508.3h0M413.9 488.6h0M408.5 478.6h0M417.2 481.8h0M406.7 527.3h0M414.3 477.1h0M410.2 493.4h0M413.8 494.7h0M410.4 497.7h0M412.4 487.3h0M414.8 485.8h0M413.2 464.1h0M414.9 494.2h0M410.6 494.1h0M407.7 509.0h0M411.4 476.8h0M407.4 527.7h0M412.0 496.4h0M415.4 489.9h0M410.2 479.1h0M409.8 492.0h0M410.5 491.3h0M408.2 487.7h0M410.2 499.6h0M415.2 491.0h0M409.7 499.5h0M411.1 493.1h0M415.7 467.8h0M410.6 467.6h0M408.9 527.1h0M413.4 505.3h0M406.2 487.2h0M413.1 486.7h0M413.4 527.2h0M408.3 527.7h0M416.3 497.7h0M413.5 472.7h0M407.9 502.8h0M412.2 489.6h0M411.4 505.4h0M412.0 478.1h0M411.1 527.5h0M410.0 474.5h0M405.8 469.2h0M409.5 479.3h0M413.0 426.8h0M411.2 485.8h0M412.1 485.2h0M410.3 472.7h0M415.0 527.2h0M412.5 490.9h0M412.0 464.2h0M416.6 454.7h0M412.9 480.8h0M413.7 522.1h0M407.7 514.3h0M413.4 481.9h0M409.1 484.3h0M413.2 509.1h0M406.0 527.0h0M405.7 520.2h0M417.3 505.0h0M407.3 470.4h0M407.0 527.9h0M407.0 526.9h0M414.3 475.2h0M414.1 527.8h0M411.0 470.4h0M414.1 477.4h0M415.3 527.0h0M411.3 489.8h0M410.8 498.6h0M413.1 484.6h0M416.8 503.6h0M413.9 490.8h0M417.2 484.0h0M410.0 495.2h0M415.2 473.3h0M410.6 527.5h0M415.2 485.9h0M415.7 492.3h0M412.1 476.9h0M416.7 496.2h0M408.6 497.0h0M406.6 505.1h0M416.1 486.8h0M407.8 468.1h0M410.3 493.5h0M410.0 412.0h0M409.6 486.9h0M415.9 412.7h0M414.9 497.8h0M408.5 485.4h0M406.5 517.4h0M416.4 476.6h0M406.9 502.1h0M413.5 509.6h0M417.1 498.4h0M416.3 477.7h0M414.0 423.6h0M416.8 480.9h0M414.6 485.6h0M407.5 489.1h0M405.7 481.1h0M416.7 454.3h0M410.9 480.5h0M409.6 477.2h0M407.2 507.2h0M412.1 527.0h0M408.8 491.0h0M411.4 472.7h0M413.5 417.4h0M408.6 460.1h0M406.7 433.3h0M409.0 427.0h0M409.6 527.0h0M411.8 527.1h0M407.2 479.3h0M407.9 494.4h0M411.4 527.2h0M412.5 507.5h0M410.4 527.6h0M409.5 527.7h0M405.7 505.4h0M415.5 480.3h0M412.6 497.4h0M414.1 507.1h0M414.0 482.6h0M411.4 459.5h0M405.7 477.5h0M415.3 485.5h0M407.8 526.9h0M411.8 482.6h0M414.1 526.9h0M407.0 507.4h0M415.8 487.9h0M416.8 489.1h0M411.8 498.3h0M409.5 486.5h0M416.5 503.4h0M416.7 470.9h0M409.9 482.8h0M411.6 526.9h0M413.1 462.6h0M405.9 494.3h0M416.6 494.6h0M410.7 500.8h0M412.6 497.2h0M411.1 467.7h0M410.4 482.9h0M412.1 483.5h0M414.0 509.6h0M411.1 498.5h0M412.5 485.2h0M408.4 470.5h0M414.8 498.8h0M410.8 527.0h0M414.3 443.2h0M409.5 464.0h0M415.7 495.8h0M411.2 491.1h0M407.0 515.2h0M412.5 527.4h0M416.0 503.8h0M411.0 496.4h0M409.4 504.8h0M410.8 476.0h0M406.6 476.8h0M415.6 473.2h0M412.3 462.1h0M412.0 474.1h0M409.8 512.8h0M413.6 491.6h0M410.3 527.5h0M410.8 459.6h0M411.9 517.1h0M411.7 506.7h0M415.3 449.9h0M411.6 497.1h0M413.1 484.7h0M415.0 442.8h0M415.6 448.7h0M408.7 483.1h0M412.4 471.5h0M406.7 474.0h0M412.9 467.2h0M409.4 424.5h0M416.3 483.1h0M410.1 477.7h0M412.9 523.3h0M415.8 527.2h0M409.1 508.9h0M410.2 527.6h0M416.0 487.9h0M407.7 489.1h0M406.9 479.4h0M415.4 493.6h0M408.9 485.4h0M409.6 527.1h0M407.0 478.6h0M407.4 482.0h0M416.9 517.4h0M407.1 461.5h0M408.5 472.2h0M407.0 501.3h0M413.4 492.5h0M406.5 461.9h0M412.2 498.9h0M406.3 467.9h0M410.3 471.9h0M415.8 470.9h0M409.7 465.6h0M408.5 485.0h0M416.5 496.1h0M407.4 462.2h0M413.2 491.9h0M414.1 485.7h0M414.8 420.7h0M412.8 526.9h0M415.0 502.1h0M410.2 489.3h0M406.6 496.1h0M415.5 467.3h0M410.6 428.0h0M415.2 427.6h0M413.2 469.9h0M407.9 475.1h0M413.5 483.4h0M409.7 505.8h0M412.3 490.5h0M413.5 514.5h0M415.5 496.6h0M408.9 495.5h0M406.9 480.6h0M405.6 495.7h0M414.1 482.3h0M407.8 474.9h0M413.2 527.5h0M408.5 477.3h0M409.1 462.0h0M416.6 484.0h0M407.7 476.8h0M412.1 511.5h0M413.0 489.0h0M416.8 484.5h0M406.5 481.9h0M417.1 477.5h0M407.8 527.6h0M415.8 527.7h0M410.6 493.6h0M415.4 466.8h0M409.7 493.5h0M411.0 527.9h0M417.2 473.2h0M412.8 486.7h0M411.3 494.3h0M413.6 454.6h0M410.0 527.5h0M425.6 461.7h0M429.5 527.4h0M421.8 527.0h0M421.5 489.3h0M425.9 527.0h0M424.1 471.2h0M430.7 495.1h0M423.5 527.1h0M428.1 514.4h0M419.0 478.3h0M427.3 484.9h0M429.8 512.4h0M422.9 511.2h0M427.6 485.8h0M420.0 433.0h0M421.9 461.6h0M425.8 465.3h0M428.4 527.1h0M420.5 495.3h0M428.5 466.3h0M420.6 527.4h0M428.6 487.9h0M420.7 493.4h0M422.8 473.7h0M419.3 504.1h0M423.0 508.7h0M419.0 484.8h0M422.1 480.3h0M425.6 486.6h0M428.1 485.2h0M426.4 489.1h0M427.0 479.9h0M424.9 519.8h0M422.8 504.1h0M423.2 493.8h0M424.2 418.9h0M420.8 481.7h0M430.0 497.9h0M419.8 465.1h0M423.9 474.7h0M429.6 527.2h0M422.0 456.2h0M429.2 497.6h0M430.4 482.9h0M429.3 527.2h0M426.5 482.1h0M427.8 471.1h0M419.3 443.0h0M426.0 501.6h0M430.7 452.9h0M422.7 485.6h0M428.6 472.2h0M425.5 468.2h0M427.3 501.8h0M428.1 466.9h0M420.4 491.9h0M428.1 470.1h0M419.1 485.0h0M425.5 527.1h0M420.6 462.5h0M421.7 424.3h0M422.9 493.7h0M427.6 503.8h0M429.2 458.2h0M426.3 518.5h0M424.0 469.9h0M430.7 487.4h0M429.2 511.9h0M422.8 488.7h0M427.0 518.3h0M429.4 517.4h0M421.0 504.9h0M430.5 489.5h0M427.6 485.3h0M429.8 492.0h0M419.2 495.0h0M421.6 490.6h0M422.6 413.1h0M420.4 493.0h0M424.8 492.1h0M429.8 497.0h0M422.1 456.8h0M419.3 495.6h0M426.6 428.6h0M430.6 494.6h0M430.5 500.0h0M420.5 481.4h0M429.9 527.2h0M420.2 497.7h0M419.4 481.1h0M430.5 500.5h0M424.9 504.9h0M423.3 487.1h0M426.2 467.2h0M426.2 502.3h0M427.5 503.3h0M425.1 487.5h0M421.7 480.1h0M429.5 511.1h0M428.8 527.7h0M421.8 483.1h0M419.9 482.6h0M424.2 507.0h0M423.2 488.5h0M422.9 497.8h0M425.6 527.0h0M421.7 491.8h0M429.1 527.1h0M426.2 501.2h0M423.2 527.6h0M423.0 507.9h0M421.1 477.1h0M419.6 505.4h0M424.8 472.7h0M424.3 468.6h0M429.5 485.6h0M427.7 518.1h0M425.4 527.7h0M421.4 490.8h0M425.6 483.1h0M424.6 484.5h0M428.6 507.5h0M425.0 478.3h0M421.9 491.3h0M423.8 476.5h0M421.9 469.8h0M423.3 527.4h0M423.2 510.3h0M425.2 448.0h0M422.1 499.0h0M424.3 496.4h0M419.5 516.4h0M426.0 458.9h0M428.4 479.5h0M428.9 494.6h0M420.0 500.3h0M421.9 473.9h0M419.5 494.1h0M422.3 527.1h0M429.7 497.3h0M428.4 471.2h0M421.5 474.0h0M427.5 527.3h0M428.7 485.5h0M422.3 451.7h0M430.0 489.5h0M419.9 474.7h0M428.9 504.7h0M422.9 468.7h0M424.2 446.9h0M419.6 477.1h0M428.3 527.5h0M420.0 437.9h0M426.8 501.6h0M422.8 496.2h0M429.3 497.5h0M420.2 487.9h0M421.2 507.1h0M421.7 493.5h0M424.7 487.2h0M421.6 491.0h0M425.0 489.2h0M425.7 484.8h0M421.7 483.9h0M427.1 432.5h0M418.9 483.0h0M419.9 505.0h0M420.5 492.6h0M430.5 497.6h0M429.7 507.5h0M426.3 487.0h0M420.7 468.6h0M420.4 475.6h0M428.4 467.6h0M428.2 504.0h0M420.2 470.7h0M428.9 493.4h0M429.7 500.3h0M428.2 486.3h0M419.8 461.8h0M425.9 499.9h0M428.5 458.7h0M422.8 488.2h0M419.9 476.6h0M426.7 507.4h0M421.0 490.7h0M421.5 493.6h0M430.3 476.7h0M428.8 498.4h0M424.3 479.6h0M420.0 489.0h0M429.5 504.4h0M424.1 527.9h0M426.4 490.2h0M423.2 504.7h0M427.0 527.5h0M429.5 519.9h0M430.2 475.8h0M425.7 485.5h0M427.9 489.2h0M430.5 511.7h0M427.3 496.0h0M425.7 503.1h0M429.3 493.6h0M422.5 481.5h0M421.0 519.2h0M422.7 461.4h0M423.5 527.3h0M424.2 490.5h0M422.6 478.1h0M427.8 508.5h0M425.2 485.1h0M425.6 421.2h0M421.7 461.7h0M428.5 488.1h0M430.4 512.8h0M427.7 486.4h0M423.0 504.2h0M429.6 507.3h0M423.8 492.8h0M425.7 499.0h0M428.9 506.6h0M429.6 488.8h0M429.3 507.1h0M419.6 495.3h0M421.4 509.4h0M430.5 527.7h0M422.7 490.4h0M422.1 494.3h0M420.1 421.0h0M422.8 498.7h0M428.5 486.1h0M419.1 527.4h0M426.4 499.6h0M421.5 504.6h0M430.3 477.8h0M424.2 473.1h0M422.9 480.9h0M425.0 491.0h0M421.2 478.7h0M430.2 502.2h0M419.6 527.1h0M427.5 527.5h0M430.7 494.6h0M423.1 527.8h0M420.0 481.2h0M429.7 486.3h0M420.3 506.1h0M419.1 500.2h0M430.6 489.5h0M420.4 510.0h0M423.3 469.4h0M425.2 417.6h0M429.4 506.1h0M423.4 485.4h0M421.2 477.7h0M419.6 505.3h0M423.6 527.6h0M426.6 507.8h0M419.6 467.1h0" stroke="#777" stroke-width="0.70" stroke-linecap="round" fill="none" opacity="0.35"/>
<path d="M398,527.4 C397.84,526.7 397.93,524.67 397.85,523.21 C397.77,521.76 397.69,519.9 397.5,518.67 C397.31,517.45 397.02,516.87 396.7,515.88 C396.38,514.89 395.58,513.73 395.6,512.74 C395.62,511.75 396.7,511 396.8,509.95 C396.9,508.9 396.57,507.74 396.2,506.46 C395.83,505.18 395.05,503.9 394.6,502.27 C394.15,500.64 393.77,498.61 393.5,496.69 C393.23,494.77 393.12,492.62 393,490.75 C392.88,488.89 392.73,487.26 392.8,485.52 C392.87,483.77 393.1,482.15 393.4,480.28 C393.7,478.42 394.18,476.39 394.6,474.35 C395.02,472.32 395.5,470.28 395.9,468.07 C396.3,465.86 396.72,463.42 397,461.09 C397.28,458.76 397.44,457.02 397.6,454.11 C397.76,451.2 397.87,447.71 397.95,443.64 C398.03,439.57 398.05,434.62 398.1,429.68 C398.14,424.74 398.14,416.59 398.22,413.97 C398.3,411.36 398.5,411.36 398.58,413.97 C398.66,416.59 398.65,424.74 398.7,429.68 C398.75,434.62 398.77,439.57 398.85,443.64 C398.93,447.71 399.04,451.2 399.2,454.11 C399.36,457.02 399.52,458.76 399.8,461.09 C400.08,463.42 400.5,465.86 400.9,468.07 C401.3,470.28 401.78,472.32 402.2,474.35 C402.62,476.39 403.1,478.42 403.4,480.28 C403.7,482.15 403.93,483.77 404,485.52 C404.07,487.26 403.92,488.89 403.8,490.75 C403.68,492.62 403.57,494.77 403.3,496.69 C403.03,498.61 402.65,500.64 402.2,502.27 C401.75,503.9 400.97,505.18 400.6,506.46 C400.23,507.74 399.9,508.9 400,509.95 C400.1,511 401.18,511.75 401.2,512.74 C401.22,513.73 400.42,514.89 400.1,515.88 C399.78,516.87 399.49,517.45 399.3,518.67 C399.11,519.9 399.03,521.76 398.95,523.21 C398.87,524.67 398.96,526.7 398.8,527.4 C398.64,528.1 398.16,528.1 398,527.4 Z" fill="#cf4f50"/>
<path d="M411.15,527.4 C410.99,526.53 411.04,524.2 410.9,522.16 C410.76,520.13 410.62,517.51 410.3,515.18 C409.98,512.86 409.5,510.53 409,508.2 C408.5,505.88 407.85,503.73 407.3,501.22 C406.75,498.72 405.92,495.7 405.7,493.2 C405.48,490.7 405.7,488.66 406,486.22 C406.3,483.77 407,480.98 407.5,478.54 C408,476.1 408.52,473.89 409,471.56 C409.48,469.23 410.04,466.62 410.4,464.58 C410.76,462.54 410.97,460.62 411.15,459.34 C411.32,458.07 411.38,457.31 411.45,456.9 C411.52,456.49 411.48,456.49 411.55,456.9 C411.62,457.31 411.68,458.07 411.85,459.34 C412.03,460.62 412.24,462.54 412.6,464.58 C412.96,466.62 413.52,469.23 414,471.56 C414.48,473.89 415,476.1 415.5,478.54 C416,480.98 416.7,483.77 417,486.22 C417.3,488.66 417.52,490.7 417.3,493.2 C417.08,495.7 416.25,498.72 415.7,501.22 C415.15,503.73 414.5,505.88 414,508.2 C413.5,510.53 413.02,512.86 412.7,515.18 C412.38,517.51 412.24,520.13 412.1,522.16 C411.96,524.2 412.01,526.53 411.85,527.4 C411.69,528.27 411.31,528.27 411.15,527.4 Z" fill="#5fab47"/>
<path d="M424.3,527.4 C424.11,526.53 424.25,523.91 424.15,522.16 C424.05,520.42 423.93,518.27 423.7,516.93 C423.47,515.59 423.05,515.01 422.8,514.14 C422.55,513.27 422.13,512.51 422.2,511.69 C422.27,510.88 423.17,510.24 423.2,509.25 C423.23,508.26 422.8,507.1 422.4,505.76 C422,504.42 421.28,503.14 420.8,501.22 C420.32,499.31 419.8,496.57 419.5,494.25 C419.2,491.92 418.95,489.59 419,487.26 C419.05,484.94 419.42,482.61 419.8,480.28 C420.18,477.96 420.77,475.92 421.3,473.3 C421.83,470.69 422.57,467.2 423,464.58 C423.43,461.96 423.68,460.51 423.9,457.6 C424.13,454.69 424.25,451.78 424.35,447.13 C424.45,442.48 424.45,436.08 424.5,429.68 C424.55,423.28 424.54,412.23 424.62,408.74 C424.7,405.25 424.9,405.25 424.98,408.74 C425.06,412.23 425.06,423.28 425.1,429.68 C425.15,436.08 425.15,442.48 425.25,447.13 C425.35,451.78 425.47,454.69 425.7,457.6 C425.93,460.51 426.17,461.96 426.6,464.58 C427.03,467.2 427.77,470.69 428.3,473.3 C428.83,475.92 429.42,477.96 429.8,480.28 C430.18,482.61 430.55,484.94 430.6,487.26 C430.65,489.59 430.4,491.92 430.1,494.25 C429.8,496.57 429.28,499.31 428.8,501.22 C428.32,503.14 427.6,504.42 427.2,505.76 C426.8,507.1 426.37,508.26 426.4,509.25 C426.43,510.24 427.33,510.88 427.4,511.69 C427.47,512.51 427.05,513.27 426.8,514.14 C426.55,515.01 426.13,515.59 425.9,516.93 C425.68,518.27 425.55,520.42 425.45,522.16 C425.35,523.91 425.49,526.53 425.3,527.4 C425.11,528.27 424.49,528.27 424.3,527.4 Z" fill="#13a3a8"/>
<path d="M438.15,527.4 C437.99,525.95 437.59,521.58 437.3,518.67 C437.01,515.77 436.7,512.86 436.4,509.95 C436.1,507.04 435.82,504.13 435.5,501.22 C435.18,498.32 434.8,495.41 434.5,492.5 C434.2,489.59 433.95,486.68 433.7,483.77 C433.45,480.87 433.18,477.96 433,475.05 C432.82,472.14 432.7,469.23 432.6,466.32 C432.5,463.42 432.42,460.51 432.4,457.6 C432.38,454.69 432.4,451.78 432.5,448.88 C432.6,445.97 432.75,443.06 433,440.15 C433.25,437.24 433.6,434.33 434,431.42 C434.4,428.52 434.93,425.32 435.4,422.7 C435.87,420.08 436.34,417.81 436.8,415.72 C437.26,413.63 437.91,411.07 438.15,410.14 C438.39,409.21 438.01,409.21 438.25,410.14 C438.49,411.07 439.14,413.63 439.6,415.72 C440.06,417.81 440.53,420.08 441,422.7 C441.47,425.32 442,428.52 442.4,431.42 C442.8,434.33 443.15,437.24 443.4,440.15 C443.65,443.06 443.8,445.97 443.9,448.88 C444,451.78 444.02,454.69 444,457.6 C443.98,460.51 443.9,463.42 443.8,466.32 C443.7,469.23 443.58,472.14 443.4,475.05 C443.22,477.96 442.95,480.87 442.7,483.77 C442.45,486.68 442.2,489.59 441.9,492.5 C441.6,495.41 441.22,498.32 440.9,501.22 C440.58,504.13 440.3,507.04 440,509.95 C439.7,512.86 439.39,515.77 439.1,518.67 C438.81,521.58 438.41,525.95 438.25,527.4 C438.09,528.85 438.31,528.85 438.15,527.4 Z" fill="#9473af"/>
<path d="M401.8 471.2h0M396.5 503.4h0M400.7 477.5h0M399.3 489.2h0M395.6 491.9h0M401.7 488.1h0M395.2 491.8h0M396.6 482.3h0M399.6 492.1h0M401.4 504.1h0M396.7 507.0h0M396.0 471.5h0M395.6 487.0h0M401.7 490.7h0M400.5 495.5h0M396.0 493.9h0M400.4 489.4h0M401.1 488.4h0M400.9 489.4h0M398.8 483.6h0M399.2 500.2h0M399.1 487.7h0M395.3 493.0h0M398.7 491.7h0M395.0 478.8h0M400.1 469.5h0M400.6 486.0h0M398.1 478.1h0M396.3 478.5h0M397.9 467.0h0M398.7 470.7h0M397.4 474.9h0M400.8 479.6h0M400.8 481.0h0M397.0 483.0h0M400.2 480.4h0M401.7 477.6h0M400.3 484.9h0M395.7 488.8h0M399.7 499.3h0M398.1 496.4h0M397.8 500.6h0M401.3 498.7h0M400.0 482.3h0M400.8 511.2h0M399.9 473.5h0M400.8 486.0h0M397.9 484.3h0M401.5 493.6h0M398.0 491.2h0M397.0 496.7h0M397.3 491.1h0M398.0 484.8h0M401.8 502.8h0M400.2 509.0h0M400.8 471.5h0M396.8 489.6h0M396.6 490.8h0M396.5 487.9h0M401.1 480.8h0M400.3 493.5h0M400.3 474.7h0M398.6 500.9h0M395.6 484.9h0M399.3 497.1h0M397.5 515.5h0M396.0 495.3h0M398.6 496.7h0M401.5 499.5h0M397.8 475.3h0M401.7 497.3h0M395.5 487.0h0M401.2 480.6h0M395.0 490.1h0M401.8 472.4h0M396.1 503.8h0M399.7 482.9h0M400.1 488.9h0M396.7 496.9h0M395.1 491.6h0M396.7 495.7h0M401.7 497.7h0M399.5 500.0h0M399.1 492.0h0M395.3 497.4h0M395.4 479.1h0M395.9 488.1h0M395.7 516.7h0M399.7 487.9h0M396.8 488.2h0M395.6 495.5h0M397.0 502.5h0M398.0 480.3h0M400.0 468.9h0M397.3 475.4h0M400.7 469.7h0M396.5 485.2h0M400.9 483.9h0M396.8 503.8h0M395.0 480.6h0M396.0 467.9h0M399.5 502.2h0M396.2 497.0h0M395.9 464.6h0M397.6 471.9h0M399.5 495.8h0M395.4 492.2h0M395.0 485.7h0M401.6 493.4h0M397.4 490.0h0M400.4 494.6h0M396.7 497.5h0M395.7 479.5h0M396.6 486.6h0M397.6 497.2h0M400.3 487.9h0M396.4 482.2h0M397.6 499.0h0M398.2 477.8h0M401.0 474.3h0" stroke="#a83a3c" stroke-width="0.70" stroke-linecap="round" fill="none" opacity="0.5"/>
<path d="M427.2 484.2h0M422.9 478.0h0M422.1 486.9h0M424.5 490.1h0M422.1 493.5h0M424.7 485.5h0M424.4 482.3h0M422.1 480.0h0M424.6 484.9h0M427.9 492.8h0M422.9 490.4h0M426.5 508.5h0M428.0 497.2h0M427.3 469.7h0M425.0 473.0h0M423.0 479.0h0M422.8 470.6h0M421.9 491.3h0M424.5 465.3h0M426.4 478.7h0M423.5 483.8h0M422.7 494.2h0M422.1 497.5h0M428.2 495.6h0M421.4 488.2h0M425.9 491.3h0M424.6 489.2h0M426.5 496.4h0M424.8 490.8h0M425.5 492.4h0M426.9 493.8h0M427.9 490.3h0M423.9 509.6h0M427.6 485.9h0M425.5 482.2h0M427.6 482.6h0M421.6 485.4h0M424.4 484.7h0M426.5 483.7h0M425.4 479.2h0M426.1 493.0h0M421.4 481.8h0M424.6 491.4h0M424.9 477.5h0M428.2 492.9h0M425.6 484.9h0M422.7 469.6h0M428.3 496.2h0M428.0 487.0h0M423.6 497.0h0M426.0 483.7h0M421.5 493.4h0M427.1 484.6h0M421.3 495.3h0M424.5 494.1h0M425.2 490.4h0M423.0 494.5h0M422.1 483.2h0M422.3 490.5h0M425.0 508.1h0M421.7 499.7h0M422.9 482.1h0M424.5 476.9h0M424.2 477.2h0M427.3 499.0h0M428.0 492.0h0M424.2 464.2h0M421.7 484.8h0M421.4 491.5h0M423.3 495.6h0M427.4 462.5h0M424.2 509.0h0M426.9 492.7h0M425.9 494.2h0M423.0 489.4h0M425.9 505.1h0M427.6 498.7h0M428.0 487.5h0M427.6 485.1h0M425.3 482.3h0M423.1 474.4h0M423.0 497.5h0M426.0 479.5h0M421.8 489.8h0M424.6 503.6h0M426.0 488.6h0M424.6 490.4h0M426.0 492.9h0M422.6 503.6h0M428.0 487.3h0M424.3 496.4h0M428.0 486.2h0M428.0 478.7h0M427.6 487.1h0M423.8 472.0h0M425.9 488.4h0M422.9 494.4h0M422.8 489.3h0M422.3 486.2h0M424.1 492.7h0M425.4 487.0h0M427.9 497.7h0M426.2 493.6h0M424.4 483.6h0M421.4 478.3h0M426.0 483.7h0M428.0 480.5h0M426.7 481.3h0M425.7 501.9h0M426.2 482.2h0M426.7 490.5h0M423.4 489.7h0M425.5 469.6h0M427.2 479.1h0M422.7 498.9h0M421.4 505.4h0M423.2 492.7h0M421.8 482.6h0M426.2 488.8h0M421.3 488.0h0" stroke="#0f7f84" stroke-width="0.70" stroke-linecap="round" fill="none" opacity="0.5"/>
<text x="401.4" y="544" font-size="8.8" text-anchor="end" transform="rotate(-45 401.4 544)">CD8 naive</text>
<text x="414.5" y="544" font-size="8.8" text-anchor="end" transform="rotate(-45 414.5 544)">CD8 T<tspan font-size="6" dy="1.5">CM</tspan></text>
<text x="427.8" y="544" font-size="8.8" text-anchor="end" transform="rotate(-45 427.8 544)">CD8 T<tspan font-size="6" dy="1.5">EM</tspan></text>
<text x="443.4" y="543.4" font-size="8.8" text-anchor="end" transform="rotate(-45 443.4 543.4)">VI-A CD8<tspan font-size="5.5" dy="-3.2">+</tspan><tspan dy="3.2"> T</tspan></text>
<line x1="541.8" y1="397.7" x2="541.8" y2="535.5" stroke="#f1f1f1" stroke-width="0.6" />
<line x1="582.2" y1="397.7" x2="582.2" y2="535.5" stroke="#f1f1f1" stroke-width="0.6" />
<line x1="622.6" y1="397.7" x2="622.6" y2="535.5" stroke="#f1f1f1" stroke-width="0.6" />
<line x1="663" y1="397.7" x2="663" y2="535.5" stroke="#f1f1f1" stroke-width="0.6" />
<line x1="516.6" y1="518.83" x2="683.5" y2="518.83" stroke="#f1f1f1" stroke-width="0.6" />
<line x1="516.6" y1="496.88" x2="683.5" y2="496.88" stroke="#f1f1f1" stroke-width="0.6" />
<line x1="516.6" y1="474.93" x2="683.5" y2="474.93" stroke="#f1f1f1" stroke-width="0.6" />
<line x1="516.6" y1="452.98" x2="683.5" y2="452.98" stroke="#f1f1f1" stroke-width="0.6" />
<line x1="516.6" y1="431.03" x2="683.5" y2="431.03" stroke="#f1f1f1" stroke-width="0.6" />
<line x1="516.6" y1="409.08" x2="683.5" y2="409.08" stroke="#f1f1f1" stroke-width="0.6" />
<line x1="521.6" y1="397.7" x2="521.6" y2="535.5" stroke="#e4e4e4" stroke-width="0.7" />
<line x1="562" y1="397.7" x2="562" y2="535.5" stroke="#e4e4e4" stroke-width="0.7" />
<line x1="602.4" y1="397.7" x2="602.4" y2="535.5" stroke="#e4e4e4" stroke-width="0.7" />
<line x1="642.8" y1="397.7" x2="642.8" y2="535.5" stroke="#e4e4e4" stroke-width="0.7" />
<line x1="516.6" y1="529.8" x2="683.5" y2="529.8" stroke="#e4e4e4" stroke-width="0.7" />
<line x1="516.6" y1="507.85" x2="683.5" y2="507.85" stroke="#e4e4e4" stroke-width="0.7" />
<line x1="516.6" y1="485.9" x2="683.5" y2="485.9" stroke="#e4e4e4" stroke-width="0.7" />
<line x1="516.6" y1="463.95" x2="683.5" y2="463.95" stroke="#e4e4e4" stroke-width="0.7" />
<line x1="516.6" y1="442" x2="683.5" y2="442" stroke="#e4e4e4" stroke-width="0.7" />
<line x1="516.6" y1="420.05" x2="683.5" y2="420.05" stroke="#e4e4e4" stroke-width="0.7" />
<line x1="516.6" y1="398.1" x2="683.5" y2="398.1" stroke="#e4e4e4" stroke-width="0.7" />
<rect x="516.6" y="397.7" width="166.9" height="137.8" fill="none" stroke="#b8b8b8" stroke-width="1.1"/>
<line x1="513.8" y1="529.8" x2="516.6" y2="529.8" stroke="#999" stroke-width="0.8" />
<text x="509.4" y="532.5" font-size="7.5" text-anchor="end" fill="#262626">30</text>
<line x1="513.8" y1="507.85" x2="516.6" y2="507.85" stroke="#999" stroke-width="0.8" />
<text x="509.4" y="510.55" font-size="7.5" text-anchor="end" fill="#262626">40</text>
<line x1="513.8" y1="485.9" x2="516.6" y2="485.9" stroke="#999" stroke-width="0.8" />
<text x="509.4" y="488.6" font-size="7.5" text-anchor="end" fill="#262626">50</text>
<line x1="513.8" y1="463.95" x2="516.6" y2="463.95" stroke="#999" stroke-width="0.8" />
<text x="509.4" y="466.65" font-size="7.5" text-anchor="end" fill="#262626">60</text>
<line x1="513.8" y1="442" x2="516.6" y2="442" stroke="#999" stroke-width="0.8" />
<text x="509.4" y="444.7" font-size="7.5" text-anchor="end" fill="#262626">70</text>
<line x1="513.8" y1="420.05" x2="516.6" y2="420.05" stroke="#999" stroke-width="0.8" />
<text x="509.4" y="422.75" font-size="7.5" text-anchor="end" fill="#262626">80</text>
<line x1="513.8" y1="398.1" x2="516.6" y2="398.1" stroke="#999" stroke-width="0.8" />
<text x="509.4" y="400.8" font-size="7.5" text-anchor="end" fill="#262626">90</text>
<line x1="521.6" y1="535.5" x2="521.6" y2="539.5" stroke="#999" stroke-width="0.8" />
<text x="521.6" y="548.5" font-size="7.5" text-anchor="middle" fill="#262626">1.0</text>
<line x1="562" y1="535.5" x2="562" y2="539.5" stroke="#999" stroke-width="0.8" />
<text x="562" y="548.5" font-size="7.5" text-anchor="middle" fill="#262626">1.2</text>
<line x1="602.4" y1="535.5" x2="602.4" y2="539.5" stroke="#999" stroke-width="0.8" />
<text x="602.4" y="548.5" font-size="7.5" text-anchor="middle" fill="#262626">1.4</text>
<line x1="642.8" y1="535.5" x2="642.8" y2="539.5" stroke="#999" stroke-width="0.8" />
<text x="642.8" y="548.5" font-size="7.5" text-anchor="middle" fill="#262626">1.6</text>
<text x="490" y="466.4" font-size="8.8" text-anchor="middle" transform="rotate(-90 490 466.4)">−log<tspan font-size="6" dy="2">10</tspan><tspan dy="-2">(</tspan><tspan font-style="italic">P</tspan>.adjust)</text>
<text x="599.4" y="562.5" font-size="9.3" text-anchor="middle" textLength="87" lengthAdjust="spacingAndGlyphs">log<tspan font-size="6.2" dy="2">2</tspan><tspan dy="-2">(fold enrichment)</tspan></text>
<line x1="632.5" y1="427" x2="639.5" y2="434.7" stroke="#222" stroke-width="0.55" />
<line x1="650" y1="426.2" x2="641.9" y2="433.7" stroke="#222" stroke-width="0.55" />
<line x1="656.2" y1="430.5" x2="644" y2="437.2" stroke="#222" stroke-width="0.55" />
<line x1="628.5" y1="431.2" x2="638.5" y2="437.2" stroke="#222" stroke-width="0.55" />
<line x1="650.3" y1="436.2" x2="644" y2="441.5" stroke="#222" stroke-width="0.55" />
<line x1="621" y1="440.8" x2="632" y2="445.3" stroke="#222" stroke-width="0.55" />
<line x1="649" y1="442.2" x2="643.2" y2="445.9" stroke="#222" stroke-width="0.55" />
<line x1="606.8" y1="441.9" x2="624.7" y2="445.1" stroke="#222" stroke-width="0.55" />
<line x1="589" y1="447.6" x2="609.3" y2="445.1" stroke="#222" stroke-width="0.55" />
<line x1="599.5" y1="451.2" x2="623.2" y2="446.3" stroke="#222" stroke-width="0.55" />
<line x1="627.6" y1="458.6" x2="617.7" y2="450.7" stroke="#222" stroke-width="0.55" />
<line x1="605.5" y1="463" x2="611.5" y2="459.4" stroke="#222" stroke-width="0.55" />
<line x1="636" y1="469.2" x2="625.2" y2="449" stroke="#222" stroke-width="0.55" />
<line x1="642.8" y1="455.1" x2="633.6" y2="449.7" stroke="#222" stroke-width="0.55" />
<line x1="663" y1="465.5" x2="672" y2="458.9" stroke="#222" stroke-width="0.55" />
<circle cx="625.8" cy="403.9" r="0.85" fill="#111"/>
<text x="605" y="405.5" font-size="5.9" fill="#d23f5c">BATF3</text>
<circle cx="625.4" cy="409.9" r="0.85" fill="#111"/>
<text x="627" y="411.8" font-size="5" fill="#333">BATF</text>
<circle cx="623.0" cy="411.8" r="0.85" fill="#111"/>
<text x="622.7" y="418" font-size="5" fill="#333">BATF::JUN</text>
<circle cx="639.5" cy="434.7" r="0.85" fill="#111"/>
<text x="622.7" y="425.8" font-size="5" fill="#333">JUNB</text>
<circle cx="641.9" cy="433.7" r="0.85" fill="#111"/>
<text x="638.5" y="424.8" font-size="5" fill="#333">FOSL1::JUNB</text>
<circle cx="644.0" cy="437.2" r="0.85" fill="#111"/>
<text x="656.5" y="429.7" font-size="5" fill="#333">JUND</text>
<circle cx="638.5" cy="437.2" r="0.85" fill="#111"/>
<text x="611.2" y="430.4" font-size="5" fill="#333">BACH1</text>
<circle cx="644.0" cy="441.5" r="0.85" fill="#111"/>
<text x="650.3" y="436.6" font-size="5" fill="#333">FOSL2::JUNB</text>
<circle cx="632.0" cy="445.3" r="0.85" fill="#111"/>
<text x="608.1" y="439" font-size="5" fill="#333">FOSL1::JUN</text>
<circle cx="643.2" cy="445.9" r="0.85" fill="#111"/>
<text x="649" y="442.8" font-size="5" fill="#333">FOSL2::JUND</text>
<circle cx="644.0" cy="449.6" r="0.85" fill="#111"/>
<text x="644.9" y="447.1" font-size="5" fill="#333">FOS::JUNB</text>
<circle cx="602.0" cy="437.2" r="0.85" fill="#111"/>
<text x="591.8" y="436.4" font-size="5" fill="#333">Atf3</text>
<circle cx="624.7" cy="445.1" r="0.85" fill="#111"/>
<text x="577.7" y="443.1" font-size="5" fill="#333">FOSL2::JUN</text>
<circle cx="609.3" cy="445.1" r="0.85" fill="#111"/>
<text x="574.7" y="449.2" font-size="5" fill="#333">BNC2</text>
<circle cx="623.2" cy="446.3" r="0.85" fill="#111"/>
<text x="572.4" y="453.9" font-size="5" fill="#333">FOS::JUND</text>
<circle cx="612.3" cy="451.0" r="0.85" fill="#111"/>
<text x="603.5" y="453.9" font-size="5" fill="#333">Jun</text>
<circle cx="617.7" cy="450.7" r="0.85" fill="#111"/>
<text x="614.2" y="460.9" font-size="5" fill="#333">FOSL1</text>
<circle cx="604.7" cy="459.1" r="0.85" fill="#111"/>
<text x="593.3" y="461.2" font-size="5" fill="#333">FOS</text>
<circle cx="611.5" cy="459.4" r="0.85" fill="#111"/>
<text x="595.2" y="467" font-size="5" fill="#333">TBX18</text>
<circle cx="616.2" cy="462.8" r="0.85" fill="#111"/>
<text x="614.2" y="467" font-size="5" fill="#333">FOSL2</text>
<circle cx="568.5" cy="470.8" r="0.85" fill="#111"/>
<text x="567.4" y="468.5" font-size="5" fill="#333">IRF9</text>
<circle cx="610.8" cy="474.0" r="0.85" fill="#111"/>
<text x="611.5" y="479.1" font-size="5" fill="#333">Tbx6</text>
<circle cx="625.2" cy="449.0" r="0.85" fill="#111"/>
<text x="620.7" y="472.8" font-size="5" fill="#333">FOSL1::JUND</text>
<circle cx="633.6" cy="449.7" r="0.85" fill="#111"/>
<text x="631.3" y="457.4" font-size="5" fill="#333">FOS::JUN</text>
<circle cx="640.1" cy="460.9" r="0.85" fill="#111"/>
<text x="634" y="465.4" font-size="5" fill="#333">JDP2</text>
<circle cx="668.1" cy="454.3" r="0.85" fill="#111"/>
<text x="656.2" y="456.2" font-size="5" fill="#333">TBX2</text>
<circle cx="675.8" cy="453.9" r="0.85" fill="#111"/>
<text x="668.1" y="452" font-size="5" fill="#333">TBX21</text>
<circle cx="658.9" cy="458.2" r="0.85" fill="#111"/>
<text x="650" y="463.1" font-size="5" fill="#333">TBX3</text>
<circle cx="671.7" cy="461.2" r="0.85" fill="#111"/>
<text x="669.7" y="467.1" font-size="5" fill="#333">TBR1</text>
<circle cx="672.0" cy="458.9" r="0.85" fill="#111"/>
<text x="652" y="469.7" font-size="5" fill="#333">EOMES</text>
<circle cx="629.0" cy="483.8" r="0.85" fill="#111"/>
<text x="630.6" y="487.2" font-size="5" fill="#333">JUN::JUNB</text>
<circle cx="634.4" cy="494.2" r="0.85" fill="#111"/>
<text x="636" y="496.1" font-size="5" fill="#333">TBX15</text>
<circle cx="609.9" cy="486.6" r="0.85" fill="#111"/>
<text x="601" y="491.2" font-size="5" fill="#333">IRF4</text>
<circle cx="612.6" cy="494.5" r="0.85" fill="#111"/>
<text x="604.2" y="500.3" font-size="5" fill="#333">TBX1</text>
<circle cx="624.8" cy="498.4" r="0.85" fill="#111"/>
<text x="622.2" y="504" font-size="5" fill="#333">TBX20</text>
<circle cx="608.8" cy="506.8" r="0.85" fill="#111"/>
<text x="594.6" y="509.1" font-size="5" fill="#333">NFE2</text>
<circle cx="621.8" cy="506.3" r="0.85" fill="#111"/>
<text x="620.2" y="511" font-size="5" fill="#333">TBX5</text>
<circle cx="602.2" cy="514.5" r="0.85" fill="#111"/>
<text x="595" y="519.4" font-size="5" fill="#333">BACH2</text>
<circle cx="583.3" cy="496.6" r="0.85" fill="#111"/>
<text x="573.1" y="500.7" font-size="5" fill="#333">IRF8</text>
<circle cx="524.1" cy="500.7" r="0.85" fill="#111"/>
<text x="519.7" y="496.6" font-size="5" fill="#333">RREB1</text>
<circle cx="529.4" cy="502.3" r="0.85" fill="#111"/>
<text x="531.1" y="501.7" font-size="5" fill="#333">Runx1</text>
<circle cx="529.8" cy="503.8" r="0.85" fill="#111"/>
<text x="531.1" y="506.4" font-size="5" fill="#333">IRF7</text>
<circle cx="526.9" cy="505.7" r="0.85" fill="#111"/>
<text x="517.4" y="511.4" font-size="5" fill="#333">Bcl11b</text>
<circle cx="532.6" cy="520.3" r="0.85" fill="#111"/>
<text x="533.2" y="518.8" font-size="5" fill="#333">IRF2</text>
<circle cx="525.4" cy="529.8" r="0.85" fill="#111"/>
<text x="518.4" y="527.3" font-size="5" fill="#333">Wt1</text>
<circle cx="531.1" cy="529.2" r="0.85" fill="#111"/>
<text x="534.5" y="527.3" font-size="5" fill="#333">RUNX3</text>
<circle cx="610" cy="490" r="0.85" fill="#111"/>
<line x1="21.9" y1="613.4" x2="21.9" y2="692.8" stroke="#9a9a9a" stroke-width="0.8" />
<line x1="19.3" y1="632.3" x2="21.9" y2="632.3" stroke="#9a9a9a" stroke-width="0.7" />
<line x1="19.3" y1="627.27" x2="21.9" y2="627.27" stroke="#9a9a9a" stroke-width="0.7" />
<line x1="19.3" y1="622.25" x2="21.9" y2="622.25" stroke="#9a9a9a" stroke-width="0.7" />
<line x1="19.3" y1="617.22" x2="21.9" y2="617.22" stroke="#9a9a9a" stroke-width="0.7" />
<line x1="19.3" y1="652.4" x2="21.9" y2="652.4" stroke="#9a9a9a" stroke-width="0.7" />
<line x1="19.3" y1="647.38" x2="21.9" y2="647.38" stroke="#9a9a9a" stroke-width="0.7" />
<line x1="19.3" y1="642.35" x2="21.9" y2="642.35" stroke="#9a9a9a" stroke-width="0.7" />
<line x1="19.3" y1="637.32" x2="21.9" y2="637.32" stroke="#9a9a9a" stroke-width="0.7" />
<line x1="19.3" y1="672.4" x2="21.9" y2="672.4" stroke="#9a9a9a" stroke-width="0.7" />
<line x1="19.3" y1="667.38" x2="21.9" y2="667.38" stroke="#9a9a9a" stroke-width="0.7" />
<line x1="19.3" y1="662.35" x2="21.9" y2="662.35" stroke="#9a9a9a" stroke-width="0.7" />
<line x1="19.3" y1="657.32" x2="21.9" y2="657.32" stroke="#9a9a9a" stroke-width="0.7" />
<line x1="19.3" y1="692.5" x2="21.9" y2="692.5" stroke="#9a9a9a" stroke-width="0.7" />
<line x1="19.3" y1="687.48" x2="21.9" y2="687.48" stroke="#9a9a9a" stroke-width="0.7" />
<line x1="19.3" y1="682.45" x2="21.9" y2="682.45" stroke="#9a9a9a" stroke-width="0.7" />
<line x1="19.3" y1="677.42" x2="21.9" y2="677.42" stroke="#9a9a9a" stroke-width="0.7" />
<path d="M67.4,632.3L94.4,632.3L94.7,632.3L94.9,632.3L95.2,632.2L95.4,632.2L95.7,632.2L95.9,632.2L96.2,632.2L96.4,632.2L96.7,632.2L96.9,632.2L97.2,632.2L97.4,632.2L97.7,632.2L97.9,632.1L98.2,632.1L98.4,632.1L98.7,632.1L98.9,632.1L99.2,632.1L99.4,632.1L99.7,632.1L99.9,632.1L100.2,632.1L100.4,632.1L100.7,632.1L100.9,632.1L101.2,632.1L101.4,632.1L101.7,632.1L101.9,632.1L102.2,632.1L102.4,632.2L102.7,632.2L102.9,632.2L103.2,632.2L103.4,632.2L103.7,632.2L103.9,632.2L104.2,632.2L104.4,632.2L104.7,632.2L104.9,632.2L105.2,632.2L105.4,632.2L105.7,632.2L105.9,632.2L106.2,632.2L106.4,632.2L106.7,632.2L106.9,632.2L107.2,632.2L107.4,632.2L107.7,632.2L107.9,632.1L108.2,632.1L108.4,632.1L108.7,632.1L108.9,632.1L109.2,632.0L109.4,632.0L109.7,632.0L109.9,632.0L110.2,632.0L110.4,632.0L110.7,631.9L110.9,631.9L111.2,631.9L111.4,631.9L111.7,631.9L111.9,631.9L112.2,631.9L112.4,631.9L112.7,631.9L112.9,631.9L113.2,631.9L113.4,631.9L113.7,631.9L113.9,632.0L114.2,632.0L114.4,632.0L114.7,632.0L114.9,631.9L115.2,631.9L115.4,631.9L115.7,631.8L115.9,631.7L116.2,631.6L116.4,631.4L116.7,631.2L116.9,631.0L117.2,630.7L117.4,630.4L117.7,630.0L117.9,629.7L118.2,629.3L118.4,629.0L118.7,628.7L118.9,628.5L119.2,628.4L119.4,628.3L119.7,628.3L119.9,628.4L120.2,628.6L120.4,628.8L120.7,629.1L120.9,629.4L121.2,629.8L121.4,630.2L121.7,630.5L121.9,630.8L122.2,631.1L122.4,631.4L122.7,631.6L122.9,631.8L123.2,631.9L123.4,632.0L123.7,632.1L123.9,632.2L124.2,632.2L124.4,632.2L124.7,632.3L124.9,632.3L166.9,632.3Z" fill="#5daa3e"/>
<line x1="67.4" y1="632.3" x2="166.9" y2="632.3" stroke="#cdcdcd" stroke-width="0.75" />
<line x1="67.4" y1="632.1" x2="166.9" y2="632.1" stroke="#5daa3e" stroke-width="0.6" opacity="0.35"/>
<path d="M67.4,652.4L83.2,652.4L83.4,652.3L83.7,652.3L83.9,652.2L84.2,652.0L84.4,651.7L84.7,651.4L84.9,650.9L85.2,650.3L85.4,649.7L85.7,649.2L85.9,648.7L86.2,648.4L86.4,648.4L86.7,648.6L86.9,649.1L87.2,649.6L87.4,650.2L87.7,650.8L87.9,651.3L88.2,651.7L88.4,652.0L88.7,652.1L88.9,652.3L89.2,652.3L89.4,652.4L96.2,652.4L96.4,652.3L96.7,652.3L96.9,652.2L97.2,652.1L97.4,652.0L97.7,651.9L97.9,651.8L98.2,651.7L98.4,651.6L98.7,651.6L98.9,651.6L99.2,651.7L99.4,651.8L99.7,651.9L99.9,652.1L100.2,652.2L100.4,652.2L100.7,652.3L100.9,652.3L101.2,652.4L113.7,652.4L113.9,652.3L114.2,652.3L114.4,652.2L114.7,652.0L114.9,651.8L115.2,651.5L115.4,651.1L115.7,650.6L115.9,650.1L116.2,649.6L116.4,649.1L116.7,648.8L116.9,648.6L117.2,648.6L117.4,648.8L117.7,649.2L117.9,649.6L118.2,650.0L118.4,650.4L118.7,650.5L118.9,650.4L119.2,650.0L119.4,649.2L119.7,648.3L119.9,647.2L120.2,646.2L120.4,645.4L120.7,645.1L120.9,645.2L121.2,645.6L121.4,646.3L121.7,646.9L121.9,647.5L122.2,648.0L122.4,648.3L122.7,648.7L122.9,649.1L123.2,649.5L123.4,650.0L123.7,650.5L123.9,651.0L124.2,651.4L124.4,651.8L124.7,652.0L124.9,652.2L125.2,652.3L125.4,652.3L125.7,652.4L130.9,652.4L131.2,652.4L131.4,652.3L131.7,652.2L131.9,652.1L132.2,651.9L132.4,651.7L132.7,651.4L132.9,651.0L133.2,650.6L133.4,650.2L133.7,650.0L133.9,649.8L134.2,649.8L134.4,650.0L134.7,650.3L134.9,650.7L135.2,651.1L135.4,651.4L135.7,651.7L135.9,652.0L136.2,652.1L136.4,652.3L136.7,652.3L136.9,652.4L145.9,652.4L146.2,652.4L146.4,652.3L146.7,652.3L146.9,652.3L147.2,652.3L147.4,652.3L147.7,652.2L147.9,652.2L148.2,652.2L148.4,652.2L148.7,652.2L148.9,652.1L149.2,652.1L149.4,652.1L149.7,652.1L149.9,652.1L150.2,652.1L150.4,652.1L150.7,652.1L150.9,652.1L151.2,652.1L151.4,652.2L151.7,652.2L151.9,652.2L152.2,652.2L152.4,652.3L152.7,652.3L152.9,652.3L153.2,652.3L153.4,652.3L153.7,652.3L153.9,652.4L154.2,652.4L166.9,652.4Z" fill="#1fa5dc"/>
<line x1="67.4" y1="652.4" x2="166.9" y2="652.4" stroke="#cdcdcd" stroke-width="0.75" />
<line x1="67.4" y1="652.2" x2="166.9" y2="652.2" stroke="#1fa5dc" stroke-width="0.6" opacity="0.35"/>
<path d="M67.4,672.4L73.9,672.4L74.2,672.4L74.4,672.3L74.7,672.3L74.9,672.3L75.2,672.3L75.4,672.2L75.7,672.2L75.9,672.2L76.2,672.1L76.4,672.1L76.7,672.0L76.9,671.9L77.2,671.9L77.4,671.8L77.7,671.8L77.9,671.7L78.2,671.7L78.4,671.6L78.7,671.6L78.9,671.6L79.2,671.6L79.4,671.6L79.7,671.6L79.9,671.7L80.2,671.7L80.4,671.8L80.7,671.8L80.9,671.8L81.2,671.8L81.4,671.8L81.7,671.8L81.9,671.7L82.2,671.5L82.4,671.3L82.7,671.0L82.9,670.7L83.2,670.2L83.4,669.7L83.7,669.2L83.9,668.6L84.2,667.9L84.4,667.0L84.7,665.9L84.9,664.4L85.2,662.2L85.4,659.5L85.7,656.5L85.9,653.7L86.2,651.8L86.4,651.2L86.7,652.2L86.9,654.5L87.2,657.5L87.4,660.6L87.7,663.2L87.9,665.1L88.2,666.4L88.4,667.4L88.7,668.1L88.9,668.8L89.2,669.5L89.4,670.2L89.7,670.8L89.9,671.3L90.2,671.7L90.4,672.0L90.7,672.1L90.9,672.3L91.2,672.3L91.4,672.4L93.4,672.4L93.7,672.3L93.9,672.3L94.2,672.1L94.4,671.9L94.7,671.7L94.9,671.4L95.2,671.0L95.4,670.6L95.7,670.3L95.9,670.1L96.2,670.0L96.4,669.9L96.7,669.7L96.9,669.5L97.2,669.2L97.4,668.7L97.7,668.4L97.9,668.2L98.2,668.3L98.4,668.8L98.7,669.5L98.9,670.3L99.2,671.0L99.4,671.5L99.7,671.9L99.9,672.2L100.2,672.3L100.4,672.4L100.7,672.4L102.9,672.4L103.2,672.4L103.4,672.3L103.7,672.3L103.9,672.3L104.2,672.3L104.4,672.2L104.7,672.2L104.9,672.2L105.2,672.1L105.4,672.1L105.7,672.0L105.9,671.9L106.2,671.9L106.4,671.8L106.7,671.8L106.9,671.7L107.2,671.7L107.4,671.6L107.7,671.6L107.9,671.6L108.2,671.6L108.4,671.6L108.7,671.6L108.9,671.6L109.2,671.6L109.4,671.6L109.7,671.6L109.9,671.6L110.2,671.6L110.4,671.6L110.7,671.6L110.9,671.6L111.2,671.6L111.4,671.6L111.7,671.6L111.9,671.6L112.2,671.6L112.4,671.7L112.7,671.7L112.9,671.8L113.2,671.8L113.4,671.9L113.7,672.0L113.9,672.1L114.2,672.1L114.4,672.1L114.7,672.0L114.9,671.9L115.2,671.6L115.4,671.1L115.7,670.4L115.9,669.6L116.2,668.5L116.4,667.4L116.7,666.3L116.9,665.4L117.2,664.8L117.4,664.5L117.7,664.5L117.9,664.6L118.2,664.5L118.4,664.2L118.7,663.6L118.9,662.8L119.2,662.3L119.4,662.1L119.7,662.4L119.9,662.9L120.2,663.3L120.4,663.3L120.7,662.7L120.9,661.7L121.2,660.8L121.4,660.2L121.7,660.4L121.9,661.1L122.2,662.1L122.4,663.2L122.7,664.0L122.9,664.5L123.2,664.7L123.4,664.9L123.7,665.1L123.9,665.5L124.2,666.0L124.4,666.5L124.7,667.1L124.9,667.6L125.2,668.1L125.4,668.4L125.7,668.7L125.9,668.9L126.2,669.1L126.4,669.4L126.7,669.6L126.9,669.9L127.2,670.2L127.4,670.6L127.7,670.9L127.9,671.2L128.2,671.5L128.4,671.7L128.7,671.9L128.9,672.0L129.2,672.0L129.4,672.0L129.7,672.0L129.9,671.8L130.2,671.6L130.4,671.4L130.7,671.1L130.9,670.9L131.2,670.7L131.4,670.5L131.7,670.5L131.9,670.3L132.2,670.1L132.4,669.5L132.7,668.4L132.9,666.7L133.2,664.6L133.4,662.2L133.7,660.0L133.9,658.4L134.2,657.8L134.4,658.1L134.7,659.2L134.9,660.6L135.2,662.2L135.4,663.7L135.7,665.1L135.9,666.5L136.2,667.8L136.4,669.0L136.7,670.1L136.9,670.9L137.2,671.5L137.4,671.9L137.7,672.1L137.9,672.3L138.2,672.3L138.4,672.4L145.2,672.4L145.4,672.4L145.7,672.3L145.9,672.3L146.2,672.3L146.4,672.2L146.7,672.2L146.9,672.1L147.2,672.0L147.4,672.0L147.7,671.9L147.9,671.7L148.2,671.6L148.4,671.5L148.7,671.4L148.9,671.2L149.2,671.1L149.4,671.0L149.7,671.0L149.9,670.9L150.2,670.9L150.4,670.9L150.7,670.9L150.9,671.0L151.2,671.1L151.4,671.2L151.7,671.3L151.9,671.4L152.2,671.6L152.4,671.7L152.7,671.8L152.9,671.9L153.2,672.0L153.4,672.1L153.7,672.2L153.9,672.2L154.2,672.3L154.4,672.3L154.7,672.3L154.9,672.4L155.2,672.4L166.9,672.4Z" fill="#9470aa"/>
<line x1="67.4" y1="672.4" x2="166.9" y2="672.4" stroke="#cdcdcd" stroke-width="0.75" />
<line x1="67.4" y1="672.2" x2="166.9" y2="672.2" stroke="#9470aa" stroke-width="0.6" opacity="0.35"/>
<path d="M67.4,692.5L95.9,692.5L96.2,692.5L96.4,692.4L96.7,692.4L96.9,692.4L97.2,692.4L97.4,692.4L97.7,692.3L97.9,692.3L98.2,692.3L98.4,692.3L98.7,692.3L98.9,692.2L99.2,692.2L99.4,692.2L99.7,692.2L99.9,692.2L100.2,692.2L100.4,692.2L100.7,692.2L100.9,692.2L101.2,692.2L101.4,692.3L101.7,692.3L101.9,692.3L102.2,692.3L102.4,692.4L102.7,692.4L102.9,692.4L103.2,692.4L103.4,692.4L103.7,692.4L103.9,692.5L104.2,692.5L105.7,692.5L105.9,692.5L106.2,692.5L106.4,692.4L106.7,692.4L106.9,692.4L107.2,692.4L107.4,692.4L107.7,692.3L107.9,692.3L108.2,692.3L108.4,692.3L108.7,692.3L108.9,692.2L109.2,692.2L109.4,692.2L109.7,692.2L109.9,692.2L110.2,692.2L110.4,692.2L110.7,692.2L110.9,692.2L111.2,692.2L111.4,692.3L111.7,692.3L111.9,692.3L112.2,692.3L112.4,692.4L112.7,692.4L112.9,692.4L113.2,692.4L113.4,692.4L113.7,692.4L113.9,692.5L114.2,692.5L116.4,692.5L116.7,692.4L116.9,692.4L117.2,692.3L117.4,692.1L117.7,691.9L117.9,691.6L118.2,691.2L118.4,690.7L118.7,690.2L118.9,689.7L119.2,689.4L119.4,689.2L119.7,689.2L119.9,689.5L120.2,689.8L120.4,690.3L120.7,690.8L120.9,691.3L121.2,691.7L121.4,692.0L121.7,692.2L121.9,692.3L122.2,692.4L122.4,692.5L122.7,692.5L166.9,692.5Z" fill="#c0559d"/>
<line x1="67.4" y1="692.5" x2="166.9" y2="692.5" stroke="#cdcdcd" stroke-width="0.75" />
<line x1="67.4" y1="692.3" x2="166.9" y2="692.3" stroke="#c0559d" stroke-width="0.6" opacity="0.35"/>
<text x="6.3" y="648" font-size="7.6" text-anchor="middle" transform="rotate(-90 6.3 648)" textLength="60" lengthAdjust="spacingAndGlyphs">Normalized signal</text>
<text x="14.9" y="648" font-size="7.6" text-anchor="middle" transform="rotate(-90 14.9 648)" textLength="43" lengthAdjust="spacingAndGlyphs">(range 0–52)</text>
<line x1="21.9" y1="702.6" x2="21.9" y2="721.8" stroke="#aaa" stroke-width="0.8" />
<text x="14.9" y="711.5" font-size="7.2" text-anchor="middle" fill="#262626" transform="rotate(-90 14.9 711.5)">Genes</text>
<text x="26" y="625.5" font-size="8.6">CD8 naive</text>
<text x="26" y="645.5" font-size="8.6">CD8 T<tspan font-size="5.8" dy="1.6">EM</tspan></text>
<text x="26" y="666.6" font-size="8.6">VI-A CD8<tspan font-size="5" dy="-3">+</tspan><tspan dy="3"> T</tspan></text>
<text x="26" y="686.4" font-size="8.6">CD8 T<tspan font-size="5.8" dy="1.6">CM</tspan></text>
<rect x="117" y="704.7" width="2.2" height="3.2" fill="#2b3990" />
<line x1="119" y1="706.3" x2="162.2" y2="706.3" stroke="#2b3990" stroke-width="1.35" />
<line x1="119" y1="706.3" x2="162.2" y2="706.3" stroke="#2b3990" stroke-width="2.2" stroke-dasharray="0.7 1.3"/>
<text x="140.4" y="703" font-size="7.4" text-anchor="middle" fill="#262626">CD38</text>
<line x1="67.4" y1="715.2" x2="166.9" y2="715.2" stroke="#777" stroke-width="0.7" />
<line x1="80" y1="715.2" x2="80" y2="717.4" stroke="#777" stroke-width="0.7" />
<line x1="102.5" y1="715.2" x2="102.5" y2="717.4" stroke="#777" stroke-width="0.7" />
<line x1="125.1" y1="715.2" x2="125.1" y2="717.4" stroke="#777" stroke-width="0.7" />
<line x1="147.4" y1="715.2" x2="147.4" y2="717.4" stroke="#777" stroke-width="0.7" />
<text x="81.3" y="723.6" font-size="5.9" text-anchor="middle" fill="#444">15,770,000</text>
<text x="125.6" y="723.6" font-size="5.9" text-anchor="middle" fill="#444">15,780,000</text>
<text x="117.7" y="733.1" font-size="7.1" text-anchor="middle" fill="#262626">chr4 position (bp)</text>
<line x1="194" y1="613.4" x2="194" y2="692.8" stroke="#9a9a9a" stroke-width="0.8" />
<line x1="191.4" y1="632.3" x2="194" y2="632.3" stroke="#9a9a9a" stroke-width="0.7" />
<line x1="191.4" y1="627.27" x2="194" y2="627.27" stroke="#9a9a9a" stroke-width="0.7" />
<line x1="191.4" y1="622.25" x2="194" y2="622.25" stroke="#9a9a9a" stroke-width="0.7" />
<line x1="191.4" y1="617.22" x2="194" y2="617.22" stroke="#9a9a9a" stroke-width="0.7" />
<line x1="191.4" y1="652.4" x2="194" y2="652.4" stroke="#9a9a9a" stroke-width="0.7" />
<line x1="191.4" y1="647.38" x2="194" y2="647.38" stroke="#9a9a9a" stroke-width="0.7" />
<line x1="191.4" y1="642.35" x2="194" y2="642.35" stroke="#9a9a9a" stroke-width="0.7" />
<line x1="191.4" y1="637.32" x2="194" y2="637.32" stroke="#9a9a9a" stroke-width="0.7" />
<line x1="191.4" y1="672.4" x2="194" y2="672.4" stroke="#9a9a9a" stroke-width="0.7" />
<line x1="191.4" y1="667.38" x2="194" y2="667.38" stroke="#9a9a9a" stroke-width="0.7" />
<line x1="191.4" y1="662.35" x2="194" y2="662.35" stroke="#9a9a9a" stroke-width="0.7" />
<line x1="191.4" y1="657.32" x2="194" y2="657.32" stroke="#9a9a9a" stroke-width="0.7" />
<line x1="191.4" y1="692.5" x2="194" y2="692.5" stroke="#9a9a9a" stroke-width="0.7" />
<line x1="191.4" y1="687.48" x2="194" y2="687.48" stroke="#9a9a9a" stroke-width="0.7" />
<line x1="191.4" y1="682.45" x2="194" y2="682.45" stroke="#9a9a9a" stroke-width="0.7" />
<line x1="191.4" y1="677.42" x2="194" y2="677.42" stroke="#9a9a9a" stroke-width="0.7" />
<path d="M198.1,632.3L206.6,632.3L206.8,632.2L207.1,632.2L207.3,632.1L207.6,632.0L207.8,631.9L208.1,631.9L208.3,632.0L208.6,632.1L208.8,632.2L209.1,632.2L209.3,632.3L219.1,632.3L219.3,632.2L219.6,632.0L219.8,631.4L220.1,630.4L220.3,629.3L220.6,628.8L220.8,629.3L221.1,630.4L221.3,631.4L221.6,632.0L221.8,632.2L222.1,632.3L257.9,632.3L258.1,632.3L258.4,632.2L258.6,632.2L258.9,632.1L259.1,632.1L259.4,632.1L259.6,632.0L259.9,632.0L260.1,632.0L260.4,632.0L260.6,632.0L260.9,632.1L261.1,632.1L261.4,632.2L261.6,632.2L261.9,632.2L262.1,632.3L297.4,632.3Z" fill="#5daa3e"/>
<line x1="198.1" y1="632.3" x2="297.4" y2="632.3" stroke="#cdcdcd" stroke-width="0.75" />
<line x1="198.1" y1="632.1" x2="297.4" y2="632.1" stroke="#5daa3e" stroke-width="0.6" opacity="0.35"/>
<path d="M198.1,652.4L201.6,652.4L201.8,652.3L202.1,652.3L202.3,652.2L202.6,652.1L202.8,652.0L203.1,652.0L203.3,652.1L203.6,652.2L203.8,652.3L204.1,652.3L204.3,652.4L206.1,652.4L206.3,652.3L206.6,652.2L206.8,652.0L207.1,651.6L207.3,651.0L207.6,650.4L207.8,650.0L208.1,649.9L208.3,650.3L208.6,650.9L208.8,651.5L209.1,651.9L209.3,652.2L209.6,652.3L209.8,652.4L216.1,652.4L216.3,652.3L216.6,652.0L216.8,651.3L217.1,650.4L217.3,649.6L217.6,649.5L217.8,650.2L218.1,651.2L218.3,651.9L218.6,652.2L218.8,652.4L219.1,652.4L219.3,652.4L219.6,652.2L219.8,651.9L220.1,651.3L220.3,650.7L220.6,650.4L220.8,650.7L221.1,651.3L221.3,651.9L221.6,652.2L221.8,652.4L222.1,652.4L269.9,652.4L270.1,652.3L270.4,652.3L270.6,652.1L270.9,651.9L271.1,651.5L271.4,651.1L271.6,650.7L271.9,650.4L272.1,650.4L272.4,650.6L272.6,651.0L272.9,651.4L273.1,651.6L273.4,651.6L273.6,651.2L273.9,650.9L274.1,650.9L274.4,651.3L274.6,651.8L274.9,652.1L275.1,652.3L275.4,652.4L297.4,652.4Z" fill="#1fa5dc"/>
<line x1="198.1" y1="652.4" x2="297.4" y2="652.4" stroke="#cdcdcd" stroke-width="0.75" />
<line x1="198.1" y1="652.2" x2="297.4" y2="652.2" stroke="#1fa5dc" stroke-width="0.6" opacity="0.35"/>
<path d="M198.1,672.4L199.1,672.4L199.3,672.3L199.6,672.3L199.8,672.1L200.1,672.0L200.3,671.8L200.6,671.6L200.8,671.4L201.1,671.4L201.3,671.5L201.6,671.6L201.8,671.8L202.1,671.8L202.3,671.6L202.6,671.2L202.8,670.7L203.1,670.2L203.3,669.9L203.6,669.7L203.8,669.8L204.1,669.9L204.3,669.9L204.6,669.7L204.8,669.5L205.1,669.4L205.3,669.6L205.6,670.0L205.8,670.6L206.1,671.1L206.3,671.5L206.6,671.4L206.8,670.5L207.1,668.7L207.3,666.4L207.6,664.8L207.8,664.6L208.1,665.7L208.3,667.0L208.6,667.7L208.8,668.0L209.1,668.3L209.3,669.0L209.6,669.9L209.8,670.8L210.1,671.3L210.3,671.2L210.6,670.8L210.8,670.5L211.1,670.4L211.3,670.8L211.6,671.4L211.8,671.9L212.1,672.2L212.3,672.2L212.6,672.0L212.8,671.3L213.1,670.6L213.3,670.4L213.6,670.9L213.8,671.6L214.1,672.1L214.3,672.3L214.6,672.4L216.1,672.4L216.3,672.3L216.6,672.1L216.8,671.1L217.1,668.8L217.3,665.1L217.6,661.5L217.8,660.5L218.1,662.8L218.3,666.7L218.6,669.9L218.8,671.6L219.1,672.2L219.3,672.2L219.6,671.4L219.8,668.8L220.1,663.8L220.3,657.7L220.6,654.9L220.8,657.7L221.1,663.8L221.3,668.8L221.6,671.4L221.8,672.2L222.1,672.4L222.3,672.4L222.6,672.3L222.8,672.2L223.1,672.1L223.3,671.8L223.6,671.6L223.8,671.4L224.1,671.4L224.3,671.6L224.6,671.8L224.8,672.0L225.1,672.2L225.3,672.3L225.6,672.4L230.1,672.4L230.3,672.3L230.6,672.3L230.8,672.1L231.1,672.0L231.3,671.8L231.6,671.6L231.8,671.4L232.1,671.4L232.3,671.5L232.6,671.7L232.8,671.9L233.1,672.1L233.3,672.2L233.6,672.3L233.8,672.4L236.1,672.4L236.3,672.3L236.6,672.1L236.8,671.7L237.1,671.1L237.3,670.5L237.6,670.4L237.8,670.9L238.1,671.6L238.3,672.1L238.6,672.3L238.8,672.4L241.6,672.4L241.8,672.3L242.1,672.2L242.3,672.0L242.6,671.7L242.8,671.4L243.1,671.4L243.3,671.6L243.6,671.9L243.8,672.2L244.1,672.3L244.3,672.4L246.3,672.4L246.6,672.3L246.8,672.2L247.1,672.0L247.3,671.7L247.6,671.4L247.8,671.2L248.1,671.2L248.3,671.4L248.6,671.7L248.8,672.0L249.1,672.2L249.3,672.3L249.6,672.4L259.9,672.4L260.1,672.3L260.4,672.2L260.6,672.1L260.9,671.8L261.1,671.3L261.4,670.8L261.6,670.3L261.9,670.0L262.1,669.9L262.4,670.2L262.6,670.7L262.9,671.2L263.1,671.7L263.4,672.0L263.6,672.2L263.9,672.3L264.1,672.3L264.4,672.3L264.6,672.2L264.9,672.1L265.1,671.9L265.4,671.6L265.6,671.4L265.9,671.2L266.1,671.2L266.4,671.3L266.6,671.6L266.9,671.8L267.1,672.1L267.4,672.2L267.6,672.3L267.9,672.4L269.6,672.4L269.9,672.4L270.1,672.1L270.4,671.3L270.6,668.9L270.9,664.3L271.1,658.8L271.4,655.5L271.6,656.9L271.9,661.7L272.1,665.8L272.4,666.7L272.6,664.5L272.9,661.9L273.1,661.7L273.4,664.3L273.6,667.9L273.9,670.5L274.1,671.6L274.4,671.5L274.6,670.5L274.9,668.9L275.1,667.0L275.4,665.7L275.6,665.5L275.9,666.7L276.1,668.5L276.4,670.2L276.6,671.3L276.9,671.7L277.1,671.5L277.4,670.9L277.6,670.1L277.9,669.5L278.1,669.4L278.4,669.9L278.6,670.7L278.9,671.5L279.1,671.9L279.4,671.7L279.6,670.9L279.9,669.4L280.1,667.9L280.4,667.4L280.6,668.4L280.9,670.0L281.1,671.4L281.4,672.1L281.6,672.3L281.9,672.4L284.1,672.4L284.4,672.3L284.6,672.1L284.9,671.7L285.1,670.8L285.4,669.8L285.6,669.4L285.9,669.8L286.1,670.8L286.4,671.7L286.6,672.1L286.9,672.3L287.1,672.4L290.6,672.4L290.9,672.3L291.1,672.0L291.4,671.3L291.6,670.0L291.9,668.5L292.1,667.9L292.4,668.5L292.6,670.0L292.9,671.3L293.1,672.0L293.4,672.3L293.6,672.4L297.4,672.4Z" fill="#9470aa"/>
<line x1="198.1" y1="672.4" x2="297.4" y2="672.4" stroke="#cdcdcd" stroke-width="0.75" />
<line x1="198.1" y1="672.2" x2="297.4" y2="672.2" stroke="#9470aa" stroke-width="0.6" opacity="0.35"/>
<path d="M198.1,692.5L201.3,692.5L201.6,692.4L201.8,692.3L202.1,692.1L202.3,691.8L202.6,691.5L202.8,691.3L203.1,691.3L203.3,691.5L203.6,691.8L203.8,692.1L204.1,692.3L204.3,692.4L204.6,692.5L206.3,692.5L206.6,692.4L206.8,692.3L207.1,692.0L207.3,691.7L207.6,691.3L207.8,691.0L208.1,691.0L208.3,691.2L208.6,691.6L208.8,692.0L209.1,692.2L209.3,692.4L209.6,692.5L209.8,692.5L216.1,692.5L216.3,692.4L216.6,692.2L216.8,691.8L217.1,691.2L217.3,690.6L217.6,690.5L217.8,691.0L218.1,691.7L218.3,692.2L218.6,692.4L218.8,692.5L219.1,692.5L219.3,692.4L219.6,692.2L219.8,691.5L220.1,690.3L220.3,689.1L220.6,688.5L220.8,689.1L221.1,690.3L221.3,691.5L221.6,692.2L221.8,692.4L222.1,692.5L227.6,692.5L227.8,692.4L228.1,692.4L228.3,692.3L228.6,692.3L228.8,692.2L229.1,692.1L229.3,692.0L229.6,691.9L229.8,691.9L230.1,691.9L230.3,691.9L230.6,692.0L230.8,692.1L231.1,692.2L231.3,692.3L231.6,692.3L231.8,692.4L232.1,692.4L232.3,692.5L260.1,692.5L260.4,692.5L260.6,692.4L260.9,692.3L261.1,692.1L261.4,692.0L261.6,691.8L261.9,691.7L262.1,691.7L262.4,691.8L262.6,691.9L262.9,692.1L263.1,692.3L263.4,692.4L263.6,692.4L263.9,692.5L270.9,692.5L271.1,692.4L271.4,692.1L271.6,691.8L271.9,691.6L272.1,691.5L272.4,691.8L272.6,692.1L272.9,692.3L273.1,692.4L273.4,692.5L297.4,692.5Z" fill="#c0559d"/>
<line x1="198.1" y1="692.5" x2="297.4" y2="692.5" stroke="#cdcdcd" stroke-width="0.75" />
<line x1="198.1" y1="692.3" x2="297.4" y2="692.3" stroke="#c0559d" stroke-width="0.6" opacity="0.35"/>
<text x="177.3" y="648" font-size="7.6" text-anchor="middle" transform="rotate(-90 177.3 648)" textLength="60" lengthAdjust="spacingAndGlyphs">Normalized signal</text>
<text x="185.9" y="648" font-size="7.6" text-anchor="middle" transform="rotate(-90 185.9 648)" textLength="43" lengthAdjust="spacingAndGlyphs">(range 0–69)</text>
<line x1="194" y1="702.6" x2="194" y2="721.8" stroke="#aaa" stroke-width="0.8" />
<text x="187" y="711.5" font-size="7.2" text-anchor="middle" fill="#262626" transform="rotate(-90 187 711.5)">Genes</text>
<line x1="201.9" y1="706.6" x2="230.5" y2="706.6" stroke="#2b3990" stroke-width="1.35" />
<line x1="201.9" y1="706.6" x2="230.5" y2="706.6" stroke="#2b3990" stroke-width="2.2" stroke-dasharray="0.7 1.3"/>
<rect x="230.5" y="704.9" width="2.3" height="3.4" fill="#2b3990" />
<text x="220.6" y="703.1" font-size="7.4" text-anchor="middle" fill="#262626">ICOS</text>
<line x1="198.4" y1="715.4" x2="297.7" y2="715.4" stroke="#777" stroke-width="0.7" />
<line x1="206.6" y1="715.4" x2="206.6" y2="717.6" stroke="#777" stroke-width="0.7" />
<line x1="230.8" y1="715.4" x2="230.8" y2="717.6" stroke="#777" stroke-width="0.7" />
<line x1="255.3" y1="715.4" x2="255.3" y2="717.6" stroke="#777" stroke-width="0.7" />
<line x1="279.5" y1="715.4" x2="279.5" y2="717.6" stroke="#777" stroke-width="0.7" />
<text x="214.4" y="724.1" font-size="5.9" text-anchor="middle" fill="#444">203,940,000</text>
<text x="258.4" y="724.1" font-size="5.9" text-anchor="middle" fill="#444">203,980,000</text>
<text x="248" y="733.6" font-size="7.1" text-anchor="middle" fill="#262626">chr2 position (bp)</text>
<line x1="324.3" y1="613.4" x2="324.3" y2="692.8" stroke="#9a9a9a" stroke-width="0.8" />
<line x1="321.7" y1="632.3" x2="324.3" y2="632.3" stroke="#9a9a9a" stroke-width="0.7" />
<line x1="321.7" y1="627.27" x2="324.3" y2="627.27" stroke="#9a9a9a" stroke-width="0.7" />
<line x1="321.7" y1="622.25" x2="324.3" y2="622.25" stroke="#9a9a9a" stroke-width="0.7" />
<line x1="321.7" y1="617.22" x2="324.3" y2="617.22" stroke="#9a9a9a" stroke-width="0.7" />
<line x1="321.7" y1="652.4" x2="324.3" y2="652.4" stroke="#9a9a9a" stroke-width="0.7" />
<line x1="321.7" y1="647.38" x2="324.3" y2="647.38" stroke="#9a9a9a" stroke-width="0.7" />
<line x1="321.7" y1="642.35" x2="324.3" y2="642.35" stroke="#9a9a9a" stroke-width="0.7" />
<line x1="321.7" y1="637.32" x2="324.3" y2="637.32" stroke="#9a9a9a" stroke-width="0.7" />
<line x1="321.7" y1="672.4" x2="324.3" y2="672.4" stroke="#9a9a9a" stroke-width="0.7" />
<line x1="321.7" y1="667.38" x2="324.3" y2="667.38" stroke="#9a9a9a" stroke-width="0.7" />
<line x1="321.7" y1="662.35" x2="324.3" y2="662.35" stroke="#9a9a9a" stroke-width="0.7" />
<line x1="321.7" y1="657.32" x2="324.3" y2="657.32" stroke="#9a9a9a" stroke-width="0.7" />
<line x1="321.7" y1="692.5" x2="324.3" y2="692.5" stroke="#9a9a9a" stroke-width="0.7" />
<line x1="321.7" y1="687.48" x2="324.3" y2="687.48" stroke="#9a9a9a" stroke-width="0.7" />
<line x1="321.7" y1="682.45" x2="324.3" y2="682.45" stroke="#9a9a9a" stroke-width="0.7" />
<line x1="321.7" y1="677.42" x2="324.3" y2="677.42" stroke="#9a9a9a" stroke-width="0.7" />
<path d="M327.7,632.3L331.9,632.3L332.2,632.3L332.4,632.2L332.7,632.2L332.9,632.2L333.2,632.2L333.4,632.2L333.7,632.2L333.9,632.2L334.2,632.2L334.4,632.2L334.7,632.2L334.9,632.2L335.2,632.2L335.4,632.1L335.7,632.1L335.9,632.1L336.2,632.1L336.4,632.1L336.7,632.1L336.9,632.1L337.2,632.1L337.4,632.1L337.7,632.0L337.9,632.0L338.2,632.0L338.4,632.0L338.7,632.0L338.9,632.0L339.2,632.0L339.4,632.0L339.7,632.0L339.9,632.0L340.2,632.0L340.4,632.0L340.7,632.0L340.9,632.0L341.2,632.0L341.4,632.0L341.7,632.0L341.9,632.0L342.2,632.0L342.4,632.1L342.7,632.1L342.9,632.1L343.2,632.1L343.4,632.1L343.7,632.1L343.9,632.1L344.2,632.1L344.4,632.1L344.7,632.1L344.9,632.2L345.2,632.2L345.4,632.2L345.7,632.2L345.9,632.2L346.2,632.2L346.4,632.2L346.7,632.2L346.9,632.2L347.2,632.2L347.4,632.2L347.7,632.3L347.9,632.3L348.2,632.3L357.4,632.3L357.7,632.3L357.9,632.2L358.2,632.2L358.4,632.2L358.7,632.2L358.9,632.2L359.2,632.1L359.4,632.1L359.7,632.1L359.9,632.0L360.2,632.0L360.4,631.9L360.7,631.8L360.9,631.7L361.2,631.7L361.4,631.6L361.7,631.5L361.9,631.4L362.2,631.3L362.4,631.2L362.7,631.1L362.9,631.0L363.2,630.9L363.4,630.8L363.7,630.7L363.9,630.6L364.2,630.5L364.4,630.5L364.7,630.4L364.9,630.4L365.2,630.3L365.4,630.3L365.7,630.3L365.9,630.3L366.2,630.3L366.4,630.3L366.7,630.3L366.9,630.4L367.2,630.4L367.4,630.5L367.7,630.5L367.9,630.6L368.2,630.7L368.4,630.8L368.7,630.9L368.9,631.0L369.2,631.1L369.4,631.2L369.7,631.3L369.9,631.4L370.2,631.5L370.4,631.5L370.7,631.6L370.9,631.7L371.2,631.8L371.4,631.9L371.7,631.9L371.9,632.0L372.2,632.0L372.4,632.1L372.7,632.1L372.9,632.2L373.2,632.2L373.4,632.2L373.7,632.2L373.9,632.2L374.2,632.3L374.4,632.3L381.4,632.3L381.7,632.3L381.9,632.2L382.2,632.2L382.4,632.2L382.7,632.2L382.9,632.1L383.2,632.1L383.4,632.1L383.7,632.0L383.9,632.0L384.2,632.0L384.4,631.9L384.7,631.9L384.9,631.9L385.2,631.8L385.4,631.8L385.7,631.8L385.9,631.8L386.2,631.8L386.4,631.8L386.7,631.8L386.9,631.9L387.2,631.9L387.4,631.9L387.7,632.0L387.9,632.0L388.2,632.0L388.4,632.1L388.7,632.1L388.9,632.1L389.2,632.2L389.4,632.2L389.7,632.2L389.9,632.2L390.2,632.2L390.4,632.3L390.7,632.3L403.7,632.3L403.9,632.2L404.2,632.2L404.4,632.2L404.7,632.2L404.9,632.2L405.2,632.1L405.4,632.1L405.7,632.1L405.9,632.1L406.2,632.0L406.4,632.0L406.7,632.0L406.9,632.0L407.2,631.9L407.4,631.9L407.7,631.9L407.9,631.9L408.2,631.9L408.4,631.9L408.7,631.9L408.9,631.9L409.2,632.0L409.4,632.0L409.7,632.0L409.9,632.1L410.2,632.1L410.4,632.1L410.7,632.1L410.9,632.2L411.2,632.2L411.4,632.2L411.7,632.2L411.9,632.2L412.2,632.3L412.4,632.3L426.8,632.3Z" fill="#5daa3e"/>
<line x1="327.7" y1="632.3" x2="426.8" y2="632.3" stroke="#cdcdcd" stroke-width="0.75" />
<line x1="327.7" y1="632.1" x2="426.8" y2="632.1" stroke="#5daa3e" stroke-width="0.6" opacity="0.35"/>
<path d="M327.7,652.4L343.9,652.4L344.2,652.4L344.4,652.3L344.7,652.3L344.9,652.3L345.2,652.3L345.4,652.3L345.7,652.3L345.9,652.3L346.2,652.3L346.4,652.3L346.7,652.2L346.9,652.2L347.2,652.2L347.4,652.2L347.7,652.2L347.9,652.2L348.2,652.1L348.4,652.1L348.7,652.1L348.9,652.1L349.2,652.1L349.4,652.1L349.7,652.1L349.9,652.1L350.2,652.1L350.4,652.1L350.7,652.1L350.9,652.1L351.2,652.1L351.4,652.1L351.7,652.1L351.9,652.2L352.2,652.2L352.4,652.2L352.7,652.2L352.9,652.2L353.2,652.2L353.4,652.2L353.7,652.3L353.9,652.3L354.2,652.3L354.4,652.3L354.7,652.3L354.9,652.3L355.2,652.3L355.4,652.3L355.7,652.3L355.9,652.4L356.2,652.4L357.7,652.4L357.9,652.4L358.2,652.3L358.4,652.3L358.7,652.3L358.9,652.3L359.2,652.3L359.4,652.2L359.7,652.2L359.9,652.2L360.2,652.1L360.4,652.0L360.7,652.0L360.9,651.9L361.2,651.8L361.4,651.7L361.7,651.5L361.9,651.4L362.2,651.2L362.4,651.0L362.7,650.8L362.9,650.6L363.2,650.3L363.4,650.1L363.7,649.8L363.9,649.5L364.2,649.3L364.4,649.0L364.7,648.7L364.9,648.5L365.2,648.3L365.4,648.1L365.7,647.9L365.9,647.8L366.2,647.8L366.4,647.8L366.7,647.9L366.9,648.1L367.2,648.3L367.4,648.5L367.7,648.7L367.9,649.0L368.2,649.3L368.4,649.5L368.7,649.8L368.9,650.1L369.2,650.3L369.4,650.6L369.7,650.8L369.9,651.0L370.2,651.2L370.4,651.4L370.7,651.5L370.9,651.7L371.2,651.8L371.4,651.9L371.7,652.0L371.9,652.0L372.2,652.1L372.4,652.2L372.7,652.2L372.9,652.3L373.2,652.3L373.4,652.3L373.7,652.3L373.9,652.3L374.2,652.4L374.4,652.4L403.2,652.4L403.4,652.4L403.7,652.3L403.9,652.3L404.2,652.3L404.4,652.2L404.7,652.1L404.9,652.0L405.2,651.9L405.4,651.8L405.7,651.7L405.9,651.5L406.2,651.4L406.4,651.3L406.7,651.1L406.9,651.0L407.2,650.9L407.4,650.9L407.7,650.9L407.9,650.9L408.2,651.0L408.4,651.1L408.7,651.2L408.9,651.4L409.2,651.5L409.4,651.7L409.7,651.8L409.9,651.9L410.2,652.0L410.4,652.1L410.7,652.2L410.9,652.3L411.2,652.3L411.4,652.3L411.7,652.4L411.9,652.4L426.8,652.4Z" fill="#1fa5dc"/>
<line x1="327.7" y1="652.4" x2="426.8" y2="652.4" stroke="#cdcdcd" stroke-width="0.75" />
<line x1="327.7" y1="652.2" x2="426.8" y2="652.2" stroke="#1fa5dc" stroke-width="0.6" opacity="0.35"/>
<path d="M327.7,672.4L330.9,672.4L331.2,672.4L331.4,672.3L331.7,672.3L331.9,672.3L332.2,672.2L332.4,672.2L332.7,672.1L332.9,672.0L333.2,672.0L333.4,671.9L333.7,671.8L333.9,671.6L334.2,671.5L334.4,671.4L334.7,671.3L334.9,671.2L335.2,671.1L335.4,671.0L335.7,671.0L335.9,670.9L336.2,670.9L336.4,670.9L336.7,670.9L336.9,670.9L337.2,670.9L337.4,670.9L337.7,671.0L337.9,671.0L338.2,671.1L338.4,671.2L338.7,671.2L338.9,671.3L339.2,671.3L339.4,671.4L339.7,671.4L339.9,671.4L340.2,671.3L340.4,671.3L340.7,671.2L340.9,671.1L341.2,671.0L341.4,670.8L341.7,670.7L341.9,670.5L342.2,670.3L342.4,670.2L342.7,670.0L342.9,669.9L343.2,669.7L343.4,669.6L343.7,669.4L343.9,669.3L344.2,669.2L344.4,669.1L344.7,669.0L344.9,669.0L345.2,668.9L345.4,668.8L345.7,668.8L345.9,668.8L346.2,668.7L346.4,668.7L346.7,668.7L346.9,668.7L347.2,668.7L347.4,668.8L347.7,668.8L347.9,668.9L348.2,669.0L348.4,669.1L348.7,669.2L348.9,669.3L349.2,669.4L349.4,669.6L349.7,669.7L349.9,669.8L350.2,669.9L350.4,670.0L350.7,670.1L350.9,670.2L351.2,670.3L351.4,670.3L351.7,670.3L351.9,670.3L352.2,670.2L352.4,670.1L352.7,670.0L352.9,669.8L353.2,669.6L353.4,669.3L353.7,669.0L353.9,668.7L354.2,668.4L354.4,668.0L354.7,667.7L354.9,667.4L355.2,667.1L355.4,666.8L355.7,666.6L355.9,666.5L356.2,666.4L356.4,666.4L356.7,666.5L356.9,666.6L357.2,666.7L357.4,666.9L357.7,667.2L357.9,667.5L358.2,667.9L358.4,668.3L358.7,668.7L358.9,669.1L359.2,669.5L359.4,670.0L359.7,670.3L359.9,670.7L360.2,670.9L360.4,671.2L360.7,671.4L360.9,671.5L361.2,671.5L361.4,671.5L361.7,671.4L361.9,671.1L362.2,670.8L362.4,670.3L362.7,669.7L362.9,669.0L363.2,668.2L363.4,667.2L363.7,666.1L363.9,664.9L364.2,663.7L364.4,662.4L364.7,661.2L364.9,660.0L365.2,658.9L365.4,658.0L365.7,657.1L365.9,656.5L366.2,656.0L366.4,655.7L366.7,655.5L366.9,655.4L367.2,655.4L367.4,655.5L367.7,655.6L367.9,655.9L368.2,656.4L368.4,657.0L368.7,657.8L368.9,658.7L369.2,659.8L369.4,661.0L369.7,662.2L369.9,663.4L370.2,664.7L370.4,665.9L370.7,667.0L370.9,667.9L371.2,668.8L371.4,669.5L371.7,670.1L371.9,670.6L372.2,670.9L372.4,671.2L372.7,671.3L372.9,671.4L373.2,671.5L373.4,671.5L373.7,671.5L373.9,671.5L374.2,671.5L374.4,671.5L374.7,671.5L374.9,671.5L375.2,671.5L375.4,671.5L375.7,671.5L375.9,671.5L376.2,671.6L376.4,671.6L376.7,671.7L376.9,671.8L377.2,671.8L377.4,671.9L377.7,672.0L377.9,672.1L378.2,672.1L378.4,672.2L378.7,672.2L378.9,672.3L379.2,672.3L379.4,672.3L379.7,672.3L379.9,672.2L380.2,672.2L380.4,672.1L380.7,672.0L380.9,671.9L381.2,671.7L381.4,671.4L381.7,671.1L381.9,670.7L382.2,670.3L382.4,669.8L382.7,669.3L382.9,668.6L383.2,668.0L383.4,667.4L383.7,666.7L383.9,666.1L384.2,665.4L384.4,664.9L384.7,664.4L384.9,664.0L385.2,663.7L385.4,663.4L385.7,663.3L385.9,663.2L386.2,663.2L386.4,663.2L386.7,663.3L386.9,663.4L387.2,663.7L387.4,664.0L387.7,664.4L387.9,664.9L388.2,665.4L388.4,666.1L388.7,666.7L388.9,667.4L389.2,668.0L389.4,668.6L389.7,669.2L389.9,669.8L390.2,670.3L390.4,670.7L390.7,671.1L390.9,671.4L391.2,671.6L391.4,671.8L391.7,672.0L391.9,672.1L392.2,672.1L392.4,672.2L392.7,672.2L392.9,672.2L393.2,672.1L393.4,672.1L393.7,672.1L393.9,672.0L394.2,672.0L394.4,672.0L394.7,671.9L394.9,671.9L395.2,671.8L395.4,671.8L395.7,671.8L395.9,671.8L396.2,671.8L396.4,671.8L396.7,671.8L396.9,671.9L397.2,671.9L397.4,671.9L397.7,672.0L397.9,672.0L398.2,672.1L398.4,672.1L398.7,672.2L398.9,672.2L399.2,672.2L399.4,672.3L399.7,672.3L399.9,672.3L400.2,672.3L400.4,672.3L400.7,672.3L400.9,672.3L401.2,672.3L401.4,672.3L401.7,672.2L401.9,672.2L402.2,672.0L402.4,671.9L402.7,671.7L402.9,671.5L403.2,671.2L403.4,670.8L403.7,670.4L403.9,669.9L404.2,669.3L404.4,668.7L404.7,668.1L404.9,667.4L405.2,666.8L405.4,666.1L405.7,665.5L405.9,665.0L406.2,664.5L406.4,664.1L406.7,663.8L406.9,663.6L407.2,663.5L407.4,663.4L407.7,663.4L407.9,663.4L408.2,663.5L408.4,663.7L408.7,664.0L408.9,664.4L409.2,664.8L409.4,665.4L409.7,666.0L409.9,666.6L410.2,667.3L410.4,667.9L410.7,668.6L410.9,669.2L411.2,669.7L411.4,670.2L411.7,670.6L411.9,671.0L412.2,671.3L412.4,671.5L412.7,671.7L412.9,671.8L413.2,671.9L413.4,671.9L413.7,672.0L413.9,672.0L414.2,672.0L414.4,672.0L414.7,672.0L414.9,672.0L415.2,672.0L415.4,672.0L415.7,672.0L415.9,672.0L416.2,672.1L416.4,672.1L416.7,672.1L416.9,672.2L417.2,672.2L417.4,672.2L417.7,672.2L417.9,672.3L418.2,672.3L418.4,672.3L418.7,672.3L418.9,672.3L419.2,672.4L419.4,672.4L426.8,672.4Z" fill="#9470aa"/>
<line x1="327.7" y1="672.4" x2="426.8" y2="672.4" stroke="#cdcdcd" stroke-width="0.75" />
<line x1="327.7" y1="672.2" x2="426.8" y2="672.2" stroke="#9470aa" stroke-width="0.6" opacity="0.35"/>
<path d="M327.7,692.5L351.2,692.5L351.4,692.4L351.7,692.4L351.9,692.4L352.2,692.4L352.4,692.3L352.7,692.2L352.9,692.2L353.2,692.1L353.4,692.0L353.7,691.9L353.9,691.7L354.2,691.6L354.4,691.5L354.7,691.4L354.9,691.2L355.2,691.1L355.4,691.1L355.7,691.0L355.9,691.0L356.2,691.0L356.4,691.0L356.7,691.1L356.9,691.2L357.2,691.3L357.4,691.4L357.7,691.6L357.9,691.7L358.2,691.8L358.4,691.9L358.7,692.0L358.9,692.1L359.2,692.2L359.4,692.2L359.7,692.2L359.9,692.3L360.2,692.3L360.4,692.2L360.7,692.2L360.9,692.1L361.2,692.1L361.4,692.0L361.7,691.8L361.9,691.7L362.2,691.5L362.4,691.3L362.7,691.1L362.9,690.9L363.2,690.6L363.4,690.4L363.7,690.1L363.9,689.8L364.2,689.5L364.4,689.2L364.7,688.9L364.9,688.7L365.2,688.5L365.4,688.3L365.7,688.1L365.9,688.1L366.2,688.0L366.4,688.0L366.7,688.1L366.9,688.2L367.2,688.3L367.4,688.5L367.7,688.7L367.9,689.0L368.2,689.3L368.4,689.6L368.7,689.8L368.9,690.1L369.2,690.4L369.4,690.7L369.7,690.9L369.9,691.2L370.2,691.4L370.4,691.6L370.7,691.7L370.9,691.9L371.2,692.0L371.4,692.1L371.7,692.2L371.9,692.3L372.2,692.3L372.4,692.4L372.7,692.4L372.9,692.4L373.2,692.4L373.4,692.5L373.7,692.5L380.7,692.5L380.9,692.5L381.2,692.4L381.4,692.4L381.7,692.4L381.9,692.4L382.2,692.3L382.4,692.3L382.7,692.2L382.9,692.2L383.2,692.1L383.4,692.1L383.7,692.0L383.9,691.9L384.2,691.8L384.4,691.8L384.7,691.7L384.9,691.6L385.2,691.6L385.4,691.5L385.7,691.5L385.9,691.5L386.2,691.5L386.4,691.5L386.7,691.6L386.9,691.6L387.2,691.7L387.4,691.7L387.7,691.8L387.9,691.9L388.2,692.0L388.4,692.0L388.7,692.1L388.9,692.2L389.2,692.2L389.4,692.3L389.7,692.3L389.9,692.4L390.2,692.4L390.4,692.4L390.7,692.4L390.9,692.5L391.2,692.5L392.4,692.5L392.7,692.5L392.9,692.4L393.2,692.4L393.4,692.4L393.7,692.3L393.9,692.3L394.2,692.3L394.4,692.2L394.7,692.2L394.9,692.1L395.2,692.1L395.4,692.0L395.7,692.0L395.9,692.0L396.2,692.0L396.4,692.0L396.7,692.1L396.9,692.1L397.2,692.1L397.4,692.2L397.7,692.2L397.9,692.3L398.2,692.3L398.4,692.4L398.7,692.4L398.9,692.4L399.2,692.4L399.4,692.5L403.4,692.5L403.7,692.5L403.9,692.4L404.2,692.4L404.4,692.4L404.7,692.4L404.9,692.3L405.2,692.3L405.4,692.2L405.7,692.1L405.9,692.1L406.2,692.0L406.4,691.9L406.7,691.9L406.9,691.8L407.2,691.8L407.4,691.7L407.7,691.7L407.9,691.7L408.2,691.7L408.4,691.7L408.7,691.8L408.9,691.8L409.2,691.9L409.4,691.9L409.7,692.0L409.9,692.1L410.2,692.1L410.4,692.2L410.7,692.2L410.9,692.3L411.2,692.3L411.4,692.4L411.7,692.4L411.9,692.4L412.2,692.4L412.4,692.5L426.8,692.5Z" fill="#c0559d"/>
<line x1="327.7" y1="692.5" x2="426.8" y2="692.5" stroke="#cdcdcd" stroke-width="0.75" />
<line x1="327.7" y1="692.3" x2="426.8" y2="692.3" stroke="#c0559d" stroke-width="0.6" opacity="0.35"/>
<rect x="365.15" y="613.7" width="1.7" height="18.3" fill="#f0a898" opacity="0.6"/>
<rect x="365.15" y="633.8" width="1.7" height="18.3" fill="#f0a898" opacity="0.6"/>
<rect x="365.15" y="653.8" width="1.7" height="18.3" fill="#f0a898" opacity="0.6"/>
<rect x="365.15" y="673.9" width="1.7" height="18.3" fill="#f0a898" opacity="0.6"/>
<text x="307" y="648" font-size="7.6" text-anchor="middle" transform="rotate(-90 307 648)" textLength="60" lengthAdjust="spacingAndGlyphs">Normalized signal</text>
<text x="315.6" y="648" font-size="7.6" text-anchor="middle" transform="rotate(-90 315.6 648)" textLength="43" lengthAdjust="spacingAndGlyphs">(range 0–44)</text>
<line x1="324.3" y1="702.6" x2="324.3" y2="721.8" stroke="#aaa" stroke-width="0.8" />
<text x="317.3" y="711.5" font-size="7.2" text-anchor="middle" fill="#262626" transform="rotate(-90 317.3 711.5)">Genes</text>
<text x="364.8" y="605.5" font-size="5.8" fill="#262626" textLength="27.3" lengthAdjust="spacingAndGlyphs">rs1392291</text>
<text x="368.8" y="612.2" font-size="5.8" fill="#262626" textLength="33.2" lengthAdjust="spacingAndGlyphs">rs13066062</text>
<line x1="332.7" y1="706.4" x2="421.9" y2="706.4" stroke="#2b3990" stroke-width="1.35" />
<line x1="332.7" y1="706.4" x2="421.9" y2="706.4" stroke="#2b3990" stroke-width="2.2" stroke-dasharray="0.7 1.3"/>
<rect x="349.6" y="704.8" width="1.8" height="3.2" fill="#2b3990" />
<rect x="396.2" y="704.8" width="1.8" height="3.2" fill="#2b3990" />
<rect x="416" y="704.8" width="1.8" height="3.2" fill="#2b3990" />
<text x="368" y="703" font-size="7.4" text-anchor="middle" fill="#262626">FYCO1</text>
<line x1="327.7" y1="715.3" x2="426.8" y2="715.3" stroke="#777" stroke-width="0.7" />
<line x1="347.5" y1="715.3" x2="347.5" y2="717.5" stroke="#777" stroke-width="0.7" />
<line x1="373.9" y1="715.3" x2="373.9" y2="717.5" stroke="#777" stroke-width="0.7" />
<line x1="401.1" y1="715.3" x2="401.1" y2="717.5" stroke="#777" stroke-width="0.7" />
<line x1="426.8" y1="715.3" x2="426.8" y2="717.5" stroke="#777" stroke-width="0.7" />
<text x="349.5" y="723.4" font-size="5.9" text-anchor="middle" fill="#444">45,975,000</text>
<text x="402" y="723.4" font-size="5.9" text-anchor="middle" fill="#444">45,980,000</text>
<text x="377.3" y="733" font-size="7.1" text-anchor="middle" fill="#262626">chr3 position (bp)</text>
<line x1="451.8" y1="613.4" x2="451.8" y2="692.8" stroke="#9a9a9a" stroke-width="0.8" />
<line x1="449.2" y1="632.3" x2="451.8" y2="632.3" stroke="#9a9a9a" stroke-width="0.7" />
<line x1="449.2" y1="627.27" x2="451.8" y2="627.27" stroke="#9a9a9a" stroke-width="0.7" />
<line x1="449.2" y1="622.25" x2="451.8" y2="622.25" stroke="#9a9a9a" stroke-width="0.7" />
<line x1="449.2" y1="617.22" x2="451.8" y2="617.22" stroke="#9a9a9a" stroke-width="0.7" />
<line x1="449.2" y1="652.4" x2="451.8" y2="652.4" stroke="#9a9a9a" stroke-width="0.7" />
<line x1="449.2" y1="647.38" x2="451.8" y2="647.38" stroke="#9a9a9a" stroke-width="0.7" />
<line x1="449.2" y1="642.35" x2="451.8" y2="642.35" stroke="#9a9a9a" stroke-width="0.7" />
<line x1="449.2" y1="637.32" x2="451.8" y2="637.32" stroke="#9a9a9a" stroke-width="0.7" />
<line x1="449.2" y1="672.4" x2="451.8" y2="672.4" stroke="#9a9a9a" stroke-width="0.7" />
<line x1="449.2" y1="667.38" x2="451.8" y2="667.38" stroke="#9a9a9a" stroke-width="0.7" />
<line x1="449.2" y1="662.35" x2="451.8" y2="662.35" stroke="#9a9a9a" stroke-width="0.7" />
<line x1="449.2" y1="657.32" x2="451.8" y2="657.32" stroke="#9a9a9a" stroke-width="0.7" />
<line x1="449.2" y1="692.5" x2="451.8" y2="692.5" stroke="#9a9a9a" stroke-width="0.7" />
<line x1="449.2" y1="687.48" x2="451.8" y2="687.48" stroke="#9a9a9a" stroke-width="0.7" />
<line x1="449.2" y1="682.45" x2="451.8" y2="682.45" stroke="#9a9a9a" stroke-width="0.7" />
<line x1="449.2" y1="677.42" x2="451.8" y2="677.42" stroke="#9a9a9a" stroke-width="0.7" />
<path d="M457.1,632.3L500.9,632.3L501.1,632.3L501.4,632.2L501.6,632.0L501.9,631.8L502.1,631.4L502.4,631.0L502.6,630.8L502.9,630.8L503.1,631.1L503.4,631.5L503.6,631.8L503.9,632.1L504.1,632.2L504.4,632.3L514.1,632.3L514.4,632.2L514.6,632.2L514.9,632.1L515.1,632.0L515.4,631.9L515.6,631.9L515.9,631.8L516.1,631.8L516.4,631.8L516.6,631.9L516.9,632.0L517.1,632.1L517.4,632.2L517.6,632.2L517.9,632.3L556.8,632.3Z" fill="#5daa3e"/>
<line x1="457.1" y1="632.3" x2="556.8" y2="632.3" stroke="#cdcdcd" stroke-width="0.75" />
<line x1="457.1" y1="632.1" x2="556.8" y2="632.1" stroke="#5daa3e" stroke-width="0.6" opacity="0.35"/>
<path d="M457.1,652.4L475.1,652.4L475.4,652.3L475.6,652.2L475.9,652.0L476.1,651.8L476.4,651.3L476.6,650.8L476.9,650.2L477.1,649.8L477.4,649.5L477.6,649.4L477.9,649.7L478.1,650.1L478.4,650.7L478.6,651.2L478.9,651.7L479.1,652.0L479.4,652.2L479.6,652.3L479.9,652.4L480.1,652.4L500.9,652.4L501.1,652.3L501.4,652.2L501.6,652.0L501.9,651.7L502.1,651.2L502.4,650.7L502.6,650.4L502.9,650.5L503.1,650.8L503.4,651.3L503.6,651.8L503.9,652.1L504.1,652.3L504.4,652.4L504.6,652.4L513.1,652.4L513.4,652.3L513.6,652.2L513.9,652.1L514.1,651.9L514.4,651.6L514.6,651.2L514.9,650.7L515.1,650.2L515.4,649.8L515.6,649.5L515.9,649.4L516.1,649.6L516.4,649.9L516.6,650.4L516.9,650.9L517.1,651.3L517.4,651.7L517.6,652.0L517.9,652.2L518.1,652.3L518.4,652.3L518.6,652.4L527.6,652.4L527.9,652.4L528.1,652.3L528.4,652.2L528.6,652.0L528.9,651.7L529.1,651.4L529.4,651.1L529.6,650.9L529.9,650.9L530.1,651.1L530.4,651.4L530.6,651.7L530.9,652.0L531.1,652.2L531.4,652.3L531.6,652.3L531.9,652.3L532.1,652.2L532.4,652.0L532.6,651.7L532.9,651.3L533.1,650.9L533.4,650.5L533.6,650.4L533.9,650.5L534.1,650.9L534.4,651.3L534.6,651.7L534.9,652.0L535.1,652.2L535.4,652.3L535.6,652.4L538.6,652.4L538.9,652.3L539.1,652.3L539.4,652.2L539.6,652.1L539.9,652.0L540.1,651.9L540.4,651.8L540.6,651.8L540.9,651.8L541.1,651.9L541.4,652.0L541.6,652.1L541.9,652.2L542.1,652.3L542.4,652.3L542.6,652.4L556.8,652.4Z" fill="#1fa5dc"/>
<line x1="457.1" y1="652.4" x2="556.8" y2="652.4" stroke="#cdcdcd" stroke-width="0.75" />
<line x1="457.1" y1="652.2" x2="556.8" y2="652.2" stroke="#1fa5dc" stroke-width="0.6" opacity="0.35"/>
<path d="M457.1,672.4L462.6,672.4L462.9,672.4L463.1,672.3L463.4,672.3L463.6,672.3L463.9,672.2L464.1,672.2L464.4,672.1L464.6,672.0L464.9,671.9L465.1,671.8L465.4,671.7L465.6,671.6L465.9,671.5L466.1,671.5L466.4,671.4L466.6,671.4L466.9,671.4L467.1,671.5L467.4,671.5L467.6,671.6L467.9,671.7L468.1,671.8L468.4,671.9L468.6,672.0L468.9,672.1L469.1,672.2L469.4,672.2L469.6,672.3L469.9,672.3L470.1,672.3L470.4,672.4L470.6,672.4L474.9,672.4L475.1,672.3L475.4,672.3L475.6,672.1L475.9,671.9L476.1,671.7L476.4,671.3L476.6,670.9L476.9,670.4L477.1,670.1L477.4,669.8L477.6,669.7L477.9,669.7L478.1,669.9L478.4,670.1L478.6,670.3L478.9,670.6L479.1,670.9L479.4,671.2L479.6,671.5L479.9,671.7L480.1,672.0L480.4,672.1L480.6,672.3L480.9,672.3L481.1,672.4L500.6,672.4L500.9,672.4L501.1,672.3L501.4,672.1L501.6,671.8L501.9,671.3L502.1,670.8L502.4,670.5L502.6,670.4L502.9,670.7L503.1,671.1L503.4,671.6L503.6,671.8L503.9,671.9L504.1,671.7L504.4,671.4L504.6,671.1L504.9,670.9L505.1,670.9L505.4,671.1L505.6,671.3L505.9,671.6L506.1,671.9L506.4,672.0L506.6,672.0L506.9,671.8L507.1,671.6L507.4,671.3L507.6,671.1L507.9,670.9L508.1,670.9L508.4,671.0L508.6,671.3L508.9,671.5L509.1,671.7L509.4,671.9L509.6,671.9L509.9,671.8L510.1,671.6L510.4,671.3L510.6,671.1L510.9,670.9L511.1,670.9L511.4,671.0L511.6,671.3L511.9,671.5L512.1,671.8L512.4,672.0L512.6,672.2L512.9,672.3L513.1,672.3L513.4,672.3L513.6,672.2L513.9,671.8L514.1,671.1L514.4,669.7L514.6,667.5L514.9,664.5L515.1,661.0L515.4,657.5L515.6,654.8L515.9,653.4L516.1,653.3L516.4,654.2L516.6,655.6L516.9,657.0L517.1,658.6L517.4,660.6L517.6,662.9L517.9,665.5L518.1,667.9L518.4,669.8L518.6,671.0L518.9,671.8L519.1,672.1L519.4,672.3L519.6,672.3L519.9,672.2L520.1,672.0L520.4,671.7L520.6,671.4L520.9,671.1L521.1,670.9L521.4,670.9L521.6,671.1L521.9,671.4L522.1,671.7L522.4,672.0L522.6,672.2L522.9,672.3L523.1,672.3L523.4,672.3L523.6,672.2L523.9,672.1L524.1,671.9L524.4,671.6L524.6,671.2L524.9,671.0L525.1,670.9L525.4,671.0L525.6,671.2L525.9,671.6L526.1,671.9L526.4,672.1L526.6,672.2L526.9,672.3L527.1,672.4L527.6,672.4L527.9,672.4L528.1,672.3L528.4,672.0L528.6,671.5L528.9,670.6L529.1,669.4L529.4,668.2L529.6,667.5L529.9,667.6L530.1,668.4L530.4,669.6L530.6,670.8L530.9,671.6L531.1,672.1L531.4,672.3L531.6,672.3L531.9,672.3L532.1,672.0L532.4,671.4L532.6,670.2L532.9,668.3L533.1,666.0L533.4,664.1L533.6,663.4L533.9,664.1L534.1,666.0L534.4,668.3L534.6,670.1L534.9,671.3L535.1,671.8L535.4,671.9L535.6,671.7L535.9,671.3L536.1,670.8L536.4,670.2L536.6,669.8L536.9,669.5L537.1,669.4L537.4,669.7L537.6,670.1L537.9,670.7L538.1,671.2L538.4,671.6L538.6,671.9L538.9,672.0L539.1,671.8L539.4,671.2L539.6,670.4L539.9,669.3L540.1,668.1L540.4,667.2L540.6,666.8L540.9,667.0L541.1,667.6L541.4,668.2L541.6,668.6L541.9,668.8L542.1,668.9L542.4,669.3L542.6,669.9L542.9,670.7L543.1,671.4L543.4,671.9L543.6,672.2L543.9,672.3L544.1,672.4L547.1,672.4L547.4,672.4L547.6,672.3L547.9,672.3L548.1,672.2L548.4,672.1L548.6,672.1L548.9,672.0L549.1,671.9L549.4,671.9L549.6,671.9L549.9,671.9L550.1,672.0L550.4,672.1L550.6,672.1L550.9,672.2L551.1,672.3L551.4,672.3L551.6,672.3L551.9,672.4L556.8,672.4Z" fill="#9470aa"/>
<line x1="457.1" y1="672.4" x2="556.8" y2="672.4" stroke="#cdcdcd" stroke-width="0.75" />
<line x1="457.1" y1="672.2" x2="556.8" y2="672.2" stroke="#9470aa" stroke-width="0.6" opacity="0.35"/>
<path d="M457.1,692.5L475.4,692.5L475.6,692.4L475.9,692.4L476.1,692.3L476.4,692.3L476.6,692.2L476.9,692.2L477.1,692.2L477.4,692.2L477.6,692.3L477.9,692.3L478.1,692.4L478.4,692.4L478.6,692.5L478.9,692.5L500.9,692.5L501.1,692.4L501.4,692.3L501.6,692.1L501.9,691.8L502.1,691.3L502.4,690.8L502.6,690.5L502.9,690.6L503.1,690.9L503.4,691.4L503.6,691.9L503.9,692.2L504.1,692.4L504.4,692.5L504.6,692.5L513.9,692.5L514.1,692.4L514.4,692.3L514.6,692.2L514.9,691.9L515.1,691.6L515.4,691.3L515.6,691.1L515.9,691.0L516.1,691.1L516.4,691.4L516.6,691.7L516.9,692.0L517.1,692.2L517.4,692.4L517.6,692.4L517.9,692.5L531.9,692.5L532.1,692.4L532.4,692.3L532.6,692.0L532.9,691.6L533.1,691.1L533.4,690.7L533.6,690.5L533.9,690.7L534.1,691.1L534.4,691.6L534.6,692.0L534.9,692.3L535.1,692.4L535.4,692.5L556.8,692.5Z" fill="#c0559d"/>
<line x1="457.1" y1="692.5" x2="556.8" y2="692.5" stroke="#cdcdcd" stroke-width="0.75" />
<line x1="457.1" y1="692.3" x2="556.8" y2="692.3" stroke="#c0559d" stroke-width="0.6" opacity="0.35"/>
<rect x="532.85" y="613.7" width="1.5" height="18.3" fill="#f5c0b8" opacity="0.6"/>
<rect x="532.85" y="633.8" width="1.5" height="18.3" fill="#f5c0b8" opacity="0.6"/>
<rect x="532.85" y="653.8" width="1.5" height="18.3" fill="#f5c0b8" opacity="0.6"/>
<rect x="532.85" y="673.9" width="1.5" height="18.3" fill="#f5c0b8" opacity="0.6"/>
<text x="435.8" y="648" font-size="7.6" text-anchor="middle" transform="rotate(-90 435.8 648)" textLength="60" lengthAdjust="spacingAndGlyphs">Normalized signal</text>
<text x="444.4" y="648" font-size="7.6" text-anchor="middle" transform="rotate(-90 444.4 648)" textLength="43" lengthAdjust="spacingAndGlyphs">(range 0–73)</text>
<line x1="451.8" y1="702.6" x2="451.8" y2="721.8" stroke="#aaa" stroke-width="0.8" />
<text x="444.8" y="711.5" font-size="7.2" text-anchor="middle" fill="#262626" transform="rotate(-90 444.8 711.5)">Genes</text>
<text x="519.2" y="612.8" font-size="5.8" fill="#262626" textLength="27.7" lengthAdjust="spacingAndGlyphs">rs77116118</text>
<rect x="460.7" y="704.9" width="6.9" height="3.2" fill="#2b3990" />
<text x="470.2" y="703.4" font-size="7.4" fill="#262626">CCR3</text>
<line x1="457.1" y1="715.3" x2="556.8" y2="715.3" stroke="#777" stroke-width="0.7" />
<line x1="461.1" y1="715.3" x2="461.1" y2="717.5" stroke="#777" stroke-width="0.7" />
<line x1="478.9" y1="715.3" x2="478.9" y2="717.5" stroke="#777" stroke-width="0.7" />
<line x1="497.4" y1="715.3" x2="497.4" y2="717.5" stroke="#777" stroke-width="0.7" />
<line x1="515.2" y1="715.3" x2="515.2" y2="717.5" stroke="#777" stroke-width="0.7" />
<line x1="533" y1="715.3" x2="533" y2="717.5" stroke="#777" stroke-width="0.7" />
<line x1="550.3" y1="715.3" x2="550.3" y2="717.5" stroke="#777" stroke-width="0.7" />
<text x="467.6" y="723.4" font-size="5.9" text-anchor="middle" fill="#444">46,265,000</text>
<text x="498.8" y="723.4" font-size="5.9" text-anchor="middle" fill="#444">46,275,000</text>
<text x="532.5" y="723.4" font-size="5.9" text-anchor="middle" fill="#444">46,285,000</text>
<text x="506.3" y="733" font-size="7.1" text-anchor="middle" fill="#262626">chr3 position (bp)</text>
<line x1="581.8" y1="613.4" x2="581.8" y2="692.8" stroke="#9a9a9a" stroke-width="0.8" />
<line x1="579.2" y1="632.3" x2="581.8" y2="632.3" stroke="#9a9a9a" stroke-width="0.7" />
<line x1="579.2" y1="627.27" x2="581.8" y2="627.27" stroke="#9a9a9a" stroke-width="0.7" />
<line x1="579.2" y1="622.25" x2="581.8" y2="622.25" stroke="#9a9a9a" stroke-width="0.7" />
<line x1="579.2" y1="617.22" x2="581.8" y2="617.22" stroke="#9a9a9a" stroke-width="0.7" />
<line x1="579.2" y1="652.4" x2="581.8" y2="652.4" stroke="#9a9a9a" stroke-width="0.7" />
<line x1="579.2" y1="647.38" x2="581.8" y2="647.38" stroke="#9a9a9a" stroke-width="0.7" />
<line x1="579.2" y1="642.35" x2="581.8" y2="642.35" stroke="#9a9a9a" stroke-width="0.7" />
<line x1="579.2" y1="637.32" x2="581.8" y2="637.32" stroke="#9a9a9a" stroke-width="0.7" />
<line x1="579.2" y1="672.4" x2="581.8" y2="672.4" stroke="#9a9a9a" stroke-width="0.7" />
<line x1="579.2" y1="667.38" x2="581.8" y2="667.38" stroke="#9a9a9a" stroke-width="0.7" />
<line x1="579.2" y1="662.35" x2="581.8" y2="662.35" stroke="#9a9a9a" stroke-width="0.7" />
<line x1="579.2" y1="657.32" x2="581.8" y2="657.32" stroke="#9a9a9a" stroke-width="0.7" />
<line x1="579.2" y1="692.5" x2="581.8" y2="692.5" stroke="#9a9a9a" stroke-width="0.7" />
<line x1="579.2" y1="687.48" x2="581.8" y2="687.48" stroke="#9a9a9a" stroke-width="0.7" />
<line x1="579.2" y1="682.45" x2="581.8" y2="682.45" stroke="#9a9a9a" stroke-width="0.7" />
<line x1="579.2" y1="677.42" x2="581.8" y2="677.42" stroke="#9a9a9a" stroke-width="0.7" />
<path d="M585.8,632.3L593.5,632.3L593.8,632.3L594.0,632.2L594.3,632.2L594.5,632.2L594.8,632.2L595.0,632.2L595.3,632.2L595.5,632.2L595.8,632.1L596.0,632.1L596.3,632.1L596.5,632.1L596.8,632.1L597.0,632.1L597.3,632.0L597.5,632.0L597.8,632.0L598.0,632.0L598.3,632.0L598.5,631.9L598.8,631.9L599.0,631.9L599.3,631.9L599.5,631.9L599.8,631.9L600.0,631.9L600.3,631.9L600.5,631.9L600.8,631.9L601.0,631.9L601.3,631.9L601.5,631.9L601.8,632.0L602.0,632.0L602.3,632.0L602.5,632.0L602.8,632.0L603.0,632.0L603.3,632.0L603.5,632.0L603.8,632.1L604.0,632.1L604.3,632.0L604.5,632.0L604.8,632.0L605.0,632.0L605.3,632.0L605.5,631.9L605.8,631.9L606.0,631.8L606.3,631.8L606.5,631.7L606.8,631.6L607.0,631.5L607.3,631.4L607.5,631.4L607.8,631.3L608.0,631.2L608.3,631.1L608.5,631.0L608.8,631.0L609.0,630.9L609.3,630.9L609.5,630.8L609.8,630.8L610.0,630.8L610.3,630.8L610.5,630.8L610.8,630.9L611.0,630.9L611.3,631.0L611.5,631.1L611.8,631.1L612.0,631.2L612.3,631.3L612.5,631.4L612.8,631.5L613.0,631.6L613.3,631.7L613.5,631.8L613.8,631.8L614.0,631.9L614.3,632.0L614.5,632.0L614.8,632.1L615.0,632.1L615.3,632.1L615.5,632.2L615.8,632.2L616.0,632.2L616.3,632.2L616.5,632.3L616.8,632.3L647.8,632.3L648.0,632.3L648.3,632.2L648.5,632.2L648.8,632.2L649.0,632.2L649.3,632.2L649.5,632.1L649.8,632.1L650.0,632.0L650.3,632.0L650.5,632.0L650.8,631.9L651.0,631.8L651.3,631.8L651.5,631.7L651.8,631.7L652.0,631.6L652.3,631.6L652.5,631.5L652.8,631.4L653.0,631.4L653.3,631.4L653.5,631.3L653.8,631.3L654.0,631.3L654.3,631.3L654.5,631.3L654.8,631.3L655.0,631.4L655.3,631.4L655.5,631.4L655.8,631.5L656.0,631.5L656.3,631.6L656.5,631.7L656.8,631.7L657.0,631.8L657.3,631.8L657.5,631.9L657.8,631.9L658.0,632.0L658.3,632.0L658.5,632.1L658.8,632.1L659.0,632.1L659.3,632.2L659.5,632.2L659.8,632.2L660.0,632.2L660.3,632.2L660.5,632.3L685.0,632.3Z" fill="#5daa3e"/>
<line x1="585.8" y1="632.3" x2="685" y2="632.3" stroke="#cdcdcd" stroke-width="0.75" />
<line x1="585.8" y1="632.1" x2="685" y2="632.1" stroke="#5daa3e" stroke-width="0.6" opacity="0.35"/>
<path d="M585.8,652.4L596.0,652.4L596.3,652.4L596.5,652.3L596.8,652.3L597.0,652.3L597.3,652.3L597.5,652.3L597.8,652.3L598.0,652.2L598.3,652.2L598.5,652.2L598.8,652.1L599.0,652.1L599.3,652.0L599.5,652.0L599.8,651.9L600.0,651.9L600.3,651.8L600.5,651.8L600.8,651.7L601.0,651.7L601.3,651.6L601.5,651.5L601.8,651.5L602.0,651.4L602.3,651.4L602.5,651.3L602.8,651.3L603.0,651.3L603.3,651.2L603.5,651.2L603.8,651.2L604.0,651.2L604.3,651.2L604.5,651.1L604.8,651.1L605.0,651.1L605.3,651.1L605.5,651.0L605.8,651.0L606.0,650.9L606.3,650.8L606.5,650.6L606.8,650.4L607.0,650.2L607.3,650.0L607.5,649.7L607.8,649.4L608.0,649.2L608.3,648.9L608.5,648.6L608.8,648.4L609.0,648.3L609.3,648.2L609.5,648.1L609.8,648.2L610.0,648.3L610.3,648.5L610.5,648.7L610.8,649.0L611.0,649.3L611.3,649.6L611.5,649.9L611.8,650.2L612.0,650.5L612.3,650.7L612.5,650.9L612.8,651.1L613.0,651.3L613.3,651.3L613.5,651.4L613.8,651.5L614.0,651.5L614.3,651.5L614.5,651.5L614.8,651.4L615.0,651.4L615.3,651.4L615.5,651.4L615.8,651.4L616.0,651.4L616.3,651.4L616.5,651.4L616.8,651.4L617.0,651.5L617.3,651.5L617.5,651.6L617.8,651.6L618.0,651.7L618.3,651.7L618.5,651.8L618.8,651.9L619.0,651.9L619.3,652.0L619.5,652.0L619.8,652.1L620.0,652.1L620.3,652.2L620.5,652.2L620.8,652.2L621.0,652.3L621.3,652.3L621.5,652.3L621.8,652.3L622.0,652.3L622.3,652.4L622.5,652.4L633.0,652.4L633.3,652.4L633.5,652.4L633.8,652.3L634.0,652.3L634.3,652.3L634.5,652.3L634.8,652.3L635.0,652.3L635.3,652.3L635.5,652.2L635.8,652.2L636.0,652.2L636.3,652.2L636.5,652.1L636.8,652.1L637.0,652.1L637.3,652.1L637.5,652.0L637.8,652.0L638.0,652.0L638.3,652.0L638.5,652.0L638.8,651.9L639.0,651.9L639.3,651.9L639.5,651.9L639.8,651.9L640.0,651.9L640.3,651.9L640.5,651.9L640.8,651.9L641.0,651.9L641.3,651.9L641.5,651.9L641.8,651.9L642.0,651.9L642.3,651.8L642.5,651.8L642.8,651.7L643.0,651.6L643.3,651.5L643.5,651.4L643.8,651.2L644.0,651.1L644.3,650.9L644.5,650.7L644.8,650.5L645.0,650.3L645.3,650.2L645.5,650.0L645.8,649.9L646.0,649.9L646.3,649.8L646.5,649.9L646.8,650.0L647.0,650.1L647.3,650.2L647.5,650.4L647.8,650.6L648.0,650.8L648.3,651.0L648.5,651.2L648.8,651.4L649.0,651.6L649.3,651.8L649.5,651.9L649.8,652.0L650.0,652.1L650.3,652.2L650.5,652.2L650.8,652.3L651.0,652.3L651.3,652.3L651.5,652.4L685.0,652.4Z" fill="#1fa5dc"/>
<line x1="585.8" y1="652.4" x2="685" y2="652.4" stroke="#cdcdcd" stroke-width="0.75" />
<line x1="585.8" y1="652.2" x2="685" y2="652.2" stroke="#1fa5dc" stroke-width="0.6" opacity="0.35"/>
<path d="M585.8,672.4L593.8,672.4L594.0,672.4L594.3,672.3L594.5,672.3L594.8,672.2L595.0,672.2L595.3,672.1L595.5,672.0L595.8,671.9L596.0,671.7L596.3,671.5L596.5,671.4L596.8,671.2L597.0,671.0L597.3,670.8L597.5,670.6L597.8,670.5L598.0,670.3L598.3,670.2L598.5,670.1L598.8,670.0L599.0,669.9L599.3,669.8L599.5,669.6L599.8,669.5L600.0,669.3L600.3,669.1L600.5,668.9L600.8,668.6L601.0,668.4L601.3,668.1L601.5,667.8L601.8,667.5L602.0,667.2L602.3,666.8L602.5,666.4L602.8,665.9L603.0,665.4L603.3,664.9L603.5,664.3L603.8,663.7L604.0,663.1L604.3,662.6L604.5,662.1L604.8,661.6L605.0,661.2L605.3,660.8L605.5,660.4L605.8,659.9L606.0,659.4L606.3,658.7L606.5,657.8L606.8,656.9L607.0,656.0L607.3,655.1L607.5,654.4L607.8,653.9L608.0,653.7L608.3,653.8L608.5,654.3L608.8,655.1L609.0,656.1L609.3,657.3L609.5,658.5L609.8,659.7L610.0,660.8L610.3,661.6L610.5,662.2L610.8,662.7L611.0,662.9L611.3,663.1L611.5,663.2L611.8,663.4L612.0,663.6L612.3,663.9L612.5,664.4L612.8,664.9L613.0,665.5L613.3,666.2L613.5,666.8L613.8,667.4L614.0,668.0L614.3,668.5L614.5,668.9L614.8,669.2L615.0,669.5L615.3,669.7L615.5,669.9L615.8,670.1L616.0,670.3L616.3,670.5L616.5,670.8L616.8,671.0L617.0,671.2L617.3,671.4L617.5,671.6L617.8,671.8L618.0,671.9L618.3,672.0L618.5,672.1L618.8,672.2L619.0,672.3L619.3,672.3L619.5,672.3L619.8,672.4L627.3,672.4L627.5,672.4L627.8,672.3L628.0,672.3L628.3,672.3L628.5,672.3L628.8,672.3L629.0,672.2L629.3,672.2L629.5,672.1L629.8,672.1L630.0,672.0L630.3,672.0L630.5,671.9L630.8,671.8L631.0,671.8L631.3,671.7L631.5,671.6L631.8,671.5L632.0,671.4L632.3,671.4L632.5,671.3L632.8,671.2L633.0,671.2L633.3,671.1L633.5,671.1L633.8,671.1L634.0,671.0L634.3,671.0L634.5,671.0L634.8,671.0L635.0,671.0L635.3,670.9L635.5,670.9L635.8,670.8L636.0,670.8L636.3,670.6L636.5,670.5L636.8,670.3L637.0,670.1L637.3,669.8L637.5,669.6L637.8,669.3L638.0,668.9L638.3,668.6L638.5,668.3L638.8,668.0L639.0,667.8L639.3,667.6L639.5,667.4L639.8,667.3L640.0,667.3L640.3,667.4L640.5,667.5L640.8,667.7L641.0,668.0L641.3,668.3L641.5,668.6L641.8,668.8L642.0,669.1L642.3,669.2L642.5,669.3L642.8,669.2L643.0,668.9L643.3,668.3L643.5,667.6L643.8,666.5L644.0,665.2L644.3,663.8L644.5,662.2L644.8,660.6L645.0,659.0L645.3,657.7L645.5,656.7L645.8,656.1L646.0,655.9L646.3,656.1L646.5,656.7L646.8,657.5L647.0,658.5L647.3,659.5L647.5,660.5L647.8,661.4L648.0,662.1L648.3,662.6L648.5,662.9L648.8,663.2L649.0,663.3L649.3,663.4L649.5,663.5L649.8,663.7L650.0,663.9L650.3,664.0L650.5,664.2L650.8,664.4L651.0,664.4L651.3,664.5L651.5,664.4L651.8,664.3L652.0,664.2L652.3,664.1L652.5,664.0L652.8,664.0L653.0,664.0L653.3,664.1L653.5,664.1L653.8,664.0L654.0,663.8L654.3,663.2L654.5,662.4L654.8,661.3L655.0,660.0L655.3,658.6L655.5,657.2L655.8,656.0L656.0,655.3L656.3,655.0L656.5,655.1L656.8,655.6L657.0,656.4L657.3,657.3L657.5,658.2L657.8,659.0L658.0,659.6L658.3,660.0L658.5,660.2L658.8,660.4L659.0,660.6L659.3,660.8L659.5,661.1L659.8,661.4L660.0,661.7L660.3,662.0L660.5,662.3L660.8,662.5L661.0,662.6L661.3,662.7L661.5,662.8L661.8,662.9L662.0,663.1L662.3,663.4L662.5,663.7L662.8,664.1L663.0,664.4L663.3,664.7L663.5,664.9L663.8,664.9L664.0,664.9L664.3,664.8L664.5,664.6L664.8,664.5L665.0,664.5L665.3,664.6L665.5,664.9L665.8,665.3L666.0,665.8L666.3,666.3L666.5,666.8L666.8,667.2L667.0,667.5L667.3,667.7L667.5,667.8L667.8,667.9L668.0,667.9L668.3,667.9L668.5,667.9L668.8,668.0L669.0,668.2L669.3,668.4L669.5,668.6L669.8,668.8L670.0,669.1L670.3,669.3L670.5,669.4L670.8,669.6L671.0,669.7L671.3,669.9L671.5,670.0L671.8,670.2L672.0,670.4L672.3,670.6L672.5,670.8L672.8,671.1L673.0,671.3L673.3,671.5L673.5,671.7L673.8,671.9L674.0,672.0L674.3,672.1L674.5,672.2L674.8,672.3L675.0,672.3L675.3,672.3L675.5,672.4L685.0,672.4Z" fill="#9470aa"/>
<line x1="585.8" y1="672.4" x2="685" y2="672.4" stroke="#cdcdcd" stroke-width="0.75" />
<line x1="585.8" y1="672.2" x2="685" y2="672.2" stroke="#9470aa" stroke-width="0.6" opacity="0.35"/>
<path d="M585.8,692.5L601.3,692.5L601.5,692.5L601.8,692.4L602.0,692.4L602.3,692.4L602.5,692.3L602.8,692.3L603.0,692.2L603.3,692.2L603.5,692.1L603.8,692.0L604.0,691.9L604.3,691.9L604.5,691.8L604.8,691.7L605.0,691.6L605.3,691.6L605.5,691.5L605.8,691.5L606.0,691.5L606.3,691.5L606.5,691.5L606.8,691.5L607.0,691.5L607.3,691.6L607.5,691.6L607.8,691.6L608.0,691.5L608.3,691.5L608.5,691.4L608.8,691.2L609.0,691.1L609.3,690.9L609.5,690.7L609.8,690.5L610.0,690.3L610.3,690.2L610.5,690.1L610.8,690.0L611.0,690.0L611.3,690.0L611.5,690.1L611.8,690.3L612.0,690.5L612.3,690.7L612.5,690.9L612.8,691.2L613.0,691.4L613.3,691.6L613.5,691.8L613.8,692.0L614.0,692.1L614.3,692.2L614.5,692.3L614.8,692.4L615.0,692.4L615.3,692.4L615.5,692.5L615.8,692.5L641.0,692.5L641.3,692.4L641.5,692.4L641.8,692.4L642.0,692.3L642.3,692.3L642.5,692.2L642.8,692.2L643.0,692.1L643.3,692.0L643.5,691.9L643.8,691.7L644.0,691.6L644.3,691.5L644.5,691.4L644.8,691.3L645.0,691.2L645.3,691.1L645.5,691.0L645.8,691.0L646.0,691.0L646.3,691.0L646.5,691.1L646.8,691.2L647.0,691.3L647.3,691.4L647.5,691.5L647.8,691.6L648.0,691.8L648.3,691.9L648.5,692.0L648.8,692.1L649.0,692.2L649.3,692.2L649.5,692.3L649.8,692.4L650.0,692.4L650.3,692.4L650.5,692.4L650.8,692.5L652.0,692.5L652.3,692.4L652.5,692.4L652.8,692.4L653.0,692.4L653.3,692.3L653.5,692.2L653.8,692.2L654.0,692.1L654.3,692.0L654.5,691.9L654.8,691.8L655.0,691.7L655.3,691.6L655.5,691.5L655.8,691.5L656.0,691.5L656.3,691.5L656.5,691.6L656.8,691.6L657.0,691.7L657.3,691.8L657.5,691.9L657.8,692.0L658.0,692.1L658.3,692.2L658.5,692.3L658.8,692.3L659.0,692.4L659.3,692.4L659.5,692.4L659.8,692.5L660.0,692.5L685.0,692.5Z" fill="#c0559d"/>
<line x1="585.8" y1="692.5" x2="685" y2="692.5" stroke="#cdcdcd" stroke-width="0.75" />
<line x1="585.8" y1="692.3" x2="685" y2="692.3" stroke="#c0559d" stroke-width="0.6" opacity="0.35"/>
<rect x="608.85" y="613.7" width="0.7" height="18.3" fill="#e06060" opacity="0.6"/>
<rect x="608.85" y="633.8" width="0.7" height="18.3" fill="#e06060" opacity="0.6"/>
<rect x="608.85" y="653.8" width="0.7" height="18.3" fill="#e06060" opacity="0.6"/>
<rect x="608.85" y="673.9" width="0.7" height="18.3" fill="#e06060" opacity="0.6"/>
<rect x="611.85" y="613.7" width="0.7" height="18.3" fill="#e06060" opacity="0.6"/>
<rect x="611.85" y="633.8" width="0.7" height="18.3" fill="#e06060" opacity="0.6"/>
<rect x="611.85" y="653.8" width="0.7" height="18.3" fill="#e06060" opacity="0.6"/>
<rect x="611.85" y="673.9" width="0.7" height="18.3" fill="#e06060" opacity="0.6"/>
<text x="564.5" y="648" font-size="7.6" text-anchor="middle" transform="rotate(-90 564.5 648)" textLength="60" lengthAdjust="spacingAndGlyphs">Normalized signal</text>
<text x="573.1" y="648" font-size="7.6" text-anchor="middle" transform="rotate(-90 573.1 648)" textLength="43" lengthAdjust="spacingAndGlyphs">(range 0–17)</text>
<line x1="581.8" y1="702.6" x2="581.8" y2="721.8" stroke="#aaa" stroke-width="0.8" />
<text x="574.8" y="711.5" font-size="7.2" text-anchor="middle" fill="#262626" transform="rotate(-90 574.8 711.5)">Genes</text>
<text x="609" y="605.5" font-size="5.8" fill="#262626" textLength="27.8" lengthAdjust="spacingAndGlyphs">rs6441972</text>
<text x="613" y="611.4" font-size="5.8" fill="#262626" textLength="33.7" lengthAdjust="spacingAndGlyphs">rs35943069</text>
<line x1="655.7" y1="706.5" x2="680.4" y2="706.5" stroke="#2b3990" stroke-width="1.35" />
<line x1="655.7" y1="706.5" x2="680.4" y2="706.5" stroke="#2b3990" stroke-width="2.2" stroke-dasharray="0.7 1.3"/>
<rect x="651.3" y="704.9" width="4.4" height="3.2" fill="#2b3990" />
<text x="630.4" y="703.5" font-size="7.4" fill="#262626">CCR2</text>
<line x1="585.8" y1="715.3" x2="685" y2="715.3" stroke="#777" stroke-width="0.7" />
<line x1="612.2" y1="715.3" x2="612.2" y2="717.5" stroke="#777" stroke-width="0.7" />
<line x1="638.4" y1="715.3" x2="638.4" y2="717.5" stroke="#777" stroke-width="0.7" />
<line x1="664.6" y1="715.3" x2="664.6" y2="717.5" stroke="#777" stroke-width="0.7" />
<text x="614.5" y="723.4" font-size="5.9" text-anchor="middle" fill="#444">46,350,000</text>
<text x="667.1" y="723.4" font-size="5.9" text-anchor="middle" fill="#444">46,355,000</text>
<text x="635.4" y="733" font-size="7.1" text-anchor="middle" fill="#262626">chr3 position (bp)</text></svg>
</body></html>
